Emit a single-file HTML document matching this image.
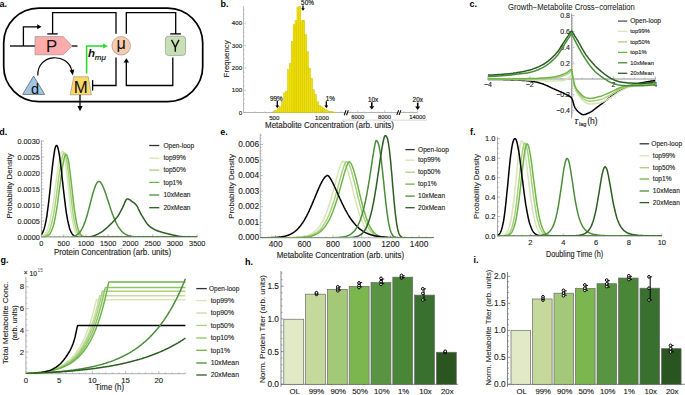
<!DOCTYPE html>
<html><head><meta charset="utf-8"><style>
html,body{margin:0;padding:0;background:#fff;}
svg{display:block;}
text{font-family:"Liberation Sans",sans-serif;}
</style></head><body>
<svg width="685" height="395" viewBox="0 0 685 395">
<defs><clipPath id="cd"><rect x="41.4" y="120" width="160" height="116.6"/></clipPath><clipPath id="ce"><rect x="260" y="120" width="175" height="117.3"/></clipPath><clipPath id="cf"><rect x="497.5" y="120" width="166" height="115.6"/></clipPath><clipPath id="cg"><rect x="25.9" y="270" width="162" height="103.6"/></clipPath></defs>
<rect width="685" height="395" fill="#fff"/>
<text x="-0.50" y="7.00" font-size="9" text-anchor="start" fill="#000" font-weight="bold" font-style="normal" font-family="Liberation Sans" >a.</text>
<rect x="3.7" y="8.1" width="199.0" height="93.5" rx="35" ry="35" fill="none" stroke="#000" stroke-width="1.7"/>
<line x1="10.00" y1="46.00" x2="35.00" y2="46.00" stroke="#000" stroke-width="1.3" />
<line x1="72.00" y1="46.00" x2="77.50" y2="46.00" stroke="#000" stroke-width="1.3" />
<path d="M23.4,46 L23.4,26.8 L38,26.8" stroke="#000" stroke-width="1.3" fill="none" />
<path d="M37.2,24.3 L41.4,26.8 L37.2,29.3 Z" stroke="#000" stroke-width="0" fill="#000" />
<path d="M35,36.6 L63.2,36.6 L72.2,46 L63.2,54.8 L35,54.8 Z" stroke="#8a8a8a" stroke-width="0.6" fill="#ffabab" />
<text x="51.50" y="51.70" font-size="16.8" text-anchor="middle" fill="#111" font-weight="normal" font-style="normal" font-family="Liberation Sans" >P</text>
<path d="M116,33.8 L116,12.6 L52.6,12.6 L52.6,33.9" stroke="#000" stroke-width="1.3" fill="none" />
<line x1="47.30" y1="33.90" x2="57.70" y2="33.90" stroke="#000" stroke-width="1.3" />
<circle cx="121.2" cy="45.8" r="9.3" fill="#f8cbad" stroke="#8a8a8a" stroke-width="0.6"/>
<text x="121.10" y="48.50" font-size="16.2" text-anchor="middle" fill="#111" font-weight="normal" font-style="normal" font-family="Liberation Sans" >μ</text>
<path d="M126.3,33.8 L126.3,12.6 L175.7,12.6 L175.7,33.9" stroke="#000" stroke-width="1.3" fill="none" />
<line x1="170.20" y1="33.90" x2="180.90" y2="33.90" stroke="#000" stroke-width="1.3" />
<rect x="165.4" y="36.2" width="20.1" height="19.2" rx="3" ry="3" fill="#c6e0b4" stroke="#8a8a8a" stroke-width="0.6"/>
<path d="M171.5,39.8 Q173.8,43.5 175.3,47.6 Q176.8,43.5 179.0,39.8 M175.3,47.4 L175.3,51.8" stroke="#111" stroke-width="1.45" fill="none" stroke-linejoin="round"/>
<path d="M172.8,57.4 L172.8,85.5 L126.3,85.5 L126.3,62" stroke="#000" stroke-width="1.3" fill="none" />
<path d="M123.6,62.6 L126.3,58.2 L129,62.6 Z" stroke="#000" stroke-width="0" fill="#000" />
<path d="M116,57.6 L116,85.5 L92.6,85.5" stroke="#000" stroke-width="1.3" fill="none" />
<line x1="92.60" y1="80.10" x2="92.60" y2="90.60" stroke="#000" stroke-width="1.3" />
<path d="M86.6,73.4 L86.6,45.9 L104,45.9" stroke="#22dd22" stroke-width="1.5" fill="none" />
<path d="M103.2,43.4 L107.8,45.9 L103.2,48.4 Z" stroke="#000" stroke-width="0" fill="#22dd22" />
<text x="88.00" y="56.80" font-size="11.5" text-anchor="start" fill="#111" font-weight="bold" font-style="italic" font-family="Liberation Serif" >h</text>
<text x="94.80" y="59.90" font-size="8.0" text-anchor="start" fill="#111" font-weight="normal" font-style="italic" font-family="Liberation Serif" stroke="#111" stroke-width="0.2" >mμ</text>
<path d="M33.6,76 L44.7,94.4 L22.6,94.4 Z" stroke="#555" stroke-width="0.7" fill="#9fc5e8" />
<text x="35.00" y="94.20" font-size="14.5" text-anchor="middle" fill="#111" font-weight="normal" font-style="normal" font-family="Liberation Sans" >d</text>
<path d="M37.8,75.5 C37.0,53.5 68,52 71.8,70.8" stroke="#000" stroke-width="1.2" fill="none" />
<path d="M69.6,70.6 L72.9,75.2 L74.2,69.6 Z" stroke="#000" stroke-width="0" fill="#000" />
<path d="M73.8,76.8 L88.2,76.8 L91.4,94.8 L70.2,94.8 Z" stroke="#8a8a8a" stroke-width="0.6" fill="#ffd966" />
<text x="80.70" y="92.70" font-size="16.8" text-anchor="middle" fill="#111" font-weight="normal" font-style="normal" font-family="Liberation Sans" >M</text>
<line x1="80.00" y1="94.80" x2="80.00" y2="106.50" stroke="#000" stroke-width="1.3" />
<path d="M77.4,106 L80,111.2 L82.6,106 Z" stroke="#000" stroke-width="0" fill="#000" />
<text x="220.40" y="7.00" font-size="9" text-anchor="start" fill="#000" font-weight="bold" font-style="normal" font-family="Liberation Sans" >b.</text>
<line x1="243.50" y1="6.00" x2="243.50" y2="112.50" stroke="#aaa" stroke-width="0.8" />
<line x1="243.50" y1="112.50" x2="246.30" y2="112.50" stroke="#aaa" stroke-width="0.6" />
<text x="242.20" y="114.70" font-size="6.2" text-anchor="end" fill="#222" font-weight="normal" font-style="normal" font-family="Liberation Sans" stroke="#222" stroke-width="0.15" >0</text>
<line x1="243.50" y1="90.17" x2="246.30" y2="90.17" stroke="#aaa" stroke-width="0.6" />
<text x="242.20" y="92.38" font-size="6.2" text-anchor="end" fill="#222" font-weight="normal" font-style="normal" font-family="Liberation Sans" stroke="#222" stroke-width="0.15" >100</text>
<line x1="243.50" y1="67.85" x2="246.30" y2="67.85" stroke="#aaa" stroke-width="0.6" />
<text x="242.20" y="70.05" font-size="6.2" text-anchor="end" fill="#222" font-weight="normal" font-style="normal" font-family="Liberation Sans" stroke="#222" stroke-width="0.15" >200</text>
<line x1="243.50" y1="45.53" x2="246.30" y2="45.53" stroke="#aaa" stroke-width="0.6" />
<text x="242.20" y="47.73" font-size="6.2" text-anchor="end" fill="#222" font-weight="normal" font-style="normal" font-family="Liberation Sans" stroke="#222" stroke-width="0.15" >300</text>
<line x1="243.50" y1="23.20" x2="246.30" y2="23.20" stroke="#aaa" stroke-width="0.6" />
<text x="242.20" y="25.40" font-size="6.2" text-anchor="end" fill="#222" font-weight="normal" font-style="normal" font-family="Liberation Sans" stroke="#222" stroke-width="0.15" >400</text>
<line x1="243.50" y1="108.03" x2="245.00" y2="108.03" stroke="#aaa" stroke-width="0.5" />
<line x1="243.50" y1="103.57" x2="245.00" y2="103.57" stroke="#aaa" stroke-width="0.5" />
<line x1="243.50" y1="99.11" x2="245.00" y2="99.11" stroke="#aaa" stroke-width="0.5" />
<line x1="243.50" y1="94.64" x2="245.00" y2="94.64" stroke="#aaa" stroke-width="0.5" />
<line x1="243.50" y1="85.71" x2="245.00" y2="85.71" stroke="#aaa" stroke-width="0.5" />
<line x1="243.50" y1="81.25" x2="245.00" y2="81.25" stroke="#aaa" stroke-width="0.5" />
<line x1="243.50" y1="76.78" x2="245.00" y2="76.78" stroke="#aaa" stroke-width="0.5" />
<line x1="243.50" y1="72.31" x2="245.00" y2="72.31" stroke="#aaa" stroke-width="0.5" />
<line x1="243.50" y1="63.38" x2="245.00" y2="63.38" stroke="#aaa" stroke-width="0.5" />
<line x1="243.50" y1="58.92" x2="245.00" y2="58.92" stroke="#aaa" stroke-width="0.5" />
<line x1="243.50" y1="54.45" x2="245.00" y2="54.45" stroke="#aaa" stroke-width="0.5" />
<line x1="243.50" y1="49.99" x2="245.00" y2="49.99" stroke="#aaa" stroke-width="0.5" />
<line x1="243.50" y1="41.06" x2="245.00" y2="41.06" stroke="#aaa" stroke-width="0.5" />
<line x1="243.50" y1="36.59" x2="245.00" y2="36.59" stroke="#aaa" stroke-width="0.5" />
<line x1="243.50" y1="32.13" x2="245.00" y2="32.13" stroke="#aaa" stroke-width="0.5" />
<line x1="243.50" y1="27.66" x2="245.00" y2="27.66" stroke="#aaa" stroke-width="0.5" />
<line x1="243.50" y1="18.73" x2="245.00" y2="18.73" stroke="#aaa" stroke-width="0.5" />
<line x1="243.50" y1="14.27" x2="245.00" y2="14.27" stroke="#aaa" stroke-width="0.5" />
<line x1="243.50" y1="9.80" x2="245.00" y2="9.80" stroke="#aaa" stroke-width="0.5" />
<text x="0.00" y="0.00" font-size="8.0" text-anchor="middle" fill="#222" font-weight="normal" font-style="normal" font-family="Liberation Sans" stroke="#222" stroke-width="0.1" textLength="37.0" lengthAdjust="spacingAndGlyphs" transform="translate(228.6,58.9) rotate(-90)">Frequency</text>
<line x1="243.50" y1="112.50" x2="345.00" y2="112.50" stroke="#aaa" stroke-width="0.9" />
<line x1="347.50" y1="112.50" x2="398.00" y2="112.50" stroke="#aaa" stroke-width="0.9" />
<line x1="400.50" y1="112.50" x2="417.70" y2="112.50" stroke="#aaa" stroke-width="0.9" />
<rect x="272.90" y="111.50" width="2.10" height="1.00" fill="#f0e000" stroke="#c9ba00" stroke-width="0.35"/>
<rect x="275.00" y="110.60" width="2.10" height="1.90" fill="#f0e000" stroke="#c9ba00" stroke-width="0.35"/>
<rect x="277.10" y="108.80" width="2.10" height="3.70" fill="#f0e000" stroke="#c9ba00" stroke-width="0.35"/>
<rect x="279.20" y="106.60" width="2.10" height="5.90" fill="#f0e000" stroke="#c9ba00" stroke-width="0.35"/>
<rect x="281.30" y="101.30" width="2.10" height="11.20" fill="#f0e000" stroke="#c9ba00" stroke-width="0.35"/>
<rect x="283.40" y="92.90" width="2.00" height="19.60" fill="#f0e000" stroke="#c9ba00" stroke-width="0.35"/>
<rect x="285.40" y="91.10" width="2.00" height="21.40" fill="#f0e000" stroke="#c9ba00" stroke-width="0.35"/>
<rect x="287.40" y="69.70" width="1.90" height="42.80" fill="#f0e000" stroke="#c9ba00" stroke-width="0.35"/>
<rect x="289.30" y="63.60" width="1.90" height="48.90" fill="#f0e000" stroke="#c9ba00" stroke-width="0.35"/>
<rect x="291.20" y="41.30" width="1.90" height="71.20" fill="#f0e000" stroke="#c9ba00" stroke-width="0.35"/>
<rect x="293.10" y="24.80" width="1.90" height="87.70" fill="#f0e000" stroke="#c9ba00" stroke-width="0.35"/>
<rect x="295.00" y="20.80" width="1.90" height="91.70" fill="#f0e000" stroke="#c9ba00" stroke-width="0.35"/>
<rect x="296.90" y="7.40" width="2.00" height="105.10" fill="#f0e000" stroke="#c9ba00" stroke-width="0.35"/>
<rect x="298.90" y="6.20" width="2.00" height="106.30" fill="#f0e000" stroke="#c9ba00" stroke-width="0.35"/>
<rect x="300.90" y="20.80" width="2.00" height="91.70" fill="#f0e000" stroke="#c9ba00" stroke-width="0.35"/>
<rect x="302.90" y="20.30" width="1.90" height="92.20" fill="#f0e000" stroke="#c9ba00" stroke-width="0.35"/>
<rect x="304.80" y="34.50" width="2.00" height="78.00" fill="#f0e000" stroke="#c9ba00" stroke-width="0.35"/>
<rect x="306.80" y="51.80" width="1.90" height="60.70" fill="#f0e000" stroke="#c9ba00" stroke-width="0.35"/>
<rect x="308.70" y="68.10" width="1.90" height="44.40" fill="#f0e000" stroke="#c9ba00" stroke-width="0.35"/>
<rect x="310.60" y="78.30" width="2.10" height="34.20" fill="#f0e000" stroke="#c9ba00" stroke-width="0.35"/>
<rect x="312.70" y="89.70" width="1.90" height="22.80" fill="#f0e000" stroke="#c9ba00" stroke-width="0.35"/>
<rect x="314.60" y="94.10" width="2.00" height="18.40" fill="#f0e000" stroke="#c9ba00" stroke-width="0.35"/>
<rect x="316.60" y="101.70" width="2.10" height="10.80" fill="#f0e000" stroke="#c9ba00" stroke-width="0.35"/>
<rect x="318.70" y="105.50" width="1.90" height="7.00" fill="#f0e000" stroke="#c9ba00" stroke-width="0.35"/>
<rect x="320.60" y="106.80" width="1.90" height="5.70" fill="#f0e000" stroke="#c9ba00" stroke-width="0.35"/>
<rect x="322.50" y="108.00" width="1.90" height="4.50" fill="#f0e000" stroke="#c9ba00" stroke-width="0.35"/>
<rect x="324.40" y="109.30" width="2.00" height="3.20" fill="#f0e000" stroke="#c9ba00" stroke-width="0.35"/>
<rect x="326.40" y="110.30" width="2.00" height="2.20" fill="#f0e000" stroke="#c9ba00" stroke-width="0.35"/>
<rect x="328.40" y="111.20" width="2.00" height="1.30" fill="#f0e000" stroke="#c9ba00" stroke-width="0.35"/>
<rect x="330.40" y="111.60" width="2.00" height="0.90" fill="#f0e000" stroke="#c9ba00" stroke-width="0.35"/>
<rect x="332.40" y="111.90" width="2.00" height="0.60" fill="#f0e000" stroke="#c9ba00" stroke-width="0.35"/>
<rect x="334.40" y="112.10" width="2.20" height="0.40" fill="#f0e000" stroke="#c9ba00" stroke-width="0.35"/>
<line x1="344.20" y1="115.30" x2="346.00" y2="110.30" stroke="#111" stroke-width="1.1" />
<line x1="346.50" y1="115.30" x2="348.30" y2="110.30" stroke="#111" stroke-width="1.1" />
<line x1="396.80" y1="115.00" x2="398.60" y2="110.20" stroke="#111" stroke-width="1.1" />
<line x1="399.10" y1="115.00" x2="400.90" y2="110.20" stroke="#111" stroke-width="1.1" />
<line x1="274.30" y1="112.50" x2="274.30" y2="110.30" stroke="#aaa" stroke-width="0.6" />
<text x="274.30" y="119.80" font-size="6.2" text-anchor="middle" fill="#222" font-weight="normal" font-style="normal" font-family="Liberation Sans" stroke="#222" stroke-width="0.15" >500</text>
<line x1="322.00" y1="112.50" x2="322.00" y2="110.30" stroke="#aaa" stroke-width="0.6" />
<text x="322.00" y="119.80" font-size="6.2" text-anchor="middle" fill="#222" font-weight="normal" font-style="normal" font-family="Liberation Sans" stroke="#222" stroke-width="0.15" >1000</text>
<line x1="255.22" y1="112.50" x2="255.22" y2="111.30" stroke="#aaa" stroke-width="0.5" />
<line x1="264.76" y1="112.50" x2="264.76" y2="111.30" stroke="#aaa" stroke-width="0.5" />
<line x1="283.84" y1="112.50" x2="283.84" y2="111.30" stroke="#aaa" stroke-width="0.5" />
<line x1="293.38" y1="112.50" x2="293.38" y2="111.30" stroke="#aaa" stroke-width="0.5" />
<line x1="302.92" y1="112.50" x2="302.92" y2="111.30" stroke="#aaa" stroke-width="0.5" />
<line x1="312.46" y1="112.50" x2="312.46" y2="111.30" stroke="#aaa" stroke-width="0.5" />
<line x1="331.54" y1="112.50" x2="331.54" y2="111.30" stroke="#aaa" stroke-width="0.5" />
<line x1="341.08" y1="112.50" x2="341.08" y2="111.30" stroke="#aaa" stroke-width="0.5" />
<line x1="357.70" y1="112.50" x2="357.70" y2="110.30" stroke="#aaa" stroke-width="0.6" />
<text x="357.70" y="119.40" font-size="5.9" text-anchor="middle" fill="#222" font-weight="normal" font-style="normal" font-family="Liberation Sans" stroke="#222" stroke-width="0.15" >6000</text>
<line x1="384.60" y1="112.50" x2="384.60" y2="110.30" stroke="#aaa" stroke-width="0.6" />
<text x="384.60" y="119.40" font-size="5.9" text-anchor="middle" fill="#222" font-weight="normal" font-style="normal" font-family="Liberation Sans" stroke="#222" stroke-width="0.15" >8000</text>
<line x1="417.40" y1="112.50" x2="417.40" y2="110.30" stroke="#aaa" stroke-width="0.6" />
<text x="417.40" y="119.40" font-size="5.9" text-anchor="middle" fill="#222" font-weight="normal" font-style="normal" font-family="Liberation Sans" stroke="#222" stroke-width="0.15" >14000</text>
<line x1="350.93" y1="112.50" x2="350.93" y2="111.30" stroke="#aaa" stroke-width="0.5" />
<line x1="364.47" y1="112.50" x2="364.47" y2="111.30" stroke="#aaa" stroke-width="0.5" />
<line x1="371.25" y1="112.50" x2="371.25" y2="111.30" stroke="#aaa" stroke-width="0.5" />
<line x1="378.02" y1="112.50" x2="378.02" y2="111.30" stroke="#aaa" stroke-width="0.5" />
<line x1="391.57" y1="112.50" x2="391.57" y2="111.30" stroke="#aaa" stroke-width="0.5" />
<line x1="404.20" y1="112.50" x2="404.20" y2="111.30" stroke="#aaa" stroke-width="0.5" />
<line x1="410.80" y1="112.50" x2="410.80" y2="111.30" stroke="#aaa" stroke-width="0.5" />
<line x1="342.00" y1="120.10" x2="427.00" y2="120.10" stroke="#bbb" stroke-width="0.6" />
<text x="329.50" y="127.60" font-size="8.6" text-anchor="middle" fill="#222" font-weight="normal" font-style="normal" font-family="Liberation Sans" stroke="#222" stroke-width="0.12" textLength="129.0" lengthAdjust="spacingAndGlyphs" >Metabolite Concentration (arb. units)</text>
<line x1="303.00" y1="5.40" x2="303.00" y2="8.70" stroke="#000" stroke-width="1.3" />
<path d="M301.20,8.20 L303.00,10.80 L304.80,8.20 Z" stroke="#000" stroke-width="0" fill="#000" />
<text x="301.10" y="5.00" font-size="6.4" text-anchor="start" fill="#111" font-weight="normal" font-style="normal" font-family="Liberation Sans" stroke="#111" stroke-width="0.15" >50%</text>
<line x1="277.30" y1="100.60" x2="277.30" y2="105.90" stroke="#000" stroke-width="1.3" />
<path d="M275.40,105.40 L277.30,108.20 L279.20,105.40 Z" stroke="#000" stroke-width="0" fill="#000" />
<text x="270.00" y="100.70" font-size="6.4" text-anchor="start" fill="#111" font-weight="normal" font-style="normal" font-family="Liberation Sans" stroke="#111" stroke-width="0.15" >99%</text>
<line x1="326.30" y1="101.20" x2="326.30" y2="105.90" stroke="#000" stroke-width="1.3" />
<path d="M324.40,105.40 L326.30,108.20 L328.20,105.40 Z" stroke="#000" stroke-width="0" fill="#000" />
<text x="325.70" y="101.00" font-size="6.4" text-anchor="start" fill="#111" font-weight="normal" font-style="normal" font-family="Liberation Sans" stroke="#111" stroke-width="0.15" >1%</text>
<line x1="371.80" y1="102.20" x2="371.80" y2="106.70" stroke="#000" stroke-width="1.6" />
<path d="M369.30,106.20 L371.80,109.60 L374.30,106.20 Z" stroke="#000" stroke-width="0" fill="#000" />
<text x="368.00" y="101.70" font-size="6.4" text-anchor="start" fill="#111" font-weight="normal" font-style="normal" font-family="Liberation Sans" stroke="#111" stroke-width="0.15" >10x</text>
<line x1="417.70" y1="102.60" x2="417.70" y2="107.10" stroke="#000" stroke-width="1.6" />
<path d="M415.20,106.60 L417.70,110.00 L420.20,106.60 Z" stroke="#000" stroke-width="0" fill="#000" />
<text x="412.60" y="102.20" font-size="6.4" text-anchor="start" fill="#111" font-weight="normal" font-style="normal" font-family="Liberation Sans" stroke="#111" stroke-width="0.15" >20x</text>
<text x="469.60" y="7.10" font-size="9" text-anchor="start" fill="#000" font-weight="bold" font-style="normal" font-family="Liberation Sans" >c.</text>
<text x="571.50" y="10.00" font-size="8.2" text-anchor="middle" fill="#222" font-weight="normal" font-style="normal" font-family="Liberation Sans" stroke="#222" stroke-width="0.05" textLength="126.8" lengthAdjust="spacingAndGlyphs" >Growth−Metabolite Cross−correlation</text>
<line x1="487.50" y1="79.00" x2="656.00" y2="79.00" stroke="#777" stroke-width="0.8" />
<line x1="571.70" y1="13.50" x2="571.70" y2="118.50" stroke="#777" stroke-width="0.8" />
<line x1="571.70" y1="110.75" x2="574.50" y2="110.75" stroke="#888" stroke-width="0.6" />
<text x="570.00" y="113.15" font-size="7.0" text-anchor="end" fill="#222" font-weight="normal" font-style="normal" font-family="Liberation Sans" stroke="#222" stroke-width="0.12" >−0.4</text>
<line x1="571.70" y1="94.88" x2="574.50" y2="94.88" stroke="#888" stroke-width="0.6" />
<text x="570.00" y="97.28" font-size="7.0" text-anchor="end" fill="#222" font-weight="normal" font-style="normal" font-family="Liberation Sans" stroke="#222" stroke-width="0.12" >−0.2</text>
<line x1="571.70" y1="63.12" x2="574.50" y2="63.12" stroke="#888" stroke-width="0.6" />
<text x="570.00" y="65.53" font-size="7.0" text-anchor="end" fill="#222" font-weight="normal" font-style="normal" font-family="Liberation Sans" stroke="#222" stroke-width="0.12" >0.2</text>
<line x1="571.70" y1="47.25" x2="574.50" y2="47.25" stroke="#888" stroke-width="0.6" />
<text x="570.00" y="49.65" font-size="7.0" text-anchor="end" fill="#222" font-weight="normal" font-style="normal" font-family="Liberation Sans" stroke="#222" stroke-width="0.12" >0.4</text>
<line x1="571.70" y1="31.38" x2="574.50" y2="31.38" stroke="#888" stroke-width="0.6" />
<text x="570.00" y="33.77" font-size="7.0" text-anchor="end" fill="#222" font-weight="normal" font-style="normal" font-family="Liberation Sans" stroke="#222" stroke-width="0.12" >0.6</text>
<line x1="571.70" y1="15.50" x2="574.50" y2="15.50" stroke="#888" stroke-width="0.6" />
<text x="570.00" y="17.90" font-size="7.0" text-anchor="end" fill="#222" font-weight="normal" font-style="normal" font-family="Liberation Sans" stroke="#222" stroke-width="0.12" >0.8</text>
<line x1="571.70" y1="113.92" x2="573.20" y2="113.92" stroke="#888" stroke-width="0.5" />
<line x1="571.70" y1="112.34" x2="573.20" y2="112.34" stroke="#888" stroke-width="0.5" />
<line x1="571.70" y1="109.16" x2="573.20" y2="109.16" stroke="#888" stroke-width="0.5" />
<line x1="571.70" y1="107.58" x2="573.20" y2="107.58" stroke="#888" stroke-width="0.5" />
<line x1="571.70" y1="105.99" x2="573.20" y2="105.99" stroke="#888" stroke-width="0.5" />
<line x1="571.70" y1="104.40" x2="573.20" y2="104.40" stroke="#888" stroke-width="0.5" />
<line x1="571.70" y1="102.81" x2="573.20" y2="102.81" stroke="#888" stroke-width="0.5" />
<line x1="571.70" y1="101.22" x2="573.20" y2="101.22" stroke="#888" stroke-width="0.5" />
<line x1="571.70" y1="99.64" x2="573.20" y2="99.64" stroke="#888" stroke-width="0.5" />
<line x1="571.70" y1="98.05" x2="573.20" y2="98.05" stroke="#888" stroke-width="0.5" />
<line x1="571.70" y1="96.46" x2="573.20" y2="96.46" stroke="#888" stroke-width="0.5" />
<line x1="571.70" y1="93.29" x2="573.20" y2="93.29" stroke="#888" stroke-width="0.5" />
<line x1="571.70" y1="91.70" x2="573.20" y2="91.70" stroke="#888" stroke-width="0.5" />
<line x1="571.70" y1="90.11" x2="573.20" y2="90.11" stroke="#888" stroke-width="0.5" />
<line x1="571.70" y1="88.53" x2="573.20" y2="88.53" stroke="#888" stroke-width="0.5" />
<line x1="571.70" y1="86.94" x2="573.20" y2="86.94" stroke="#888" stroke-width="0.5" />
<line x1="571.70" y1="85.35" x2="573.20" y2="85.35" stroke="#888" stroke-width="0.5" />
<line x1="571.70" y1="83.76" x2="573.20" y2="83.76" stroke="#888" stroke-width="0.5" />
<line x1="571.70" y1="82.17" x2="573.20" y2="82.17" stroke="#888" stroke-width="0.5" />
<line x1="571.70" y1="80.59" x2="573.20" y2="80.59" stroke="#888" stroke-width="0.5" />
<line x1="571.70" y1="77.41" x2="573.20" y2="77.41" stroke="#888" stroke-width="0.5" />
<line x1="571.70" y1="75.83" x2="573.20" y2="75.83" stroke="#888" stroke-width="0.5" />
<line x1="571.70" y1="74.24" x2="573.20" y2="74.24" stroke="#888" stroke-width="0.5" />
<line x1="571.70" y1="72.65" x2="573.20" y2="72.65" stroke="#888" stroke-width="0.5" />
<line x1="571.70" y1="71.06" x2="573.20" y2="71.06" stroke="#888" stroke-width="0.5" />
<line x1="571.70" y1="69.47" x2="573.20" y2="69.47" stroke="#888" stroke-width="0.5" />
<line x1="571.70" y1="67.89" x2="573.20" y2="67.89" stroke="#888" stroke-width="0.5" />
<line x1="571.70" y1="66.30" x2="573.20" y2="66.30" stroke="#888" stroke-width="0.5" />
<line x1="571.70" y1="64.71" x2="573.20" y2="64.71" stroke="#888" stroke-width="0.5" />
<line x1="571.70" y1="61.54" x2="573.20" y2="61.54" stroke="#888" stroke-width="0.5" />
<line x1="571.70" y1="59.95" x2="573.20" y2="59.95" stroke="#888" stroke-width="0.5" />
<line x1="571.70" y1="58.36" x2="573.20" y2="58.36" stroke="#888" stroke-width="0.5" />
<line x1="571.70" y1="56.77" x2="573.20" y2="56.77" stroke="#888" stroke-width="0.5" />
<line x1="571.70" y1="55.19" x2="573.20" y2="55.19" stroke="#888" stroke-width="0.5" />
<line x1="571.70" y1="53.60" x2="573.20" y2="53.60" stroke="#888" stroke-width="0.5" />
<line x1="571.70" y1="52.01" x2="573.20" y2="52.01" stroke="#888" stroke-width="0.5" />
<line x1="571.70" y1="50.42" x2="573.20" y2="50.42" stroke="#888" stroke-width="0.5" />
<line x1="571.70" y1="48.84" x2="573.20" y2="48.84" stroke="#888" stroke-width="0.5" />
<line x1="571.70" y1="45.66" x2="573.20" y2="45.66" stroke="#888" stroke-width="0.5" />
<line x1="571.70" y1="44.08" x2="573.20" y2="44.08" stroke="#888" stroke-width="0.5" />
<line x1="571.70" y1="42.49" x2="573.20" y2="42.49" stroke="#888" stroke-width="0.5" />
<line x1="571.70" y1="40.90" x2="573.20" y2="40.90" stroke="#888" stroke-width="0.5" />
<line x1="571.70" y1="39.31" x2="573.20" y2="39.31" stroke="#888" stroke-width="0.5" />
<line x1="571.70" y1="37.73" x2="573.20" y2="37.73" stroke="#888" stroke-width="0.5" />
<line x1="571.70" y1="36.14" x2="573.20" y2="36.14" stroke="#888" stroke-width="0.5" />
<line x1="571.70" y1="34.55" x2="573.20" y2="34.55" stroke="#888" stroke-width="0.5" />
<line x1="571.70" y1="32.96" x2="573.20" y2="32.96" stroke="#888" stroke-width="0.5" />
<line x1="571.70" y1="29.79" x2="573.20" y2="29.79" stroke="#888" stroke-width="0.5" />
<line x1="571.70" y1="28.20" x2="573.20" y2="28.20" stroke="#888" stroke-width="0.5" />
<line x1="571.70" y1="26.61" x2="573.20" y2="26.61" stroke="#888" stroke-width="0.5" />
<line x1="571.70" y1="25.03" x2="573.20" y2="25.03" stroke="#888" stroke-width="0.5" />
<line x1="571.70" y1="23.44" x2="573.20" y2="23.44" stroke="#888" stroke-width="0.5" />
<line x1="571.70" y1="21.85" x2="573.20" y2="21.85" stroke="#888" stroke-width="0.5" />
<line x1="571.70" y1="20.26" x2="573.20" y2="20.26" stroke="#888" stroke-width="0.5" />
<line x1="571.70" y1="18.68" x2="573.20" y2="18.68" stroke="#888" stroke-width="0.5" />
<line x1="571.70" y1="17.09" x2="573.20" y2="17.09" stroke="#888" stroke-width="0.5" />
<line x1="487.90" y1="79.00" x2="487.90" y2="76.50" stroke="#888" stroke-width="0.6" />
<text x="487.90" y="87.30" font-size="7.0" text-anchor="middle" fill="#222" font-weight="normal" font-style="normal" font-family="Liberation Sans" stroke="#222" stroke-width="0.12" >−4</text>
<line x1="529.75" y1="79.00" x2="529.75" y2="76.50" stroke="#888" stroke-width="0.6" />
<text x="529.75" y="87.30" font-size="7.0" text-anchor="middle" fill="#222" font-weight="normal" font-style="normal" font-family="Liberation Sans" stroke="#222" stroke-width="0.12" >−2</text>
<line x1="613.45" y1="79.00" x2="613.45" y2="76.50" stroke="#888" stroke-width="0.6" />
<text x="613.45" y="87.30" font-size="7.0" text-anchor="middle" fill="#222" font-weight="normal" font-style="normal" font-family="Liberation Sans" stroke="#222" stroke-width="0.12" >2</text>
<line x1="655.30" y1="79.00" x2="655.30" y2="76.50" stroke="#888" stroke-width="0.6" />
<text x="655.30" y="87.30" font-size="7.0" text-anchor="middle" fill="#222" font-weight="normal" font-style="normal" font-family="Liberation Sans" stroke="#222" stroke-width="0.12" >4</text>
<line x1="498.36" y1="79.00" x2="498.36" y2="77.60" stroke="#888" stroke-width="0.5" />
<line x1="508.82" y1="79.00" x2="508.82" y2="77.60" stroke="#888" stroke-width="0.5" />
<line x1="519.29" y1="79.00" x2="519.29" y2="77.60" stroke="#888" stroke-width="0.5" />
<line x1="540.21" y1="79.00" x2="540.21" y2="77.60" stroke="#888" stroke-width="0.5" />
<line x1="550.67" y1="79.00" x2="550.67" y2="77.60" stroke="#888" stroke-width="0.5" />
<line x1="561.14" y1="79.00" x2="561.14" y2="77.60" stroke="#888" stroke-width="0.5" />
<line x1="582.06" y1="79.00" x2="582.06" y2="77.60" stroke="#888" stroke-width="0.5" />
<line x1="592.52" y1="79.00" x2="592.52" y2="77.60" stroke="#888" stroke-width="0.5" />
<line x1="602.99" y1="79.00" x2="602.99" y2="77.60" stroke="#888" stroke-width="0.5" />
<line x1="623.91" y1="79.00" x2="623.91" y2="77.60" stroke="#888" stroke-width="0.5" />
<line x1="634.38" y1="79.00" x2="634.38" y2="77.60" stroke="#888" stroke-width="0.5" />
<line x1="644.84" y1="79.00" x2="644.84" y2="77.60" stroke="#888" stroke-width="0.5" />
<text x="574.60" y="123.60" font-size="9.5" text-anchor="start" fill="#222" font-weight="normal" font-style="italic" font-family="Liberation Serif" stroke="#222" stroke-width="0.12" >τ</text>
<text x="578.90" y="125.70" font-size="5.6" text-anchor="start" fill="#222" font-weight="normal" font-style="normal" font-family="Liberation Sans" stroke="#222" stroke-width="0.12" >lag</text>
<text x="587.20" y="123.50" font-size="8.6" text-anchor="start" fill="#222" font-weight="normal" font-style="normal" font-family="Liberation Sans" stroke="#222" stroke-width="0.12" >(h)</text>
<path d="M487.9,79.4 L488.7,79.4 L489.6,79.4 L490.4,79.4 L491.2,79.4 L492.1,79.4 L492.9,79.4 L493.8,79.4 L494.6,79.5 L495.4,79.5 L496.3,79.5 L497.1,79.5 L497.9,79.5 L498.8,79.5 L499.6,79.5 L500.5,79.6 L501.3,79.6 L502.1,79.6 L503.0,79.6 L503.8,79.7 L504.6,79.7 L505.5,79.7 L506.3,79.7 L507.2,79.7 L508.0,79.8 L508.8,79.8 L509.7,79.8 L510.5,79.8 L511.3,79.9 L512.2,79.9 L513.0,79.9 L513.8,80.0 L514.7,80.0 L515.5,80.0 L516.4,80.1 L517.2,80.1 L518.0,80.2 L518.9,80.2 L519.7,80.2 L520.5,80.3 L521.4,80.3 L522.2,80.4 L523.1,80.4 L523.9,80.5 L524.7,80.6 L525.6,80.6 L526.4,80.7 L527.2,80.8 L528.1,80.8 L528.9,80.9 L529.8,81.0 L530.6,81.1 L531.4,81.2 L532.3,81.3 L533.1,81.4 L533.9,81.6 L534.8,81.8 L535.6,81.9 L536.4,82.1 L537.3,82.3 L538.1,82.5 L539.0,82.8 L539.8,83.0 L540.6,83.2 L541.5,83.5 L542.3,83.7 L543.1,84.0 L544.0,84.4 L544.8,84.7 L545.7,85.1 L546.5,85.4 L547.3,85.8 L548.2,86.2 L549.0,86.6 L549.8,87.0 L550.7,87.4 L551.5,87.8 L552.3,88.2 L553.2,88.6 L554.0,88.9 L554.9,89.3 L555.7,89.7 L556.5,90.0 L557.4,90.4 L558.2,90.7 L559.0,91.1 L559.9,91.5 L560.7,91.8 L561.6,92.2 L562.4,92.6 L563.2,92.9 L564.1,93.3 L564.9,93.8 L565.7,94.2 L566.6,94.6 L567.4,95.1 L568.3,95.5 L569.1,96.0 L569.9,96.5 L570.8,97.2 L571.6,98.0 L572.4,99.8 L573.3,102.6 L574.1,105.5 L574.9,107.6 L575.8,108.9 L576.6,110.0 L577.5,111.0 L578.3,111.8 L579.1,112.5 L580.0,113.1 L580.8,113.7 L581.6,114.3 L582.5,114.6 L583.3,114.7 L584.2,114.6 L585.0,114.4 L585.8,114.2 L586.7,113.8 L587.5,113.5 L588.3,113.1 L589.2,112.8 L590.0,112.3 L590.9,111.9 L591.7,111.3 L592.5,110.8 L593.4,110.2 L594.2,109.5 L595.0,108.9 L595.9,108.2 L596.7,107.6 L597.5,106.9 L598.4,106.3 L599.2,105.7 L600.1,105.0 L600.9,104.4 L601.7,103.8 L602.6,103.2 L603.4,102.5 L604.2,101.9 L605.1,101.2 L605.9,100.5 L606.8,99.9 L607.6,99.2 L608.4,98.6 L609.3,97.9 L610.1,97.3 L610.9,96.6 L611.8,96.0 L612.6,95.4 L613.4,94.9 L614.3,94.3 L615.1,93.8 L616.0,93.2 L616.8,92.6 L617.6,92.1 L618.5,91.6 L619.3,91.0 L620.1,90.5 L621.0,90.1 L621.8,89.6 L622.7,89.1 L623.5,88.7 L624.3,88.3 L625.2,88.0 L626.0,87.6 L626.8,87.2 L627.7,86.9 L628.5,86.5 L629.4,86.2 L630.2,85.9 L631.0,85.6 L631.9,85.3 L632.7,85.1 L633.5,84.8 L634.4,84.6 L635.2,84.3 L636.0,84.1 L636.9,83.9 L637.7,83.7 L638.6,83.5 L639.4,83.3 L640.2,83.1 L641.1,82.9 L641.9,82.7 L642.7,82.6 L643.6,82.4 L644.4,82.3 L645.3,82.1 L646.1,81.9 L646.9,81.8 L647.8,81.7 L648.6,81.5 L649.4,81.4 L650.3,81.3 L651.1,81.1 L652.0,81.0 L652.8,80.9 L653.6,80.8 L654.5,80.7 L655.3,80.6" stroke="#000000" stroke-width="1.5" fill="none" stroke-linejoin="round"/>
<path d="M487.9,79.4 L488.7,79.4 L489.6,79.4 L490.4,79.4 L491.2,79.4 L492.1,79.4 L492.9,79.4 L493.8,79.4 L494.6,79.4 L495.4,79.4 L496.3,79.4 L497.1,79.4 L497.9,79.4 L498.8,79.4 L499.6,79.5 L500.5,79.5 L501.3,79.5 L502.1,79.5 L503.0,79.5 L503.8,79.5 L504.6,79.5 L505.5,79.5 L506.3,79.5 L507.2,79.5 L508.0,79.5 L508.8,79.6 L509.7,79.6 L510.5,79.6 L511.3,79.6 L512.2,79.6 L513.0,79.6 L513.8,79.6 L514.7,79.7 L515.5,79.7 L516.4,79.7 L517.2,79.7 L518.0,79.7 L518.9,79.7 L519.7,79.7 L520.5,79.8 L521.4,79.8 L522.2,79.8 L523.1,79.8 L523.9,79.8 L524.7,79.8 L525.6,79.9 L526.4,79.9 L527.2,79.9 L528.1,79.9 L528.9,79.9 L529.8,80.0 L530.6,80.0 L531.4,80.0 L532.3,80.0 L533.1,80.1 L533.9,80.1 L534.8,80.2 L535.6,80.2 L536.4,80.3 L537.3,80.3 L538.1,80.4 L539.0,80.4 L539.8,80.5 L540.6,80.6 L541.5,80.6 L542.3,80.7 L543.1,80.7 L544.0,80.8 L544.8,80.8 L545.7,80.9 L546.5,80.9 L547.3,80.9 L548.2,80.9 L549.0,81.0 L549.8,81.0 L550.7,81.0 L551.5,81.0 L552.3,81.0 L553.2,81.0 L554.0,81.0 L554.9,80.9 L555.7,80.9 L556.5,80.9 L557.4,80.9 L558.2,80.8 L559.0,80.8 L559.9,80.8 L560.7,80.7 L561.6,80.7 L562.4,80.6 L563.2,80.6 L564.1,80.5 L564.9,80.2 L565.7,79.8 L566.6,79.3 L567.4,78.7 L568.3,78.0 L569.1,77.3 L569.9,76.6 L570.8,75.8 L571.6,75.0" stroke="#d6e6b6" stroke-width="1.5" fill="none" stroke-linejoin="round"/>
<path d="M571.6,75.0 L572.4,79.1 L573.3,82.8 L574.1,86.0 L574.9,88.5 L575.8,90.5 L576.6,92.2 L577.5,93.7 L578.3,95.0 L579.1,96.2 L580.0,97.3 L580.8,98.3 L581.6,99.2 L582.5,100.0 L583.3,100.8 L584.2,101.5 L585.0,102.0 L585.8,102.5 L586.7,103.0 L587.5,103.4 L588.3,103.7 L589.2,104.0 L590.0,104.0 L590.9,104.0 L591.7,103.9 L592.5,103.9 L593.4,103.8 L594.2,103.7 L595.0,103.6 L595.9,103.5 L596.7,103.4 L597.5,103.2 L598.4,103.1 L599.2,102.9 L600.1,102.8 L600.9,102.6 L601.7,102.3 L602.6,102.0 L603.4,101.6 L604.2,101.2 L605.1,100.8 L605.9,100.3 L606.8,99.9 L607.6,99.4 L608.4,98.9 L609.3,98.4 L610.1,97.9 L610.9,97.4 L611.8,96.9 L612.6,96.3 L613.4,95.7 L614.3,95.1 L615.1,94.5 L616.0,93.9 L616.8,93.3 L617.6,92.7 L618.5,92.2 L619.3,91.6 L620.1,91.2 L621.0,90.8 L621.8,90.3 L622.7,89.9 L623.5,89.5 L624.3,89.0 L625.2,88.7 L626.0,88.3 L626.8,87.9 L627.7,87.6 L628.5,87.3 L629.4,87.1 L630.2,86.9 L631.0,86.7 L631.9,86.5 L632.7,86.4 L633.5,86.2 L634.4,86.0 L635.2,85.9 L636.0,85.8 L636.9,85.6 L637.7,85.5 L638.6,85.4 L639.4,85.3 L640.2,85.2 L641.1,85.1 L641.9,85.0 L642.7,85.0 L643.6,84.9 L644.4,84.8 L645.3,84.7 L646.1,84.7 L646.9,84.6 L647.8,84.5 L648.6,84.5 L649.4,84.4 L650.3,84.4 L651.1,84.3 L652.0,84.3 L652.8,84.2 L653.6,84.2 L654.5,84.2 L655.3,84.2" stroke="#d6e6b6" stroke-width="1.5" fill="none" stroke-linejoin="round"/>
<path d="M487.9,79.0 L488.7,79.0 L489.6,79.0 L490.4,79.0 L491.2,79.0 L492.1,79.0 L492.9,79.0 L493.8,79.0 L494.6,79.0 L495.4,79.0 L496.3,79.0 L497.1,79.0 L497.9,79.0 L498.8,79.0 L499.6,79.0 L500.5,79.0 L501.3,79.0 L502.1,79.0 L503.0,79.0 L503.8,79.0 L504.6,79.0 L505.5,79.0 L506.3,79.0 L507.2,79.0 L508.0,79.0 L508.8,79.0 L509.7,79.0 L510.5,79.0 L511.3,79.0 L512.2,79.0 L513.0,79.0 L513.8,79.0 L514.7,79.0 L515.5,79.0 L516.4,79.0 L517.2,79.0 L518.0,79.0 L518.9,79.0 L519.7,79.0 L520.5,79.0 L521.4,79.0 L522.2,79.0 L523.1,79.0 L523.9,79.0 L524.7,79.0 L525.6,79.0 L526.4,79.0 L527.2,79.0 L528.1,79.0 L528.9,79.0 L529.8,79.0 L530.6,79.0 L531.4,79.0 L532.3,79.0 L533.1,79.0 L533.9,79.0 L534.8,79.0 L535.6,78.9 L536.4,78.9 L537.3,78.9 L538.1,78.9 L539.0,78.9 L539.8,78.8 L540.6,78.8 L541.5,78.8 L542.3,78.8 L543.1,78.7 L544.0,78.7 L544.8,78.7 L545.7,78.6 L546.5,78.6 L547.3,78.5 L548.2,78.5 L549.0,78.5 L549.8,78.4 L550.7,78.4 L551.5,78.3 L552.3,78.2 L553.2,78.1 L554.0,78.0 L554.9,77.9 L555.7,77.7 L556.5,77.6 L557.4,77.4 L558.2,77.2 L559.0,77.0 L559.9,76.8 L560.7,76.6 L561.6,76.3 L562.4,76.1 L563.2,75.8 L564.1,75.5 L564.9,75.2 L565.7,74.8 L566.6,74.4 L567.4,73.9 L568.3,73.4 L569.1,72.8 L569.9,72.2 L570.8,71.7 L571.6,71.1" stroke="#a9d07f" stroke-width="1.5" fill="none" stroke-linejoin="round"/>
<path d="M571.6,71.1 L572.4,76.0 L573.3,80.4 L574.1,84.2 L574.9,86.9 L575.8,88.9 L576.6,90.6 L577.5,92.0 L578.3,93.2 L579.1,94.3 L580.0,95.3 L580.8,96.2 L581.6,97.1 L582.5,97.9 L583.3,98.6 L584.2,99.2 L585.0,99.6 L585.8,100.0 L586.7,100.4 L587.5,100.8 L588.3,101.0 L589.2,101.2 L590.0,101.2 L590.9,101.2 L591.7,101.1 L592.5,101.1 L593.4,101.0 L594.2,100.8 L595.0,100.7 L595.9,100.5 L596.7,100.3 L597.5,100.2 L598.4,100.0 L599.2,99.8 L600.1,99.6 L600.9,99.4 L601.7,99.1 L602.6,98.8 L603.4,98.4 L604.2,98.1 L605.1,97.7 L605.9,97.3 L606.8,96.9 L607.6,96.4 L608.4,96.0 L609.3,95.6 L610.1,95.2 L610.9,94.7 L611.8,94.2 L612.6,93.7 L613.4,93.2 L614.3,92.6 L615.1,92.1 L616.0,91.5 L616.8,91.0 L617.6,90.5 L618.5,90.0 L619.3,89.6 L620.1,89.2 L621.0,88.9 L621.8,88.5 L622.7,88.2 L623.5,87.9 L624.3,87.6 L625.2,87.3 L626.0,87.0 L626.8,86.7 L627.7,86.5 L628.5,86.3 L629.4,86.1 L630.2,85.9 L631.0,85.8 L631.9,85.7 L632.7,85.5 L633.5,85.4 L634.4,85.3 L635.2,85.2 L636.0,85.1 L636.9,84.9 L637.7,84.9 L638.6,84.8 L639.4,84.7 L640.2,84.6 L641.1,84.5 L641.9,84.5 L642.7,84.4 L643.6,84.3 L644.4,84.3 L645.3,84.2 L646.1,84.2 L646.9,84.1 L647.8,84.1 L648.6,84.0 L649.4,84.0 L650.3,83.9 L651.1,83.9 L652.0,83.9 L652.8,83.8 L653.6,83.8 L654.5,83.8 L655.3,83.8" stroke="#a9d07f" stroke-width="1.5" fill="none" stroke-linejoin="round"/>
<path d="M487.9,79.0 L488.7,79.0 L489.6,79.0 L490.4,79.0 L491.2,79.0 L492.1,79.0 L492.9,79.0 L493.8,79.0 L494.6,79.0 L495.4,79.0 L496.3,79.0 L497.1,79.0 L497.9,79.0 L498.8,79.0 L499.6,79.0 L500.5,79.0 L501.3,79.0 L502.1,78.9 L503.0,78.9 L503.8,78.9 L504.6,78.9 L505.5,78.9 L506.3,78.9 L507.2,78.9 L508.0,78.9 L508.8,78.9 L509.7,78.9 L510.5,78.9 L511.3,78.9 L512.2,78.9 L513.0,78.8 L513.8,78.8 L514.7,78.8 L515.5,78.8 L516.4,78.8 L517.2,78.8 L518.0,78.8 L518.9,78.8 L519.7,78.8 L520.5,78.8 L521.4,78.7 L522.2,78.7 L523.1,78.7 L523.9,78.7 L524.7,78.7 L525.6,78.7 L526.4,78.7 L527.2,78.6 L528.1,78.6 L528.9,78.6 L529.8,78.6 L530.6,78.6 L531.4,78.6 L532.3,78.5 L533.1,78.5 L533.9,78.5 L534.8,78.5 L535.6,78.4 L536.4,78.4 L537.3,78.4 L538.1,78.3 L539.0,78.3 L539.8,78.2 L540.6,78.2 L541.5,78.1 L542.3,78.1 L543.1,78.0 L544.0,78.0 L544.8,77.9 L545.7,77.9 L546.5,77.8 L547.3,77.7 L548.2,77.6 L549.0,77.6 L549.8,77.5 L550.7,77.4 L551.5,77.3 L552.3,77.2 L553.2,77.1 L554.0,76.9 L554.9,76.8 L555.7,76.6 L556.5,76.4 L557.4,76.1 L558.2,75.9 L559.0,75.7 L559.9,75.4 L560.7,75.1 L561.6,74.8 L562.4,74.5 L563.2,74.2 L564.1,73.9 L564.9,73.5 L565.7,73.1 L566.6,72.6 L567.4,72.1 L568.3,71.5 L569.1,70.9 L569.9,70.3 L570.8,69.7 L571.6,69.1" stroke="#6db544" stroke-width="1.5" fill="none" stroke-linejoin="round"/>
<path d="M571.6,69.1 L572.4,74.3 L573.3,79.1 L574.1,83.0 L574.9,85.7 L575.8,87.6 L576.6,89.1 L577.5,90.4 L578.3,91.5 L579.1,92.4 L580.0,93.3 L580.8,94.1 L581.6,94.9 L582.5,95.7 L583.3,96.3 L584.2,96.9 L585.0,97.3 L585.8,97.6 L586.7,97.9 L587.5,98.1 L588.3,98.3 L589.2,98.4 L590.0,98.4 L590.9,98.4 L591.7,98.3 L592.5,98.2 L593.4,98.1 L594.2,97.9 L595.0,97.7 L595.9,97.5 L596.7,97.3 L597.5,97.1 L598.4,96.9 L599.2,96.6 L600.1,96.4 L600.9,96.2 L601.7,95.9 L602.6,95.6 L603.4,95.3 L604.2,94.9 L605.1,94.6 L605.9,94.2 L606.8,93.9 L607.6,93.5 L608.4,93.1 L609.3,92.8 L610.1,92.4 L610.9,92.0 L611.8,91.6 L612.6,91.2 L613.4,90.8 L614.3,90.3 L615.1,89.9 L616.0,89.5 L616.8,89.0 L617.6,88.7 L618.5,88.3 L619.3,88.0 L620.1,87.7 L621.0,87.4 L621.8,87.1 L622.7,86.8 L623.5,86.6 L624.3,86.3 L625.2,86.1 L626.0,85.9 L626.8,85.7 L627.7,85.5 L628.5,85.4 L629.4,85.2 L630.2,85.1 L631.0,85.0 L631.9,84.9 L632.7,84.8 L633.5,84.7 L634.4,84.6 L635.2,84.5 L636.0,84.4 L636.9,84.3 L637.7,84.3 L638.6,84.2 L639.4,84.1 L640.2,84.1 L641.1,84.0 L641.9,84.0 L642.7,83.9 L643.6,83.9 L644.4,83.8 L645.3,83.8 L646.1,83.7 L646.9,83.7 L647.8,83.7 L648.6,83.6 L649.4,83.6 L650.3,83.6 L651.1,83.5 L652.0,83.5 L652.8,83.5 L653.6,83.5 L654.5,83.5 L655.3,83.4" stroke="#6db544" stroke-width="1.5" fill="none" stroke-linejoin="round"/>
<path d="M487.9,76.5 L488.7,76.5 L489.6,76.4 L490.4,76.4 L491.2,76.4 L492.1,76.4 L492.9,76.3 L493.8,76.3 L494.6,76.3 L495.4,76.2 L496.3,76.2 L497.1,76.1 L497.9,76.1 L498.8,76.0 L499.6,76.0 L500.5,75.9 L501.3,75.8 L502.1,75.8 L503.0,75.7 L503.8,75.6 L504.6,75.6 L505.5,75.5 L506.3,75.4 L507.2,75.3 L508.0,75.3 L508.8,75.2 L509.7,75.1 L510.5,75.0 L511.3,74.9 L512.2,74.8 L513.0,74.7 L513.8,74.5 L514.7,74.4 L515.5,74.3 L516.4,74.2 L517.2,74.1 L518.0,74.0 L518.9,73.9 L519.7,73.8 L520.5,73.8 L521.4,73.7 L522.2,73.6 L523.1,73.5 L523.9,73.4 L524.7,73.3 L525.6,73.2 L526.4,73.0 L527.2,72.9 L528.1,72.8 L528.9,72.6 L529.8,72.4 L530.6,72.2 L531.4,72.0 L532.3,71.8 L533.1,71.5 L533.9,71.3 L534.8,71.0 L535.6,70.7 L536.4,70.3 L537.3,70.0 L538.1,69.7 L539.0,69.3 L539.8,68.9 L540.6,68.5 L541.5,68.1 L542.3,67.7 L543.1,67.3 L544.0,66.8 L544.8,66.3 L545.7,65.8 L546.5,65.3 L547.3,64.7 L548.2,64.1 L549.0,63.5 L549.8,62.8 L550.7,62.1 L551.5,61.4 L552.3,60.6 L553.2,59.9 L554.0,59.0 L554.9,58.2 L555.7,57.3 L556.5,56.4 L557.4,55.5 L558.2,54.4 L559.0,53.1 L559.9,51.8 L560.7,50.5 L561.6,49.1 L562.4,47.7 L563.2,46.3 L564.1,45.0 L564.9,43.7 L565.7,42.5 L566.6,41.2 L567.4,39.9 L568.3,38.6 L569.1,37.4 L569.9,36.1 L570.8,34.8 L571.6,33.5" stroke="#4a8c3a" stroke-width="1.5" fill="none" stroke-linejoin="round"/>
<path d="M571.6,33.5 L572.4,35.3 L573.3,37.0 L574.1,38.7 L574.9,40.4 L575.8,42.1 L576.6,43.7 L577.5,45.3 L578.3,46.8 L579.1,48.4 L580.0,49.9 L580.8,51.4 L581.6,52.8 L582.5,54.3 L583.3,55.7 L584.2,57.0 L585.0,58.4 L585.8,59.6 L586.7,60.9 L587.5,62.1 L588.3,63.3 L589.2,64.5 L590.0,65.6 L590.9,66.7 L591.7,67.8 L592.5,68.8 L593.4,69.7 L594.2,70.6 L595.0,71.5 L595.9,72.3 L596.7,73.0 L597.5,73.7 L598.4,74.4 L599.2,75.0 L600.1,75.6 L600.9,76.3 L601.7,76.8 L602.6,77.4 L603.4,78.0 L604.2,78.6 L605.1,79.1 L605.9,79.7 L606.8,80.2 L607.6,80.8 L608.4,81.3 L609.3,81.7 L610.1,82.1 L610.9,82.5 L611.8,82.8 L612.6,83.2 L613.4,83.5 L614.3,83.8 L615.1,84.1 L616.0,84.3 L616.8,84.6 L617.6,84.8 L618.5,84.9 L619.3,85.1 L620.1,85.2 L621.0,85.3 L621.8,85.4 L622.7,85.5 L623.5,85.5 L624.3,85.6 L625.2,85.7 L626.0,85.7 L626.8,85.8 L627.7,85.8 L628.5,85.8 L629.4,85.8 L630.2,85.8 L631.0,85.8 L631.9,85.8 L632.7,85.8 L633.5,85.8 L634.4,85.8 L635.2,85.8 L636.0,85.8 L636.9,85.8 L637.7,85.8 L638.6,85.8 L639.4,85.8 L640.2,85.8 L641.1,85.7 L641.9,85.7 L642.7,85.7 L643.6,85.7 L644.4,85.6 L645.3,85.6 L646.1,85.5 L646.9,85.4 L647.8,85.4 L648.6,85.3 L649.4,85.2 L650.3,85.1 L651.1,85.0 L652.0,85.0 L652.8,84.9 L653.6,84.8 L654.5,84.7 L655.3,84.6" stroke="#4a8c3a" stroke-width="1.5" fill="none" stroke-linejoin="round"/>
<path d="M487.9,75.0 L488.7,75.0 L489.6,75.0 L490.4,75.0 L491.2,75.0 L492.1,74.9 L492.9,74.9 L493.8,74.9 L494.6,74.8 L495.4,74.8 L496.3,74.7 L497.1,74.7 L497.9,74.6 L498.8,74.6 L499.6,74.5 L500.5,74.5 L501.3,74.4 L502.1,74.3 L503.0,74.3 L503.8,74.2 L504.6,74.1 L505.5,74.1 L506.3,74.0 L507.2,73.9 L508.0,73.8 L508.8,73.8 L509.7,73.7 L510.5,73.6 L511.3,73.5 L512.2,73.4 L513.0,73.3 L513.8,73.1 L514.7,73.0 L515.5,72.9 L516.4,72.7 L517.2,72.6 L518.0,72.5 L518.9,72.3 L519.7,72.2 L520.5,72.0 L521.4,71.9 L522.2,71.7 L523.1,71.6 L523.9,71.4 L524.7,71.2 L525.6,71.0 L526.4,70.8 L527.2,70.6 L528.1,70.4 L528.9,70.2 L529.8,70.0 L530.6,69.7 L531.4,69.5 L532.3,69.2 L533.1,68.9 L533.9,68.6 L534.8,68.3 L535.6,68.0 L536.4,67.7 L537.3,67.3 L538.1,67.0 L539.0,66.6 L539.8,66.2 L540.6,65.8 L541.5,65.4 L542.3,64.9 L543.1,64.5 L544.0,64.0 L544.8,63.5 L545.7,62.9 L546.5,62.3 L547.3,61.7 L548.2,61.1 L549.0,60.4 L549.8,59.7 L550.7,58.9 L551.5,58.2 L552.3,57.4 L553.2,56.6 L554.0,55.7 L554.9,54.9 L555.7,54.0 L556.5,53.0 L557.4,52.1 L558.2,51.0 L559.0,49.8 L559.9,48.5 L560.7,47.1 L561.6,45.8 L562.4,44.4 L563.2,43.1 L564.1,41.9 L564.9,40.6 L565.7,39.4 L566.6,38.1 L567.4,36.9 L568.3,35.6 L569.1,34.3 L569.9,33.1 L570.8,31.8 L571.6,30.6" stroke="#2b5e22" stroke-width="1.5" fill="none" stroke-linejoin="round"/>
<path d="M571.6,30.6 L572.4,31.9 L573.3,33.3 L574.1,34.7 L574.9,36.1 L575.8,37.5 L576.6,38.9 L577.5,40.2 L578.3,41.6 L579.1,43.1 L580.0,44.6 L580.8,46.1 L581.6,47.6 L582.5,49.1 L583.3,50.5 L584.2,52.0 L585.0,53.3 L585.8,54.6 L586.7,55.8 L587.5,56.9 L588.3,58.0 L589.2,59.1 L590.0,60.1 L590.9,61.1 L591.7,62.1 L592.5,63.0 L593.4,63.9 L594.2,64.8 L595.0,65.7 L595.9,66.5 L596.7,67.4 L597.5,68.1 L598.4,68.9 L599.2,69.7 L600.1,70.4 L600.9,71.1 L601.7,71.8 L602.6,72.5 L603.4,73.1 L604.2,73.8 L605.1,74.5 L605.9,75.1 L606.8,75.7 L607.6,76.3 L608.4,76.9 L609.3,77.4 L610.1,77.9 L610.9,78.4 L611.8,78.8 L612.6,79.2 L613.4,79.6 L614.3,80.0 L615.1,80.4 L616.0,80.7 L616.8,81.1 L617.6,81.3 L618.5,81.6 L619.3,81.7 L620.1,81.9 L621.0,82.0 L621.8,82.2 L622.7,82.3 L623.5,82.4 L624.3,82.5 L625.2,82.6 L626.0,82.7 L626.8,82.8 L627.7,82.9 L628.5,82.9 L629.4,83.0 L630.2,83.0 L631.0,83.1 L631.9,83.1 L632.7,83.2 L633.5,83.2 L634.4,83.2 L635.2,83.3 L636.0,83.3 L636.9,83.3 L637.7,83.3 L638.6,83.3 L639.4,83.4 L640.2,83.4 L641.1,83.4 L641.9,83.4 L642.7,83.3 L643.6,83.3 L644.4,83.2 L645.3,83.2 L646.1,83.1 L646.9,83.0 L647.8,82.9 L648.6,82.8 L649.4,82.7 L650.3,82.6 L651.1,82.5 L652.0,82.4 L652.8,82.2 L653.6,82.1 L654.5,81.9 L655.3,81.8" stroke="#2b5e22" stroke-width="1.5" fill="none" stroke-linejoin="round"/>
<line x1="618.00" y1="21.10" x2="627.30" y2="21.10" stroke="#555" stroke-width="1.3" />
<text x="630.20" y="23.34" font-size="6.6" text-anchor="start" fill="#222" font-weight="normal" font-style="normal" font-family="Liberation Sans" stroke="#222" stroke-width="0.12" >Open-loop</text>
<line x1="618.00" y1="31.30" x2="627.30" y2="31.30" stroke="#d6e6b6" stroke-width="1.3" />
<text x="630.20" y="33.26" font-size="5.8" text-anchor="start" fill="#222" font-weight="normal" font-style="normal" font-family="Liberation Sans" stroke="#222" stroke-width="0.12" >top99%</text>
<line x1="618.00" y1="41.90" x2="627.30" y2="41.90" stroke="#a9d07f" stroke-width="1.3" />
<text x="630.20" y="43.86" font-size="5.8" text-anchor="start" fill="#222" font-weight="normal" font-style="normal" font-family="Liberation Sans" stroke="#222" stroke-width="0.12" >top50%</text>
<line x1="618.00" y1="52.40" x2="627.30" y2="52.40" stroke="#6db544" stroke-width="1.3" />
<text x="630.20" y="54.36" font-size="5.8" text-anchor="start" fill="#222" font-weight="normal" font-style="normal" font-family="Liberation Sans" stroke="#222" stroke-width="0.12" >top1%</text>
<line x1="618.00" y1="62.80" x2="627.30" y2="62.80" stroke="#4a8c3a" stroke-width="1.3" />
<text x="630.20" y="64.76" font-size="5.8" text-anchor="start" fill="#222" font-weight="normal" font-style="normal" font-family="Liberation Sans" stroke="#222" stroke-width="0.12" >10xMean</text>
<line x1="618.00" y1="73.30" x2="627.30" y2="73.30" stroke="#2b5e22" stroke-width="1.3" />
<text x="630.20" y="75.26" font-size="5.8" text-anchor="start" fill="#222" font-weight="normal" font-style="normal" font-family="Liberation Sans" stroke="#222" stroke-width="0.12" >20xMean</text>
<text x="-0.80" y="134.90" font-size="9" text-anchor="start" fill="#000" font-weight="bold" font-style="normal" font-family="Liberation Sans" >d.</text>
<line x1="41.40" y1="237.10" x2="197.20" y2="237.10" stroke="#888" stroke-width="0.7" />
<line x1="41.40" y1="237.10" x2="41.40" y2="140.36" stroke="#888" stroke-width="0.7" />
<line x1="41.40" y1="237.10" x2="41.40" y2="234.50" stroke="#888" stroke-width="0.6" />
<text x="41.40" y="245.60" font-size="7.3" text-anchor="middle" fill="#222" font-weight="normal" font-style="normal" font-family="Liberation Sans" stroke="#222" stroke-width="0.12" >0</text>
<line x1="63.66" y1="237.10" x2="63.66" y2="234.50" stroke="#888" stroke-width="0.6" />
<text x="63.66" y="245.60" font-size="7.3" text-anchor="middle" fill="#222" font-weight="normal" font-style="normal" font-family="Liberation Sans" stroke="#222" stroke-width="0.12" >500</text>
<line x1="85.91" y1="237.10" x2="85.91" y2="234.50" stroke="#888" stroke-width="0.6" />
<text x="85.91" y="245.60" font-size="7.3" text-anchor="middle" fill="#222" font-weight="normal" font-style="normal" font-family="Liberation Sans" stroke="#222" stroke-width="0.12" >1000</text>
<line x1="108.17" y1="237.10" x2="108.17" y2="234.50" stroke="#888" stroke-width="0.6" />
<text x="108.17" y="245.60" font-size="7.3" text-anchor="middle" fill="#222" font-weight="normal" font-style="normal" font-family="Liberation Sans" stroke="#222" stroke-width="0.12" >1500</text>
<line x1="130.43" y1="237.10" x2="130.43" y2="234.50" stroke="#888" stroke-width="0.6" />
<text x="130.43" y="245.60" font-size="7.3" text-anchor="middle" fill="#222" font-weight="normal" font-style="normal" font-family="Liberation Sans" stroke="#222" stroke-width="0.12" >2000</text>
<line x1="152.69" y1="237.10" x2="152.69" y2="234.50" stroke="#888" stroke-width="0.6" />
<text x="152.69" y="245.60" font-size="7.3" text-anchor="middle" fill="#222" font-weight="normal" font-style="normal" font-family="Liberation Sans" stroke="#222" stroke-width="0.12" >2500</text>
<line x1="174.94" y1="237.10" x2="174.94" y2="234.50" stroke="#888" stroke-width="0.6" />
<text x="174.94" y="245.60" font-size="7.3" text-anchor="middle" fill="#222" font-weight="normal" font-style="normal" font-family="Liberation Sans" stroke="#222" stroke-width="0.12" >3000</text>
<line x1="197.20" y1="237.10" x2="197.20" y2="234.50" stroke="#888" stroke-width="0.6" />
<text x="197.20" y="245.60" font-size="7.3" text-anchor="middle" fill="#222" font-weight="normal" font-style="normal" font-family="Liberation Sans" stroke="#222" stroke-width="0.12" >3500</text>
<line x1="45.85" y1="237.10" x2="45.85" y2="235.70" stroke="#888" stroke-width="0.5" />
<line x1="50.30" y1="237.10" x2="50.30" y2="235.70" stroke="#888" stroke-width="0.5" />
<line x1="54.75" y1="237.10" x2="54.75" y2="235.70" stroke="#888" stroke-width="0.5" />
<line x1="59.21" y1="237.10" x2="59.21" y2="235.70" stroke="#888" stroke-width="0.5" />
<line x1="68.11" y1="237.10" x2="68.11" y2="235.70" stroke="#888" stroke-width="0.5" />
<line x1="72.56" y1="237.10" x2="72.56" y2="235.70" stroke="#888" stroke-width="0.5" />
<line x1="77.01" y1="237.10" x2="77.01" y2="235.70" stroke="#888" stroke-width="0.5" />
<line x1="81.46" y1="237.10" x2="81.46" y2="235.70" stroke="#888" stroke-width="0.5" />
<line x1="90.37" y1="237.10" x2="90.37" y2="235.70" stroke="#888" stroke-width="0.5" />
<line x1="94.82" y1="237.10" x2="94.82" y2="235.70" stroke="#888" stroke-width="0.5" />
<line x1="99.27" y1="237.10" x2="99.27" y2="235.70" stroke="#888" stroke-width="0.5" />
<line x1="103.72" y1="237.10" x2="103.72" y2="235.70" stroke="#888" stroke-width="0.5" />
<line x1="112.62" y1="237.10" x2="112.62" y2="235.70" stroke="#888" stroke-width="0.5" />
<line x1="117.07" y1="237.10" x2="117.07" y2="235.70" stroke="#888" stroke-width="0.5" />
<line x1="121.53" y1="237.10" x2="121.53" y2="235.70" stroke="#888" stroke-width="0.5" />
<line x1="125.98" y1="237.10" x2="125.98" y2="235.70" stroke="#888" stroke-width="0.5" />
<line x1="134.88" y1="237.10" x2="134.88" y2="235.70" stroke="#888" stroke-width="0.5" />
<line x1="139.33" y1="237.10" x2="139.33" y2="235.70" stroke="#888" stroke-width="0.5" />
<line x1="143.78" y1="237.10" x2="143.78" y2="235.70" stroke="#888" stroke-width="0.5" />
<line x1="148.23" y1="237.10" x2="148.23" y2="235.70" stroke="#888" stroke-width="0.5" />
<line x1="157.14" y1="237.10" x2="157.14" y2="235.70" stroke="#888" stroke-width="0.5" />
<line x1="161.59" y1="237.10" x2="161.59" y2="235.70" stroke="#888" stroke-width="0.5" />
<line x1="166.04" y1="237.10" x2="166.04" y2="235.70" stroke="#888" stroke-width="0.5" />
<line x1="170.49" y1="237.10" x2="170.49" y2="235.70" stroke="#888" stroke-width="0.5" />
<line x1="179.39" y1="237.10" x2="179.39" y2="235.70" stroke="#888" stroke-width="0.5" />
<line x1="183.85" y1="237.10" x2="183.85" y2="235.70" stroke="#888" stroke-width="0.5" />
<line x1="188.30" y1="237.10" x2="188.30" y2="235.70" stroke="#888" stroke-width="0.5" />
<line x1="192.75" y1="237.10" x2="192.75" y2="235.70" stroke="#888" stroke-width="0.5" />
<line x1="41.40" y1="237.10" x2="44.00" y2="237.10" stroke="#888" stroke-width="0.6" />
<text x="39.80" y="239.60" font-size="7.3" text-anchor="end" fill="#222" font-weight="normal" font-style="normal" font-family="Liberation Sans" stroke="#222" stroke-width="0.12" >0.0000</text>
<line x1="41.40" y1="221.08" x2="44.00" y2="221.08" stroke="#888" stroke-width="0.6" />
<text x="39.80" y="223.58" font-size="7.3" text-anchor="end" fill="#222" font-weight="normal" font-style="normal" font-family="Liberation Sans" stroke="#222" stroke-width="0.12" >0.0005</text>
<line x1="41.40" y1="205.07" x2="44.00" y2="205.07" stroke="#888" stroke-width="0.6" />
<text x="39.80" y="207.57" font-size="7.3" text-anchor="end" fill="#222" font-weight="normal" font-style="normal" font-family="Liberation Sans" stroke="#222" stroke-width="0.12" >0.0010</text>
<line x1="41.40" y1="189.05" x2="44.00" y2="189.05" stroke="#888" stroke-width="0.6" />
<text x="39.80" y="191.55" font-size="7.3" text-anchor="end" fill="#222" font-weight="normal" font-style="normal" font-family="Liberation Sans" stroke="#222" stroke-width="0.12" >0.0015</text>
<line x1="41.40" y1="173.03" x2="44.00" y2="173.03" stroke="#888" stroke-width="0.6" />
<text x="39.80" y="175.53" font-size="7.3" text-anchor="end" fill="#222" font-weight="normal" font-style="normal" font-family="Liberation Sans" stroke="#222" stroke-width="0.12" >0.0020</text>
<line x1="41.40" y1="157.02" x2="44.00" y2="157.02" stroke="#888" stroke-width="0.6" />
<text x="39.80" y="159.52" font-size="7.3" text-anchor="end" fill="#222" font-weight="normal" font-style="normal" font-family="Liberation Sans" stroke="#222" stroke-width="0.12" >0.0025</text>
<line x1="41.40" y1="141.00" x2="44.00" y2="141.00" stroke="#888" stroke-width="0.6" />
<text x="39.80" y="143.50" font-size="7.3" text-anchor="end" fill="#222" font-weight="normal" font-style="normal" font-family="Liberation Sans" stroke="#222" stroke-width="0.12" >0.0030</text>
<line x1="41.40" y1="233.90" x2="42.80" y2="233.90" stroke="#888" stroke-width="0.5" />
<line x1="41.40" y1="230.69" x2="42.80" y2="230.69" stroke="#888" stroke-width="0.5" />
<line x1="41.40" y1="227.49" x2="42.80" y2="227.49" stroke="#888" stroke-width="0.5" />
<line x1="41.40" y1="224.29" x2="42.80" y2="224.29" stroke="#888" stroke-width="0.5" />
<line x1="41.40" y1="217.88" x2="42.80" y2="217.88" stroke="#888" stroke-width="0.5" />
<line x1="41.40" y1="214.68" x2="42.80" y2="214.68" stroke="#888" stroke-width="0.5" />
<line x1="41.40" y1="211.47" x2="42.80" y2="211.47" stroke="#888" stroke-width="0.5" />
<line x1="41.40" y1="208.27" x2="42.80" y2="208.27" stroke="#888" stroke-width="0.5" />
<line x1="41.40" y1="201.86" x2="42.80" y2="201.86" stroke="#888" stroke-width="0.5" />
<line x1="41.40" y1="198.66" x2="42.80" y2="198.66" stroke="#888" stroke-width="0.5" />
<line x1="41.40" y1="195.46" x2="42.80" y2="195.46" stroke="#888" stroke-width="0.5" />
<line x1="41.40" y1="192.25" x2="42.80" y2="192.25" stroke="#888" stroke-width="0.5" />
<line x1="41.40" y1="185.85" x2="42.80" y2="185.85" stroke="#888" stroke-width="0.5" />
<line x1="41.40" y1="182.64" x2="42.80" y2="182.64" stroke="#888" stroke-width="0.5" />
<line x1="41.40" y1="179.44" x2="42.80" y2="179.44" stroke="#888" stroke-width="0.5" />
<line x1="41.40" y1="176.24" x2="42.80" y2="176.24" stroke="#888" stroke-width="0.5" />
<line x1="41.40" y1="169.83" x2="42.80" y2="169.83" stroke="#888" stroke-width="0.5" />
<line x1="41.40" y1="166.63" x2="42.80" y2="166.63" stroke="#888" stroke-width="0.5" />
<line x1="41.40" y1="163.42" x2="42.80" y2="163.42" stroke="#888" stroke-width="0.5" />
<line x1="41.40" y1="160.22" x2="42.80" y2="160.22" stroke="#888" stroke-width="0.5" />
<line x1="41.40" y1="153.81" x2="42.80" y2="153.81" stroke="#888" stroke-width="0.5" />
<line x1="41.40" y1="150.61" x2="42.80" y2="150.61" stroke="#888" stroke-width="0.5" />
<line x1="41.40" y1="147.41" x2="42.80" y2="147.41" stroke="#888" stroke-width="0.5" />
<line x1="41.40" y1="144.20" x2="42.80" y2="144.20" stroke="#888" stroke-width="0.5" />
<text x="112.50" y="255.40" font-size="8.6" text-anchor="middle" fill="#222" font-weight="normal" font-style="normal" font-family="Liberation Sans" stroke="#222" stroke-width="0.12" textLength="117.2" lengthAdjust="spacingAndGlyphs" >Protein Concentration (arb. units)</text>
<text x="0.00" y="0.00" font-size="7.4" text-anchor="middle" fill="#222" font-weight="normal" font-style="normal" font-family="Liberation Sans" stroke="#222" stroke-width="0.1" textLength="65.3" lengthAdjust="spacingAndGlyphs" transform="translate(12.0,185.9) rotate(-90)">Probability Density</text>
<path d="M41.4,236.4 L41.8,236.3 L42.2,236.1 L42.6,235.9 L43.0,235.7 L43.3,235.5 L43.7,235.2 L44.1,234.9 L44.5,234.5 L44.9,234.1 L45.3,233.6 L45.7,233.0 L46.1,232.4 L46.5,231.8 L46.9,231.0 L47.2,230.1 L47.6,229.2 L48.0,228.2 L48.4,227.0 L48.8,225.8 L49.2,224.4 L49.6,222.9 L50.0,221.3 L50.4,219.6 L50.7,217.8 L51.1,215.8 L51.5,213.7 L51.9,211.5 L52.3,209.1 L52.7,206.7 L53.1,204.1 L53.5,201.5 L53.9,198.7 L54.3,195.9 L54.6,193.0 L55.0,190.1 L55.4,187.1 L55.8,184.1 L56.2,181.2 L56.6,178.2 L57.0,175.3 L57.4,172.5 L57.8,169.7 L58.1,167.1 L58.5,164.6 L58.9,162.3 L59.3,160.1 L59.7,158.2 L60.1,156.4 L60.5,154.9 L60.9,153.7 L61.3,152.7 L61.7,151.9 L62.0,151.4 L62.4,151.3 L62.8,151.4 L63.2,152.0 L63.6,152.9 L64.0,154.3 L64.4,156.1 L64.8,158.2 L65.2,160.7 L65.5,163.4 L65.9,166.4 L66.3,169.6 L66.7,173.0 L67.1,176.5 L67.5,180.1 L67.9,183.8 L68.3,187.4 L68.7,191.1 L69.1,194.7 L69.4,198.2 L69.8,201.6 L70.2,204.8 L70.6,207.9 L71.0,210.9 L71.4,213.6 L71.8,216.2 L72.2,218.6 L72.6,220.8 L72.9,222.8 L73.3,224.6 L73.7,226.3 L74.1,227.7 L74.5,229.0 L74.9,230.2 L75.3,231.2 L75.7,232.1 L76.1,232.9 L76.5,233.6 L76.8,234.2 L77.2,234.7 L77.6,235.1 L78.0,235.4 L78.4,235.7 L78.8,236.0 L79.2,236.2 L79.6,236.4 L80.0,236.5 L80.3,236.6 L80.7,236.7 L81.1,236.8 L81.5,236.9 L81.9,236.9 L82.3,237.0 L82.7,237.0 L83.1,237.0 L83.5,237.0 L83.9,237.1 L84.2,237.1 L84.6,237.1 L85.0,237.1 L85.4,237.1 L85.8,237.1 L86.2,237.1 L86.6,237.1 L87.0,237.1 L87.4,237.1 L87.8,237.1 L88.1,237.1 L88.5,237.1 L88.9,237.1 L89.3,237.1 L89.7,237.1 L90.1,237.1 L90.5,237.1 L90.9,237.1 L91.3,237.1 L91.6,237.1 L92.0,237.1 L92.4,237.1 L92.8,237.1 L93.2,237.1 L93.6,237.1 L94.0,237.1 L94.4,237.1 L94.8,237.1 L95.2,237.1 L95.5,237.1 L95.9,237.1 L96.3,237.1 L96.7,237.1 L97.1,237.1 L97.5,237.1 L97.9,237.1 L98.3,237.1 L98.7,237.1 L99.0,237.1 L99.4,237.1 L99.8,237.1 L100.2,237.1 L100.6,237.1 L101.0,237.1 L101.4,237.1 L101.8,237.1 L102.2,237.1 L102.6,237.1 L102.9,237.1 L103.3,237.1 L103.7,237.1 L104.1,237.1 L104.5,237.1 L104.9,237.1 L105.3,237.1 L105.7,237.1 L106.1,237.1 L106.4,237.1 L106.8,237.1 L107.2,237.1 L107.6,237.1 L108.0,237.1 L108.4,237.1 L108.8,237.1 L109.2,237.1 L109.6,237.1 L110.0,237.1 L110.3,237.1 L110.7,237.1 L111.1,237.1 L111.5,237.1 L111.9,237.1 L112.3,237.1 L112.7,237.1 L113.1,237.1 L113.5,237.1 L113.8,237.1 L114.2,237.1 L114.6,237.1 L115.0,237.1 L115.4,237.1 L115.8,237.1 L116.2,237.1 L116.6,237.1 L117.0,237.1 L117.4,237.1 L117.7,237.1 L118.1,237.1 L118.5,237.1 L118.9,237.1 L119.3,237.1 L119.7,237.1 L120.1,237.1 L120.5,237.1 L120.9,237.1 L121.2,237.1 L121.6,237.1 L122.0,237.1 L122.4,237.1 L122.8,237.1 L123.2,237.1 L123.6,237.1 L124.0,237.1 L124.4,237.1 L124.8,237.1 L125.1,237.1 L125.5,237.1 L125.9,237.1 L126.3,237.1 L126.7,237.1 L127.1,237.1 L127.5,237.1 L127.9,237.1 L128.3,237.1 L128.6,237.1 L129.0,237.1 L129.4,237.1 L129.8,237.1 L130.2,237.1 L130.6,237.1 L131.0,237.1 L131.4,237.1 L131.8,237.1 L132.2,237.1 L132.5,237.1 L132.9,237.1 L133.3,237.1 L133.7,237.1 L134.1,237.1 L134.5,237.1 L134.9,237.1 L135.3,237.1 L135.7,237.1 L136.0,237.1 L136.4,237.1 L136.8,237.1 L137.2,237.1 L137.6,237.1 L138.0,237.1 L138.4,237.1 L138.8,237.1 L139.2,237.1 L139.6,237.1 L139.9,237.1 L140.3,237.1 L140.7,237.1 L141.1,237.1 L141.5,237.1 L141.9,237.1 L142.3,237.1 L142.7,237.1 L143.1,237.1 L143.4,237.1 L143.8,237.1 L144.2,237.1 L144.6,237.1 L145.0,237.1 L145.4,237.1 L145.8,237.1 L146.2,237.1 L146.6,237.1 L147.0,237.1 L147.3,237.1 L147.7,237.1 L148.1,237.1 L148.5,237.1 L148.9,237.1 L149.3,237.1 L149.7,237.1 L150.1,237.1 L150.5,237.1 L150.8,237.1 L151.2,237.1 L151.6,237.1 L152.0,237.1 L152.4,237.1 L152.8,237.1 L153.2,237.1 L153.6,237.1 L154.0,237.1 L154.4,237.1 L154.7,237.1 L155.1,237.1 L155.5,237.1 L155.9,237.1 L156.3,237.1 L156.7,237.1 L157.1,237.1 L157.5,237.1 L157.9,237.1 L158.2,237.1 L158.6,237.1 L159.0,237.1 L159.4,237.1 L159.8,237.1 L160.2,237.1 L160.6,237.1 L161.0,237.1 L161.4,237.1 L161.8,237.1 L162.1,237.1 L162.5,237.1 L162.9,237.1 L163.3,237.1 L163.7,237.1 L164.1,237.1 L164.5,237.1 L164.9,237.1 L165.3,237.1 L165.7,237.1 L166.0,237.1 L166.4,237.1 L166.8,237.1 L167.2,237.1 L167.6,237.1 L168.0,237.1 L168.4,237.1 L168.8,237.1 L169.2,237.1 L169.5,237.1 L169.9,237.1 L170.3,237.1 L170.7,237.1 L171.1,237.1 L171.5,237.1 L171.9,237.1 L172.3,237.1 L172.7,237.1 L173.1,237.1 L173.4,237.1 L173.8,237.1 L174.2,237.1 L174.6,237.1 L175.0,237.1 L175.4,237.1 L175.8,237.1 L176.2,237.1 L176.6,237.1 L176.9,237.1 L177.3,237.1 L177.7,237.1 L178.1,237.1 L178.5,237.1 L178.9,237.1 L179.3,237.1 L179.7,237.1 L180.1,237.1 L180.5,237.1 L180.8,237.1 L181.2,237.1 L181.6,237.1 L182.0,237.1 L182.4,237.1 L182.8,237.1 L183.2,237.1 L183.6,237.1 L184.0,237.1 L184.3,237.1 L184.7,237.1 L185.1,237.1 L185.5,237.1 L185.9,237.1 L186.3,237.1 L186.7,237.1 L187.1,237.1 L187.5,237.1 L187.9,237.1 L188.2,237.1 L188.6,237.1 L189.0,237.1 L189.4,237.1 L189.8,237.1 L190.2,237.1 L190.6,237.1 L191.0,237.1 L191.4,237.1 L191.7,237.1 L192.1,237.1 L192.5,237.1 L192.9,237.1 L193.3,237.1 L193.7,237.1 L194.1,237.1 L194.5,237.1 L194.9,237.1 L195.3,237.1 L195.6,237.1 L196.0,237.1 L196.4,237.1 L196.8,237.1 L197.2,237.1" stroke="#d6e6b6" stroke-width="1.5" fill="none" stroke-linejoin="round" clip-path="url(#cd)"/>
<path d="M41.4,236.9 L41.8,236.8 L42.2,236.8 L42.6,236.7 L43.0,236.6 L43.3,236.5 L43.7,236.4 L44.1,236.3 L44.5,236.1 L44.9,235.9 L45.3,235.7 L45.7,235.4 L46.1,235.1 L46.5,234.8 L46.9,234.4 L47.2,234.0 L47.6,233.5 L48.0,232.9 L48.4,232.3 L48.8,231.6 L49.2,230.8 L49.6,229.9 L50.0,228.9 L50.4,227.8 L50.7,226.6 L51.1,225.3 L51.5,223.8 L51.9,222.3 L52.3,220.6 L52.7,218.8 L53.1,216.9 L53.5,214.8 L53.9,212.6 L54.3,210.3 L54.6,207.9 L55.0,205.3 L55.4,202.7 L55.8,199.9 L56.2,197.1 L56.6,194.2 L57.0,191.3 L57.4,188.3 L57.8,185.3 L58.1,182.3 L58.5,179.4 L58.9,176.5 L59.3,173.6 L59.7,170.9 L60.1,168.3 L60.5,165.8 L60.9,163.4 L61.3,161.3 L61.7,159.4 L62.0,157.7 L62.4,156.2 L62.8,155.0 L63.2,154.0 L63.6,153.3 L64.0,153.0 L64.4,152.9 L64.8,153.1 L65.2,153.8 L65.5,154.9 L65.9,156.4 L66.3,158.2 L66.7,160.4 L67.1,162.9 L67.5,165.7 L67.9,168.7 L68.3,171.9 L68.7,175.3 L69.1,178.7 L69.4,182.3 L69.8,185.9 L70.2,189.5 L70.6,193.1 L71.0,196.6 L71.4,200.0 L71.8,203.3 L72.2,206.4 L72.6,209.4 L72.9,212.2 L73.3,214.9 L73.7,217.4 L74.1,219.6 L74.5,221.7 L74.9,223.6 L75.3,225.4 L75.7,226.9 L76.1,228.3 L76.5,229.6 L76.8,230.7 L77.2,231.6 L77.6,232.5 L78.0,233.2 L78.4,233.8 L78.8,234.4 L79.2,234.8 L79.6,235.2 L80.0,235.6 L80.3,235.9 L80.7,236.1 L81.1,236.3 L81.5,236.4 L81.9,236.6 L82.3,236.7 L82.7,236.8 L83.1,236.8 L83.5,236.9 L83.9,236.9 L84.2,237.0 L84.6,237.0 L85.0,237.0 L85.4,237.0 L85.8,237.1 L86.2,237.1 L86.6,237.1 L87.0,237.1 L87.4,237.1 L87.8,237.1 L88.1,237.1 L88.5,237.1 L88.9,237.1 L89.3,237.1 L89.7,237.1 L90.1,237.1 L90.5,237.1 L90.9,237.1 L91.3,237.1 L91.6,237.1 L92.0,237.1 L92.4,237.1 L92.8,237.1 L93.2,237.1 L93.6,237.1 L94.0,237.1 L94.4,237.1 L94.8,237.1 L95.2,237.1 L95.5,237.1 L95.9,237.1 L96.3,237.1 L96.7,237.1 L97.1,237.1 L97.5,237.1 L97.9,237.1 L98.3,237.1 L98.7,237.1 L99.0,237.1 L99.4,237.1 L99.8,237.1 L100.2,237.1 L100.6,237.1 L101.0,237.1 L101.4,237.1 L101.8,237.1 L102.2,237.1 L102.6,237.1 L102.9,237.1 L103.3,237.1 L103.7,237.1 L104.1,237.1 L104.5,237.1 L104.9,237.1 L105.3,237.1 L105.7,237.1 L106.1,237.1 L106.4,237.1 L106.8,237.1 L107.2,237.1 L107.6,237.1 L108.0,237.1 L108.4,237.1 L108.8,237.1 L109.2,237.1 L109.6,237.1 L110.0,237.1 L110.3,237.1 L110.7,237.1 L111.1,237.1 L111.5,237.1 L111.9,237.1 L112.3,237.1 L112.7,237.1 L113.1,237.1 L113.5,237.1 L113.8,237.1 L114.2,237.1 L114.6,237.1 L115.0,237.1 L115.4,237.1 L115.8,237.1 L116.2,237.1 L116.6,237.1 L117.0,237.1 L117.4,237.1 L117.7,237.1 L118.1,237.1 L118.5,237.1 L118.9,237.1 L119.3,237.1 L119.7,237.1 L120.1,237.1 L120.5,237.1 L120.9,237.1 L121.2,237.1 L121.6,237.1 L122.0,237.1 L122.4,237.1 L122.8,237.1 L123.2,237.1 L123.6,237.1 L124.0,237.1 L124.4,237.1 L124.8,237.1 L125.1,237.1 L125.5,237.1 L125.9,237.1 L126.3,237.1 L126.7,237.1 L127.1,237.1 L127.5,237.1 L127.9,237.1 L128.3,237.1 L128.6,237.1 L129.0,237.1 L129.4,237.1 L129.8,237.1 L130.2,237.1 L130.6,237.1 L131.0,237.1 L131.4,237.1 L131.8,237.1 L132.2,237.1 L132.5,237.1 L132.9,237.1 L133.3,237.1 L133.7,237.1 L134.1,237.1 L134.5,237.1 L134.9,237.1 L135.3,237.1 L135.7,237.1 L136.0,237.1 L136.4,237.1 L136.8,237.1 L137.2,237.1 L137.6,237.1 L138.0,237.1 L138.4,237.1 L138.8,237.1 L139.2,237.1 L139.6,237.1 L139.9,237.1 L140.3,237.1 L140.7,237.1 L141.1,237.1 L141.5,237.1 L141.9,237.1 L142.3,237.1 L142.7,237.1 L143.1,237.1 L143.4,237.1 L143.8,237.1 L144.2,237.1 L144.6,237.1 L145.0,237.1 L145.4,237.1 L145.8,237.1 L146.2,237.1 L146.6,237.1 L147.0,237.1 L147.3,237.1 L147.7,237.1 L148.1,237.1 L148.5,237.1 L148.9,237.1 L149.3,237.1 L149.7,237.1 L150.1,237.1 L150.5,237.1 L150.8,237.1 L151.2,237.1 L151.6,237.1 L152.0,237.1 L152.4,237.1 L152.8,237.1 L153.2,237.1 L153.6,237.1 L154.0,237.1 L154.4,237.1 L154.7,237.1 L155.1,237.1 L155.5,237.1 L155.9,237.1 L156.3,237.1 L156.7,237.1 L157.1,237.1 L157.5,237.1 L157.9,237.1 L158.2,237.1 L158.6,237.1 L159.0,237.1 L159.4,237.1 L159.8,237.1 L160.2,237.1 L160.6,237.1 L161.0,237.1 L161.4,237.1 L161.8,237.1 L162.1,237.1 L162.5,237.1 L162.9,237.1 L163.3,237.1 L163.7,237.1 L164.1,237.1 L164.5,237.1 L164.9,237.1 L165.3,237.1 L165.7,237.1 L166.0,237.1 L166.4,237.1 L166.8,237.1 L167.2,237.1 L167.6,237.1 L168.0,237.1 L168.4,237.1 L168.8,237.1 L169.2,237.1 L169.5,237.1 L169.9,237.1 L170.3,237.1 L170.7,237.1 L171.1,237.1 L171.5,237.1 L171.9,237.1 L172.3,237.1 L172.7,237.1 L173.1,237.1 L173.4,237.1 L173.8,237.1 L174.2,237.1 L174.6,237.1 L175.0,237.1 L175.4,237.1 L175.8,237.1 L176.2,237.1 L176.6,237.1 L176.9,237.1 L177.3,237.1 L177.7,237.1 L178.1,237.1 L178.5,237.1 L178.9,237.1 L179.3,237.1 L179.7,237.1 L180.1,237.1 L180.5,237.1 L180.8,237.1 L181.2,237.1 L181.6,237.1 L182.0,237.1 L182.4,237.1 L182.8,237.1 L183.2,237.1 L183.6,237.1 L184.0,237.1 L184.3,237.1 L184.7,237.1 L185.1,237.1 L185.5,237.1 L185.9,237.1 L186.3,237.1 L186.7,237.1 L187.1,237.1 L187.5,237.1 L187.9,237.1 L188.2,237.1 L188.6,237.1 L189.0,237.1 L189.4,237.1 L189.8,237.1 L190.2,237.1 L190.6,237.1 L191.0,237.1 L191.4,237.1 L191.7,237.1 L192.1,237.1 L192.5,237.1 L192.9,237.1 L193.3,237.1 L193.7,237.1 L194.1,237.1 L194.5,237.1 L194.9,237.1 L195.3,237.1 L195.6,237.1 L196.0,237.1 L196.4,237.1 L196.8,237.1 L197.2,237.1" stroke="#a9d07f" stroke-width="1.5" fill="none" stroke-linejoin="round" clip-path="url(#cd)"/>
<path d="M41.4,237.0 L41.8,237.0 L42.2,237.0 L42.6,237.0 L43.0,237.0 L43.3,236.9 L43.7,236.9 L44.1,236.9 L44.5,236.8 L44.9,236.7 L45.3,236.7 L45.7,236.6 L46.1,236.4 L46.5,236.3 L46.9,236.2 L47.2,236.0 L47.6,235.8 L48.0,235.5 L48.4,235.2 L48.8,234.9 L49.2,234.5 L49.6,234.1 L50.0,233.6 L50.4,233.0 L50.7,232.3 L51.1,231.6 L51.5,230.8 L51.9,229.9 L52.3,228.9 L52.7,227.8 L53.1,226.5 L53.5,225.2 L53.9,223.7 L54.3,222.1 L54.6,220.3 L55.0,218.5 L55.4,216.5 L55.8,214.3 L56.2,212.1 L56.6,209.7 L57.0,207.2 L57.4,204.5 L57.8,201.8 L58.1,199.0 L58.5,196.1 L58.9,193.2 L59.3,190.2 L59.7,187.1 L60.1,184.1 L60.5,181.1 L60.9,178.2 L61.3,175.3 L61.7,172.5 L62.0,169.8 L62.4,167.3 L62.8,165.0 L63.2,162.8 L63.6,160.8 L64.0,159.1 L64.4,157.6 L64.8,156.4 L65.2,155.5 L65.5,154.9 L65.9,154.5 L66.3,154.5 L66.7,154.8 L67.1,155.6 L67.5,156.7 L67.9,158.2 L68.3,160.0 L68.7,162.2 L69.1,164.7 L69.4,167.4 L69.8,170.4 L70.2,173.5 L70.6,176.8 L71.0,180.2 L71.4,183.7 L71.8,187.2 L72.2,190.7 L72.6,194.2 L72.9,197.6 L73.3,200.9 L73.7,204.1 L74.1,207.2 L74.5,210.1 L74.9,212.8 L75.3,215.4 L75.7,217.8 L76.1,220.0 L76.5,222.1 L76.8,223.9 L77.2,225.6 L77.6,227.1 L78.0,228.5 L78.4,229.7 L78.8,230.8 L79.2,231.7 L79.6,232.5 L80.0,233.3 L80.3,233.9 L80.7,234.4 L81.1,234.9 L81.5,235.3 L81.9,235.6 L82.3,235.9 L82.7,236.1 L83.1,236.3 L83.5,236.4 L83.9,236.6 L84.2,236.7 L84.6,236.8 L85.0,236.8 L85.4,236.9 L85.8,236.9 L86.2,237.0 L86.6,237.0 L87.0,237.0 L87.4,237.0 L87.8,237.1 L88.1,237.1 L88.5,237.1 L88.9,237.1 L89.3,237.1 L89.7,237.1 L90.1,237.1 L90.5,237.1 L90.9,237.1 L91.3,237.1 L91.6,237.1 L92.0,237.1 L92.4,237.1 L92.8,237.1 L93.2,237.1 L93.6,237.1 L94.0,237.1 L94.4,237.1 L94.8,237.1 L95.2,237.1 L95.5,237.1 L95.9,237.1 L96.3,237.1 L96.7,237.1 L97.1,237.1 L97.5,237.1 L97.9,237.1 L98.3,237.1 L98.7,237.1 L99.0,237.1 L99.4,237.1 L99.8,237.1 L100.2,237.1 L100.6,237.1 L101.0,237.1 L101.4,237.1 L101.8,237.1 L102.2,237.1 L102.6,237.1 L102.9,237.1 L103.3,237.1 L103.7,237.1 L104.1,237.1 L104.5,237.1 L104.9,237.1 L105.3,237.1 L105.7,237.1 L106.1,237.1 L106.4,237.1 L106.8,237.1 L107.2,237.1 L107.6,237.1 L108.0,237.1 L108.4,237.1 L108.8,237.1 L109.2,237.1 L109.6,237.1 L110.0,237.1 L110.3,237.1 L110.7,237.1 L111.1,237.1 L111.5,237.1 L111.9,237.1 L112.3,237.1 L112.7,237.1 L113.1,237.1 L113.5,237.1 L113.8,237.1 L114.2,237.1 L114.6,237.1 L115.0,237.1 L115.4,237.1 L115.8,237.1 L116.2,237.1 L116.6,237.1 L117.0,237.1 L117.4,237.1 L117.7,237.1 L118.1,237.1 L118.5,237.1 L118.9,237.1 L119.3,237.1 L119.7,237.1 L120.1,237.1 L120.5,237.1 L120.9,237.1 L121.2,237.1 L121.6,237.1 L122.0,237.1 L122.4,237.1 L122.8,237.1 L123.2,237.1 L123.6,237.1 L124.0,237.1 L124.4,237.1 L124.8,237.1 L125.1,237.1 L125.5,237.1 L125.9,237.1 L126.3,237.1 L126.7,237.1 L127.1,237.1 L127.5,237.1 L127.9,237.1 L128.3,237.1 L128.6,237.1 L129.0,237.1 L129.4,237.1 L129.8,237.1 L130.2,237.1 L130.6,237.1 L131.0,237.1 L131.4,237.1 L131.8,237.1 L132.2,237.1 L132.5,237.1 L132.9,237.1 L133.3,237.1 L133.7,237.1 L134.1,237.1 L134.5,237.1 L134.9,237.1 L135.3,237.1 L135.7,237.1 L136.0,237.1 L136.4,237.1 L136.8,237.1 L137.2,237.1 L137.6,237.1 L138.0,237.1 L138.4,237.1 L138.8,237.1 L139.2,237.1 L139.6,237.1 L139.9,237.1 L140.3,237.1 L140.7,237.1 L141.1,237.1 L141.5,237.1 L141.9,237.1 L142.3,237.1 L142.7,237.1 L143.1,237.1 L143.4,237.1 L143.8,237.1 L144.2,237.1 L144.6,237.1 L145.0,237.1 L145.4,237.1 L145.8,237.1 L146.2,237.1 L146.6,237.1 L147.0,237.1 L147.3,237.1 L147.7,237.1 L148.1,237.1 L148.5,237.1 L148.9,237.1 L149.3,237.1 L149.7,237.1 L150.1,237.1 L150.5,237.1 L150.8,237.1 L151.2,237.1 L151.6,237.1 L152.0,237.1 L152.4,237.1 L152.8,237.1 L153.2,237.1 L153.6,237.1 L154.0,237.1 L154.4,237.1 L154.7,237.1 L155.1,237.1 L155.5,237.1 L155.9,237.1 L156.3,237.1 L156.7,237.1 L157.1,237.1 L157.5,237.1 L157.9,237.1 L158.2,237.1 L158.6,237.1 L159.0,237.1 L159.4,237.1 L159.8,237.1 L160.2,237.1 L160.6,237.1 L161.0,237.1 L161.4,237.1 L161.8,237.1 L162.1,237.1 L162.5,237.1 L162.9,237.1 L163.3,237.1 L163.7,237.1 L164.1,237.1 L164.5,237.1 L164.9,237.1 L165.3,237.1 L165.7,237.1 L166.0,237.1 L166.4,237.1 L166.8,237.1 L167.2,237.1 L167.6,237.1 L168.0,237.1 L168.4,237.1 L168.8,237.1 L169.2,237.1 L169.5,237.1 L169.9,237.1 L170.3,237.1 L170.7,237.1 L171.1,237.1 L171.5,237.1 L171.9,237.1 L172.3,237.1 L172.7,237.1 L173.1,237.1 L173.4,237.1 L173.8,237.1 L174.2,237.1 L174.6,237.1 L175.0,237.1 L175.4,237.1 L175.8,237.1 L176.2,237.1 L176.6,237.1 L176.9,237.1 L177.3,237.1 L177.7,237.1 L178.1,237.1 L178.5,237.1 L178.9,237.1 L179.3,237.1 L179.7,237.1 L180.1,237.1 L180.5,237.1 L180.8,237.1 L181.2,237.1 L181.6,237.1 L182.0,237.1 L182.4,237.1 L182.8,237.1 L183.2,237.1 L183.6,237.1 L184.0,237.1 L184.3,237.1 L184.7,237.1 L185.1,237.1 L185.5,237.1 L185.9,237.1 L186.3,237.1 L186.7,237.1 L187.1,237.1 L187.5,237.1 L187.9,237.1 L188.2,237.1 L188.6,237.1 L189.0,237.1 L189.4,237.1 L189.8,237.1 L190.2,237.1 L190.6,237.1 L191.0,237.1 L191.4,237.1 L191.7,237.1 L192.1,237.1 L192.5,237.1 L192.9,237.1 L193.3,237.1 L193.7,237.1 L194.1,237.1 L194.5,237.1 L194.9,237.1 L195.3,237.1 L195.6,237.1 L196.0,237.1 L196.4,237.1 L196.8,237.1 L197.2,237.1" stroke="#6db544" stroke-width="1.5" fill="none" stroke-linejoin="round" clip-path="url(#cd)"/>
<path d="M41.4,234.5 L41.8,234.0 L42.2,233.4 L42.6,232.7 L43.0,231.9 L43.3,231.0 L43.7,229.9 L44.1,228.7 L44.5,227.4 L44.9,225.9 L45.3,224.2 L45.7,222.4 L46.1,220.4 L46.5,218.2 L46.9,215.8 L47.2,213.2 L47.6,210.4 L48.0,207.4 L48.4,204.3 L48.8,201.0 L49.2,197.5 L49.6,193.9 L50.0,190.2 L50.4,186.5 L50.7,182.7 L51.1,178.9 L51.5,175.1 L51.9,171.3 L52.3,167.7 L52.7,164.2 L53.1,161.0 L53.5,157.9 L53.9,155.1 L54.3,152.6 L54.6,150.4 L55.0,148.6 L55.4,147.2 L55.8,146.2 L56.2,145.6 L56.6,145.5 L57.0,145.7 L57.4,146.4 L57.8,147.3 L58.1,148.7 L58.5,150.4 L58.9,152.4 L59.3,154.7 L59.7,157.2 L60.1,160.1 L60.5,163.1 L60.9,166.3 L61.3,169.6 L61.7,173.1 L62.0,176.6 L62.4,180.1 L62.8,183.7 L63.2,187.3 L63.6,190.8 L64.0,194.2 L64.4,197.6 L64.8,200.8 L65.2,203.9 L65.5,206.9 L65.9,209.7 L66.3,212.4 L66.7,214.9 L67.1,217.2 L67.5,219.4 L67.9,221.3 L68.3,223.2 L68.7,224.8 L69.1,226.3 L69.4,227.7 L69.8,228.9 L70.2,230.0 L70.6,231.0 L71.0,231.9 L71.4,232.6 L71.8,233.3 L72.2,233.9 L72.6,234.4 L72.9,234.8 L73.3,235.2 L73.7,235.5 L74.1,235.8 L74.5,236.0 L74.9,236.2 L75.3,236.3 L75.7,236.5 L76.1,236.6 L76.5,236.7 L76.8,236.8 L77.2,236.8 L77.6,236.9 L78.0,236.9 L78.4,237.0 L78.8,237.0 L79.2,237.0 L79.6,237.0 L80.0,237.0 L80.3,237.1 L80.7,237.1 L81.1,237.1 L81.5,237.1 L81.9,237.1 L82.3,237.1 L82.7,237.1 L83.1,237.1 L83.5,237.1 L83.9,237.1 L84.2,237.1 L84.6,237.1 L85.0,237.1 L85.4,237.1 L85.8,237.1 L86.2,237.1 L86.6,237.1 L87.0,237.1 L87.4,237.1 L87.8,237.1 L88.1,237.1 L88.5,237.1 L88.9,237.1 L89.3,237.1 L89.7,237.1 L90.1,237.1 L90.5,237.1 L90.9,237.1 L91.3,237.1 L91.6,237.1 L92.0,237.1 L92.4,237.1 L92.8,237.1 L93.2,237.1 L93.6,237.1 L94.0,237.1 L94.4,237.1 L94.8,237.1 L95.2,237.1 L95.5,237.1 L95.9,237.1 L96.3,237.1 L96.7,237.1 L97.1,237.1 L97.5,237.1 L97.9,237.1 L98.3,237.1 L98.7,237.1 L99.0,237.1 L99.4,237.1 L99.8,237.1 L100.2,237.1 L100.6,237.1 L101.0,237.1 L101.4,237.1 L101.8,237.1 L102.2,237.1 L102.6,237.1 L102.9,237.1 L103.3,237.1 L103.7,237.1 L104.1,237.1 L104.5,237.1 L104.9,237.1 L105.3,237.1 L105.7,237.1 L106.1,237.1 L106.4,237.1 L106.8,237.1 L107.2,237.1 L107.6,237.1 L108.0,237.1 L108.4,237.1 L108.8,237.1 L109.2,237.1 L109.6,237.1 L110.0,237.1 L110.3,237.1 L110.7,237.1 L111.1,237.1 L111.5,237.1 L111.9,237.1 L112.3,237.1 L112.7,237.1 L113.1,237.1 L113.5,237.1 L113.8,237.1 L114.2,237.1 L114.6,237.1 L115.0,237.1 L115.4,237.1 L115.8,237.1 L116.2,237.1 L116.6,237.1 L117.0,237.1 L117.4,237.1 L117.7,237.1 L118.1,237.1 L118.5,237.1 L118.9,237.1 L119.3,237.1 L119.7,237.1 L120.1,237.1 L120.5,237.1 L120.9,237.1 L121.2,237.1 L121.6,237.1 L122.0,237.1 L122.4,237.1 L122.8,237.1 L123.2,237.1 L123.6,237.1 L124.0,237.1 L124.4,237.1 L124.8,237.1 L125.1,237.1 L125.5,237.1 L125.9,237.1 L126.3,237.1 L126.7,237.1 L127.1,237.1 L127.5,237.1 L127.9,237.1 L128.3,237.1 L128.6,237.1 L129.0,237.1 L129.4,237.1 L129.8,237.1 L130.2,237.1 L130.6,237.1 L131.0,237.1 L131.4,237.1 L131.8,237.1 L132.2,237.1 L132.5,237.1 L132.9,237.1 L133.3,237.1 L133.7,237.1 L134.1,237.1 L134.5,237.1 L134.9,237.1 L135.3,237.1 L135.7,237.1 L136.0,237.1 L136.4,237.1 L136.8,237.1 L137.2,237.1 L137.6,237.1 L138.0,237.1 L138.4,237.1 L138.8,237.1 L139.2,237.1 L139.6,237.1 L139.9,237.1 L140.3,237.1 L140.7,237.1 L141.1,237.1 L141.5,237.1 L141.9,237.1 L142.3,237.1 L142.7,237.1 L143.1,237.1 L143.4,237.1 L143.8,237.1 L144.2,237.1 L144.6,237.1 L145.0,237.1 L145.4,237.1 L145.8,237.1 L146.2,237.1 L146.6,237.1 L147.0,237.1 L147.3,237.1 L147.7,237.1 L148.1,237.1 L148.5,237.1 L148.9,237.1 L149.3,237.1 L149.7,237.1 L150.1,237.1 L150.5,237.1 L150.8,237.1 L151.2,237.1 L151.6,237.1 L152.0,237.1 L152.4,237.1 L152.8,237.1 L153.2,237.1 L153.6,237.1 L154.0,237.1 L154.4,237.1 L154.7,237.1 L155.1,237.1 L155.5,237.1 L155.9,237.1 L156.3,237.1 L156.7,237.1 L157.1,237.1 L157.5,237.1 L157.9,237.1 L158.2,237.1 L158.6,237.1 L159.0,237.1 L159.4,237.1 L159.8,237.1 L160.2,237.1 L160.6,237.1 L161.0,237.1 L161.4,237.1 L161.8,237.1 L162.1,237.1 L162.5,237.1 L162.9,237.1 L163.3,237.1 L163.7,237.1 L164.1,237.1 L164.5,237.1 L164.9,237.1 L165.3,237.1 L165.7,237.1 L166.0,237.1 L166.4,237.1 L166.8,237.1 L167.2,237.1 L167.6,237.1 L168.0,237.1 L168.4,237.1 L168.8,237.1 L169.2,237.1 L169.5,237.1 L169.9,237.1 L170.3,237.1 L170.7,237.1 L171.1,237.1 L171.5,237.1 L171.9,237.1 L172.3,237.1 L172.7,237.1 L173.1,237.1 L173.4,237.1 L173.8,237.1 L174.2,237.1 L174.6,237.1 L175.0,237.1 L175.4,237.1 L175.8,237.1 L176.2,237.1 L176.6,237.1 L176.9,237.1 L177.3,237.1 L177.7,237.1 L178.1,237.1 L178.5,237.1 L178.9,237.1 L179.3,237.1 L179.7,237.1 L180.1,237.1 L180.5,237.1 L180.8,237.1 L181.2,237.1 L181.6,237.1 L182.0,237.1 L182.4,237.1 L182.8,237.1 L183.2,237.1 L183.6,237.1 L184.0,237.1 L184.3,237.1 L184.7,237.1 L185.1,237.1 L185.5,237.1 L185.9,237.1 L186.3,237.1 L186.7,237.1 L187.1,237.1 L187.5,237.1 L187.9,237.1 L188.2,237.1 L188.6,237.1 L189.0,237.1 L189.4,237.1 L189.8,237.1 L190.2,237.1 L190.6,237.1 L191.0,237.1 L191.4,237.1 L191.7,237.1 L192.1,237.1 L192.5,237.1 L192.9,237.1 L193.3,237.1 L193.7,237.1 L194.1,237.1 L194.5,237.1 L194.9,237.1 L195.3,237.1 L195.6,237.1 L196.0,237.1 L196.4,237.1 L196.8,237.1 L197.2,237.1" stroke="#000000" stroke-width="1.5" fill="none" stroke-linejoin="round" clip-path="url(#cd)"/>
<path d="M41.4,237.1 L41.8,237.1 L42.2,237.1 L42.6,237.1 L43.0,237.1 L43.3,237.1 L43.7,237.1 L44.1,237.1 L44.5,237.1 L44.9,237.1 L45.3,237.1 L45.7,237.1 L46.1,237.1 L46.5,237.1 L46.9,237.1 L47.2,237.1 L47.6,237.1 L48.0,237.1 L48.4,237.1 L48.8,237.1 L49.2,237.1 L49.6,237.1 L50.0,237.1 L50.4,237.1 L50.7,237.1 L51.1,237.1 L51.5,237.1 L51.9,237.1 L52.3,237.1 L52.7,237.1 L53.1,237.1 L53.5,237.1 L53.9,237.1 L54.3,237.1 L54.6,237.1 L55.0,237.1 L55.4,237.1 L55.8,237.1 L56.2,237.1 L56.6,237.1 L57.0,237.1 L57.4,237.1 L57.8,237.1 L58.1,237.1 L58.5,237.1 L58.9,237.1 L59.3,237.1 L59.7,237.1 L60.1,237.1 L60.5,237.1 L60.9,237.1 L61.3,237.1 L61.7,237.1 L62.0,237.1 L62.4,237.1 L62.8,237.1 L63.2,237.1 L63.6,237.1 L64.0,237.1 L64.4,237.1 L64.8,237.1 L65.2,237.1 L65.5,237.1 L65.9,237.1 L66.3,237.1 L66.7,237.0 L67.1,237.0 L67.5,237.0 L67.9,237.0 L68.3,237.0 L68.7,237.0 L69.1,237.0 L69.4,236.9 L69.8,236.9 L70.2,236.9 L70.6,236.8 L71.0,236.8 L71.4,236.7 L71.8,236.7 L72.2,236.6 L72.6,236.6 L72.9,236.5 L73.3,236.4 L73.7,236.3 L74.1,236.2 L74.5,236.0 L74.9,235.9 L75.3,235.7 L75.7,235.6 L76.1,235.4 L76.5,235.2 L76.8,234.9 L77.2,234.7 L77.6,234.4 L78.0,234.1 L78.4,233.7 L78.8,233.4 L79.2,232.9 L79.6,232.5 L80.0,232.0 L80.3,231.5 L80.7,231.0 L81.1,230.4 L81.5,229.7 L81.9,229.0 L82.3,228.3 L82.7,227.5 L83.1,226.7 L83.5,225.8 L83.9,224.9 L84.2,223.9 L84.6,222.9 L85.0,221.8 L85.4,220.7 L85.8,219.5 L86.2,218.3 L86.6,217.0 L87.0,215.7 L87.4,214.3 L87.8,213.0 L88.1,211.6 L88.5,210.1 L88.9,208.6 L89.3,207.2 L89.7,205.7 L90.1,204.1 L90.5,202.6 L90.9,201.1 L91.3,199.6 L91.6,198.1 L92.0,196.7 L92.4,195.2 L92.8,193.8 L93.2,192.5 L93.6,191.2 L94.0,189.9 L94.4,188.7 L94.8,187.6 L95.2,186.6 L95.5,185.6 L95.9,184.7 L96.3,184.0 L96.7,183.3 L97.1,182.7 L97.5,182.2 L97.9,181.8 L98.3,181.6 L98.7,181.4 L99.0,181.4 L99.4,181.5 L99.8,181.7 L100.2,182.0 L100.6,182.4 L101.0,182.9 L101.4,183.5 L101.8,184.1 L102.2,184.9 L102.6,185.6 L102.9,186.5 L103.3,187.4 L103.7,188.3 L104.1,189.3 L104.5,190.3 L104.9,191.4 L105.3,192.5 L105.7,193.6 L106.1,194.8 L106.4,195.9 L106.8,197.1 L107.2,198.3 L107.6,199.5 L108.0,200.7 L108.4,201.9 L108.8,203.1 L109.2,204.3 L109.6,205.5 L110.0,206.7 L110.3,207.9 L110.7,209.0 L111.1,210.2 L111.5,211.3 L111.9,212.4 L112.3,213.5 L112.7,214.5 L113.1,215.6 L113.5,216.6 L113.8,217.6 L114.2,218.5 L114.6,219.4 L115.0,220.3 L115.4,221.2 L115.8,222.0 L116.2,222.9 L116.6,223.6 L117.0,224.4 L117.4,225.1 L117.7,225.8 L118.1,226.4 L118.5,227.1 L118.9,227.7 L119.3,228.3 L119.7,228.8 L120.1,229.3 L120.5,229.8 L120.9,230.3 L121.2,230.7 L121.6,231.2 L122.0,231.6 L122.4,231.9 L122.8,232.3 L123.2,232.6 L123.6,233.0 L124.0,233.3 L124.4,233.5 L124.8,233.8 L125.1,234.0 L125.5,234.3 L125.9,234.5 L126.3,234.7 L126.7,234.9 L127.1,235.1 L127.5,235.2 L127.9,235.4 L128.3,235.5 L128.6,235.6 L129.0,235.8 L129.4,235.9 L129.8,236.0 L130.2,236.1 L130.6,236.2 L131.0,236.2 L131.4,236.3 L131.8,236.4 L132.2,236.5 L132.5,236.5 L132.9,236.6 L133.3,236.6 L133.7,236.7 L134.1,236.7 L134.5,236.7 L134.9,236.8 L135.3,236.8 L135.7,236.8 L136.0,236.9 L136.4,236.9 L136.8,236.9 L137.2,236.9 L137.6,236.9 L138.0,237.0 L138.4,237.0 L138.8,237.0 L139.2,237.0 L139.6,237.0 L139.9,237.0 L140.3,237.0 L140.7,237.0 L141.1,237.0 L141.5,237.0 L141.9,237.1 L142.3,237.1 L142.7,237.1 L143.1,237.1 L143.4,237.1 L143.8,237.1 L144.2,237.1 L144.6,237.1 L145.0,237.1 L145.4,237.1 L145.8,237.1 L146.2,237.1 L146.6,237.1 L147.0,237.1 L147.3,237.1 L147.7,237.1 L148.1,237.1 L148.5,237.1 L148.9,237.1 L149.3,237.1 L149.7,237.1 L150.1,237.1 L150.5,237.1 L150.8,237.1 L151.2,237.1 L151.6,237.1 L152.0,237.1 L152.4,237.1 L152.8,237.1 L153.2,237.1 L153.6,237.1 L154.0,237.1 L154.4,237.1 L154.7,237.1 L155.1,237.1 L155.5,237.1 L155.9,237.1 L156.3,237.1 L156.7,237.1 L157.1,237.1 L157.5,237.1 L157.9,237.1 L158.2,237.1 L158.6,237.1 L159.0,237.1 L159.4,237.1 L159.8,237.1 L160.2,237.1 L160.6,237.1 L161.0,237.1 L161.4,237.1 L161.8,237.1 L162.1,237.1 L162.5,237.1 L162.9,237.1 L163.3,237.1 L163.7,237.1 L164.1,237.1 L164.5,237.1 L164.9,237.1 L165.3,237.1 L165.7,237.1 L166.0,237.1 L166.4,237.1 L166.8,237.1 L167.2,237.1 L167.6,237.1 L168.0,237.1 L168.4,237.1 L168.8,237.1 L169.2,237.1 L169.5,237.1 L169.9,237.1 L170.3,237.1 L170.7,237.1 L171.1,237.1 L171.5,237.1 L171.9,237.1 L172.3,237.1 L172.7,237.1 L173.1,237.1 L173.4,237.1 L173.8,237.1 L174.2,237.1 L174.6,237.1 L175.0,237.1 L175.4,237.1 L175.8,237.1 L176.2,237.1 L176.6,237.1 L176.9,237.1 L177.3,237.1 L177.7,237.1 L178.1,237.1 L178.5,237.1 L178.9,237.1 L179.3,237.1 L179.7,237.1 L180.1,237.1 L180.5,237.1 L180.8,237.1 L181.2,237.1 L181.6,237.1 L182.0,237.1 L182.4,237.1 L182.8,237.1 L183.2,237.1 L183.6,237.1 L184.0,237.1 L184.3,237.1 L184.7,237.1 L185.1,237.1 L185.5,237.1 L185.9,237.1 L186.3,237.1 L186.7,237.1 L187.1,237.1 L187.5,237.1 L187.9,237.1 L188.2,237.1 L188.6,237.1 L189.0,237.1 L189.4,237.1 L189.8,237.1 L190.2,237.1 L190.6,237.1 L191.0,237.1 L191.4,237.1 L191.7,237.1 L192.1,237.1 L192.5,237.1 L192.9,237.1 L193.3,237.1 L193.7,237.1 L194.1,237.1 L194.5,237.1 L194.9,237.1 L195.3,237.1 L195.6,237.1 L196.0,237.1 L196.4,237.1 L196.8,237.1 L197.2,237.1" stroke="#4a8c3a" stroke-width="1.5" fill="none" stroke-linejoin="round" clip-path="url(#cd)"/>
<path d="M84.0,237.3 L84.4,237.3 L84.8,237.3 L85.1,237.3 L85.5,237.3 L85.9,237.3 L86.3,237.3 L86.6,237.3 L87.0,237.2 L87.4,237.2 L87.8,237.2 L88.1,237.2 L88.5,237.2 L88.9,237.1 L89.3,237.1 L89.7,237.0 L90.0,236.9 L90.4,236.8 L90.8,236.7 L91.2,236.6 L91.5,236.5 L91.9,236.4 L92.3,236.3 L92.7,236.1 L93.0,236.0 L93.4,235.9 L93.8,235.8 L94.2,235.6 L94.5,235.5 L94.9,235.4 L95.3,235.2 L95.7,235.1 L96.1,234.9 L96.4,234.7 L96.8,234.6 L97.2,234.4 L97.6,234.2 L97.9,234.0 L98.3,233.8 L98.7,233.6 L99.1,233.4 L99.4,233.2 L99.8,233.0 L100.2,232.8 L100.6,232.6 L101.0,232.3 L101.3,232.1 L101.7,231.8 L102.1,231.6 L102.5,231.3 L102.8,231.1 L103.2,230.8 L103.6,230.5 L104.0,230.2 L104.3,229.9 L104.7,229.6 L105.1,229.3 L105.5,228.9 L105.8,228.6 L106.2,228.3 L106.6,228.0 L107.0,227.6 L107.4,227.3 L107.7,226.9 L108.1,226.6 L108.5,226.2 L108.9,225.9 L109.2,225.5 L109.6,225.1 L110.0,224.8 L110.4,224.4 L110.7,224.1 L111.1,223.7 L111.5,223.3 L111.9,223.0 L112.2,222.6 L112.6,222.2 L113.0,221.9 L113.4,221.5 L113.8,221.1 L114.1,220.7 L114.5,220.3 L114.9,219.8 L115.3,219.4 L115.6,219.0 L116.0,218.5 L116.4,218.1 L116.8,217.6 L117.1,217.1 L117.5,216.6 L117.9,216.1 L118.3,215.5 L118.7,214.9 L119.0,214.3 L119.4,213.6 L119.8,212.9 L120.2,212.2 L120.5,211.5 L120.9,210.8 L121.3,210.1 L121.7,209.4 L122.0,208.7 L122.4,208.0 L122.8,207.2 L123.2,206.4 L123.5,205.5 L123.9,204.6 L124.3,203.7 L124.7,202.7 L125.1,201.9 L125.4,201.1 L125.8,200.3 L126.2,199.7 L126.6,199.3 L126.9,199.0 L127.3,198.9 L127.7,198.9 L128.1,199.0 L128.4,199.1 L128.8,199.3 L129.2,199.5 L129.6,199.7 L130.0,199.9 L130.3,200.2 L130.7,200.5 L131.1,200.8 L131.5,201.0 L131.8,201.3 L132.2,201.6 L132.6,201.9 L133.0,202.1 L133.3,202.4 L133.7,202.7 L134.1,202.9 L134.5,203.2 L134.8,203.6 L135.2,203.9 L135.6,204.3 L136.0,204.7 L136.4,205.2 L136.7,205.7 L137.1,206.3 L137.5,207.0 L137.9,207.7 L138.2,208.5 L138.6,209.3 L139.0,210.1 L139.4,210.9 L139.7,211.7 L140.1,212.4 L140.5,213.2 L140.9,213.9 L141.3,214.6 L141.6,215.2 L142.0,215.8 L142.4,216.4 L142.8,217.0 L143.1,217.7 L143.5,218.3 L143.9,218.9 L144.3,219.5 L144.6,220.1 L145.0,220.7 L145.4,221.3 L145.8,221.9 L146.2,222.4 L146.5,222.9 L146.9,223.5 L147.3,224.0 L147.7,224.4 L148.0,224.9 L148.4,225.3 L148.8,225.7 L149.2,226.0 L149.5,226.4 L149.9,226.7 L150.3,227.0 L150.7,227.2 L151.0,227.5 L151.4,227.7 L151.8,228.0 L152.2,228.2 L152.6,228.4 L152.9,228.7 L153.3,228.9 L153.7,229.1 L154.1,229.3 L154.4,229.5 L154.8,229.6 L155.2,229.8 L155.6,230.0 L155.9,230.2 L156.3,230.3 L156.7,230.5 L157.1,230.6 L157.4,230.8 L157.8,230.9 L158.2,231.1 L158.6,231.2 L159.0,231.3 L159.3,231.4 L159.7,231.6 L160.1,231.7 L160.5,231.8 L160.8,231.9 L161.2,232.0 L161.6,232.2 L162.0,232.3 L162.3,232.4 L162.7,232.5 L163.1,232.6 L163.5,232.7 L163.9,232.8 L164.2,232.9 L164.6,233.0 L165.0,233.1 L165.4,233.2 L165.7,233.3 L166.1,233.4 L166.5,233.4 L166.9,233.5 L167.2,233.6 L167.6,233.7 L168.0,233.8 L168.4,233.9 L168.8,234.0 L169.1,234.1 L169.5,234.2 L169.9,234.3 L170.3,234.3 L170.6,234.4 L171.0,234.5 L171.4,234.6 L171.8,234.7 L172.1,234.8 L172.5,234.9 L172.9,235.0 L173.3,235.1 L173.6,235.2 L174.0,235.3 L174.4,235.4 L174.8,235.4 L175.2,235.5 L175.5,235.6 L175.9,235.7 L176.3,235.8 L176.7,235.8 L177.0,235.9 L177.4,236.0 L177.8,236.1 L178.2,236.1 L178.5,236.2 L178.9,236.3 L179.3,236.3 L179.7,236.4 L180.1,236.4 L180.4,236.5 L180.8,236.5 L181.2,236.6 L181.6,236.6 L181.9,236.6 L182.3,236.7 L182.7,236.7 L183.1,236.7 L183.4,236.8 L183.8,236.8 L184.2,236.8 L184.6,236.8 L184.9,236.9 L185.3,236.9 L185.7,236.9 L186.1,236.9 L186.5,236.9 L186.8,237.0 L187.2,237.0 L187.6,237.0 L188.0,237.0 L188.3,237.1 L188.7,237.1 L189.1,237.1 L189.5,237.1 L189.8,237.1 L190.2,237.1 L190.6,237.2 L191.0,237.2 L191.3,237.2 L191.7,237.2 L192.1,237.2 L192.5,237.2 L192.9,237.2 L193.2,237.2 L193.6,237.3 L194.0,237.3 L194.4,237.3 L194.7,237.3 L195.1,237.3 L195.5,237.3 L195.9,237.3 L196.2,237.3 L196.6,237.3 L197.0,237.3" stroke="#2b5e22" stroke-width="1.5" fill="none" stroke-linejoin="round" clip-path="url(#cd)"/>
<line x1="149.20" y1="145.50" x2="159.30" y2="145.50" stroke="#333" stroke-width="1.3" />
<text x="163.40" y="147.74" font-size="6.6" text-anchor="start" fill="#222" font-weight="normal" font-style="normal" font-family="Liberation Sans" stroke="#222" stroke-width="0.12" >Open-loop</text>
<line x1="149.20" y1="158.20" x2="159.30" y2="158.20" stroke="#d6e6b6" stroke-width="1.3" />
<text x="163.40" y="160.44" font-size="6.6" text-anchor="start" fill="#222" font-weight="normal" font-style="normal" font-family="Liberation Sans" stroke="#222" stroke-width="0.12" >top99%</text>
<line x1="149.20" y1="170.10" x2="159.30" y2="170.10" stroke="#a9d07f" stroke-width="1.3" />
<text x="163.40" y="172.34" font-size="6.6" text-anchor="start" fill="#222" font-weight="normal" font-style="normal" font-family="Liberation Sans" stroke="#222" stroke-width="0.12" >top50%</text>
<line x1="149.20" y1="182.40" x2="159.30" y2="182.40" stroke="#6db544" stroke-width="1.3" />
<text x="163.40" y="184.64" font-size="6.6" text-anchor="start" fill="#222" font-weight="normal" font-style="normal" font-family="Liberation Sans" stroke="#222" stroke-width="0.12" >top1%</text>
<line x1="149.20" y1="195.00" x2="159.30" y2="195.00" stroke="#4a8c3a" stroke-width="1.3" />
<text x="163.40" y="197.24" font-size="6.6" text-anchor="start" fill="#222" font-weight="normal" font-style="normal" font-family="Liberation Sans" stroke="#222" stroke-width="0.12" >10xMean</text>
<line x1="149.20" y1="207.70" x2="159.30" y2="207.70" stroke="#2b5e22" stroke-width="1.3" />
<text x="163.40" y="209.94" font-size="6.6" text-anchor="start" fill="#222" font-weight="normal" font-style="normal" font-family="Liberation Sans" stroke="#222" stroke-width="0.12" >20xMean</text>
<text x="220.20" y="135.00" font-size="9" text-anchor="start" fill="#000" font-weight="bold" font-style="normal" font-family="Liberation Sans" >e.</text>
<line x1="260.25" y1="237.80" x2="433.45" y2="237.80" stroke="#888" stroke-width="0.7" />
<line x1="260.25" y1="237.80" x2="260.25" y2="133.62" stroke="#888" stroke-width="0.7" />
<line x1="275.60" y1="237.80" x2="275.60" y2="235.20" stroke="#888" stroke-width="0.6" />
<text x="275.60" y="246.80" font-size="8.3" text-anchor="middle" fill="#222" font-weight="normal" font-style="normal" font-family="Liberation Sans" stroke="#222" stroke-width="0.12" >400</text>
<line x1="304.30" y1="237.80" x2="304.30" y2="235.20" stroke="#888" stroke-width="0.6" />
<text x="304.30" y="246.80" font-size="8.3" text-anchor="middle" fill="#222" font-weight="normal" font-style="normal" font-family="Liberation Sans" stroke="#222" stroke-width="0.12" >600</text>
<line x1="333.00" y1="237.80" x2="333.00" y2="235.20" stroke="#888" stroke-width="0.6" />
<text x="333.00" y="246.80" font-size="8.3" text-anchor="middle" fill="#222" font-weight="normal" font-style="normal" font-family="Liberation Sans" stroke="#222" stroke-width="0.12" >800</text>
<line x1="361.70" y1="237.80" x2="361.70" y2="235.20" stroke="#888" stroke-width="0.6" />
<text x="361.70" y="246.80" font-size="8.3" text-anchor="middle" fill="#222" font-weight="normal" font-style="normal" font-family="Liberation Sans" stroke="#222" stroke-width="0.12" >1000</text>
<line x1="390.40" y1="237.80" x2="390.40" y2="235.20" stroke="#888" stroke-width="0.6" />
<text x="390.40" y="246.80" font-size="8.3" text-anchor="middle" fill="#222" font-weight="normal" font-style="normal" font-family="Liberation Sans" stroke="#222" stroke-width="0.12" >1200</text>
<line x1="419.10" y1="237.80" x2="419.10" y2="235.20" stroke="#888" stroke-width="0.6" />
<text x="419.10" y="246.80" font-size="8.3" text-anchor="middle" fill="#222" font-weight="normal" font-style="normal" font-family="Liberation Sans" stroke="#222" stroke-width="0.12" >1400</text>
<line x1="261.25" y1="237.80" x2="261.25" y2="236.40" stroke="#888" stroke-width="0.5" />
<line x1="268.43" y1="237.80" x2="268.43" y2="236.40" stroke="#888" stroke-width="0.5" />
<line x1="282.78" y1="237.80" x2="282.78" y2="236.40" stroke="#888" stroke-width="0.5" />
<line x1="289.95" y1="237.80" x2="289.95" y2="236.40" stroke="#888" stroke-width="0.5" />
<line x1="297.12" y1="237.80" x2="297.12" y2="236.40" stroke="#888" stroke-width="0.5" />
<line x1="311.48" y1="237.80" x2="311.48" y2="236.40" stroke="#888" stroke-width="0.5" />
<line x1="318.65" y1="237.80" x2="318.65" y2="236.40" stroke="#888" stroke-width="0.5" />
<line x1="325.83" y1="237.80" x2="325.83" y2="236.40" stroke="#888" stroke-width="0.5" />
<line x1="340.18" y1="237.80" x2="340.18" y2="236.40" stroke="#888" stroke-width="0.5" />
<line x1="347.35" y1="237.80" x2="347.35" y2="236.40" stroke="#888" stroke-width="0.5" />
<line x1="354.53" y1="237.80" x2="354.53" y2="236.40" stroke="#888" stroke-width="0.5" />
<line x1="368.88" y1="237.80" x2="368.88" y2="236.40" stroke="#888" stroke-width="0.5" />
<line x1="376.05" y1="237.80" x2="376.05" y2="236.40" stroke="#888" stroke-width="0.5" />
<line x1="383.23" y1="237.80" x2="383.23" y2="236.40" stroke="#888" stroke-width="0.5" />
<line x1="397.58" y1="237.80" x2="397.58" y2="236.40" stroke="#888" stroke-width="0.5" />
<line x1="404.75" y1="237.80" x2="404.75" y2="236.40" stroke="#888" stroke-width="0.5" />
<line x1="411.93" y1="237.80" x2="411.93" y2="236.40" stroke="#888" stroke-width="0.5" />
<line x1="426.28" y1="237.80" x2="426.28" y2="236.40" stroke="#888" stroke-width="0.5" />
<line x1="433.45" y1="237.80" x2="433.45" y2="236.40" stroke="#888" stroke-width="0.5" />
<line x1="260.25" y1="237.80" x2="262.85" y2="237.80" stroke="#888" stroke-width="0.6" />
<text x="259.00" y="240.30" font-size="8.3" text-anchor="end" fill="#222" font-weight="normal" font-style="normal" font-family="Liberation Sans" stroke="#222" stroke-width="0.12" >0.000</text>
<line x1="260.25" y1="222.25" x2="262.85" y2="222.25" stroke="#888" stroke-width="0.6" />
<text x="259.00" y="224.75" font-size="8.3" text-anchor="end" fill="#222" font-weight="normal" font-style="normal" font-family="Liberation Sans" stroke="#222" stroke-width="0.12" >0.001</text>
<line x1="260.25" y1="206.70" x2="262.85" y2="206.70" stroke="#888" stroke-width="0.6" />
<text x="259.00" y="209.20" font-size="8.3" text-anchor="end" fill="#222" font-weight="normal" font-style="normal" font-family="Liberation Sans" stroke="#222" stroke-width="0.12" >0.002</text>
<line x1="260.25" y1="191.15" x2="262.85" y2="191.15" stroke="#888" stroke-width="0.6" />
<text x="259.00" y="193.65" font-size="8.3" text-anchor="end" fill="#222" font-weight="normal" font-style="normal" font-family="Liberation Sans" stroke="#222" stroke-width="0.12" >0.003</text>
<line x1="260.25" y1="175.60" x2="262.85" y2="175.60" stroke="#888" stroke-width="0.6" />
<text x="259.00" y="178.10" font-size="8.3" text-anchor="end" fill="#222" font-weight="normal" font-style="normal" font-family="Liberation Sans" stroke="#222" stroke-width="0.12" >0.004</text>
<line x1="260.25" y1="160.05" x2="262.85" y2="160.05" stroke="#888" stroke-width="0.6" />
<text x="259.00" y="162.55" font-size="8.3" text-anchor="end" fill="#222" font-weight="normal" font-style="normal" font-family="Liberation Sans" stroke="#222" stroke-width="0.12" >0.005</text>
<line x1="260.25" y1="144.50" x2="262.85" y2="144.50" stroke="#888" stroke-width="0.6" />
<text x="259.00" y="147.00" font-size="8.3" text-anchor="end" fill="#222" font-weight="normal" font-style="normal" font-family="Liberation Sans" stroke="#222" stroke-width="0.12" >0.006</text>
<line x1="260.25" y1="234.69" x2="261.65" y2="234.69" stroke="#888" stroke-width="0.5" />
<line x1="260.25" y1="231.58" x2="261.65" y2="231.58" stroke="#888" stroke-width="0.5" />
<line x1="260.25" y1="228.47" x2="261.65" y2="228.47" stroke="#888" stroke-width="0.5" />
<line x1="260.25" y1="225.36" x2="261.65" y2="225.36" stroke="#888" stroke-width="0.5" />
<line x1="260.25" y1="219.14" x2="261.65" y2="219.14" stroke="#888" stroke-width="0.5" />
<line x1="260.25" y1="216.03" x2="261.65" y2="216.03" stroke="#888" stroke-width="0.5" />
<line x1="260.25" y1="212.92" x2="261.65" y2="212.92" stroke="#888" stroke-width="0.5" />
<line x1="260.25" y1="209.81" x2="261.65" y2="209.81" stroke="#888" stroke-width="0.5" />
<line x1="260.25" y1="203.59" x2="261.65" y2="203.59" stroke="#888" stroke-width="0.5" />
<line x1="260.25" y1="200.48" x2="261.65" y2="200.48" stroke="#888" stroke-width="0.5" />
<line x1="260.25" y1="197.37" x2="261.65" y2="197.37" stroke="#888" stroke-width="0.5" />
<line x1="260.25" y1="194.26" x2="261.65" y2="194.26" stroke="#888" stroke-width="0.5" />
<line x1="260.25" y1="188.04" x2="261.65" y2="188.04" stroke="#888" stroke-width="0.5" />
<line x1="260.25" y1="184.93" x2="261.65" y2="184.93" stroke="#888" stroke-width="0.5" />
<line x1="260.25" y1="181.82" x2="261.65" y2="181.82" stroke="#888" stroke-width="0.5" />
<line x1="260.25" y1="178.71" x2="261.65" y2="178.71" stroke="#888" stroke-width="0.5" />
<line x1="260.25" y1="172.49" x2="261.65" y2="172.49" stroke="#888" stroke-width="0.5" />
<line x1="260.25" y1="169.38" x2="261.65" y2="169.38" stroke="#888" stroke-width="0.5" />
<line x1="260.25" y1="166.27" x2="261.65" y2="166.27" stroke="#888" stroke-width="0.5" />
<line x1="260.25" y1="163.16" x2="261.65" y2="163.16" stroke="#888" stroke-width="0.5" />
<line x1="260.25" y1="156.94" x2="261.65" y2="156.94" stroke="#888" stroke-width="0.5" />
<line x1="260.25" y1="153.83" x2="261.65" y2="153.83" stroke="#888" stroke-width="0.5" />
<line x1="260.25" y1="150.72" x2="261.65" y2="150.72" stroke="#888" stroke-width="0.5" />
<line x1="260.25" y1="147.61" x2="261.65" y2="147.61" stroke="#888" stroke-width="0.5" />
<line x1="260.25" y1="141.39" x2="261.65" y2="141.39" stroke="#888" stroke-width="0.5" />
<line x1="260.25" y1="138.28" x2="261.65" y2="138.28" stroke="#888" stroke-width="0.5" />
<line x1="260.25" y1="135.17" x2="261.65" y2="135.17" stroke="#888" stroke-width="0.5" />
<text x="340.40" y="257.70" font-size="8.6" text-anchor="middle" fill="#222" font-weight="normal" font-style="normal" font-family="Liberation Sans" stroke="#222" stroke-width="0.12" textLength="127.3" lengthAdjust="spacingAndGlyphs" >Metabolite Concentration (arb. units)</text>
<text x="0.00" y="0.00" font-size="7.5" text-anchor="middle" fill="#222" font-weight="normal" font-style="normal" font-family="Liberation Sans" stroke="#222" stroke-width="0.1" textLength="64.6" lengthAdjust="spacingAndGlyphs" transform="translate(234.3,186.4) rotate(-90)">Probability Density</text>
<path d="M260.2,237.8 L260.7,237.8 L261.1,237.8 L261.5,237.8 L262.0,237.8 L262.4,237.8 L262.8,237.8 L263.3,237.8 L263.7,237.8 L264.1,237.8 L264.6,237.8 L265.0,237.8 L265.4,237.8 L265.9,237.8 L266.3,237.8 L266.7,237.8 L267.2,237.8 L267.6,237.8 L268.0,237.8 L268.5,237.8 L268.9,237.8 L269.3,237.8 L269.8,237.8 L270.2,237.8 L270.6,237.8 L271.1,237.8 L271.5,237.8 L271.9,237.8 L272.4,237.8 L272.8,237.8 L273.2,237.8 L273.7,237.8 L274.1,237.8 L274.5,237.8 L275.0,237.8 L275.4,237.8 L275.8,237.8 L276.3,237.8 L276.7,237.8 L277.1,237.8 L277.6,237.8 L278.0,237.8 L278.4,237.8 L278.9,237.8 L279.3,237.8 L279.7,237.8 L280.2,237.8 L280.6,237.8 L281.0,237.8 L281.5,237.8 L281.9,237.8 L282.3,237.8 L282.8,237.8 L283.2,237.8 L283.6,237.8 L284.1,237.8 L284.5,237.8 L284.9,237.8 L285.4,237.8 L285.8,237.8 L286.2,237.7 L286.7,237.7 L287.1,237.7 L287.5,237.7 L288.0,237.7 L288.4,237.7 L288.8,237.7 L289.3,237.7 L289.7,237.7 L290.1,237.7 L290.6,237.7 L291.0,237.7 L291.4,237.7 L291.9,237.6 L292.3,237.6 L292.7,237.6 L293.2,237.6 L293.6,237.6 L294.0,237.6 L294.5,237.6 L294.9,237.5 L295.3,237.5 L295.8,237.5 L296.2,237.5 L296.6,237.4 L297.1,237.4 L297.5,237.4 L297.9,237.3 L298.4,237.3 L298.8,237.3 L299.2,237.2 L299.6,237.2 L300.1,237.1 L300.5,237.1 L300.9,237.0 L301.4,237.0 L301.8,236.9 L302.2,236.9 L302.7,236.8 L303.1,236.7 L303.5,236.6 L304.0,236.6 L304.4,236.5 L304.8,236.4 L305.3,236.3 L305.7,236.2 L306.1,236.1 L306.6,235.9 L307.0,235.8 L307.4,235.7 L307.9,235.5 L308.3,235.4 L308.7,235.2 L309.2,235.0 L309.6,234.8 L310.0,234.7 L310.5,234.4 L310.9,234.2 L311.3,234.0 L311.8,233.8 L312.2,233.5 L312.6,233.2 L313.1,232.9 L313.5,232.6 L313.9,232.3 L314.4,232.0 L314.8,231.6 L315.2,231.2 L315.7,230.9 L316.1,230.4 L316.5,230.0 L317.0,229.6 L317.4,229.1 L317.8,228.6 L318.3,228.1 L318.7,227.5 L319.1,226.9 L319.6,226.3 L320.0,225.7 L320.4,225.0 L320.9,224.4 L321.3,223.7 L321.7,222.9 L322.2,222.1 L322.6,221.3 L323.0,220.5 L323.5,219.6 L323.9,218.7 L324.3,217.8 L324.8,216.8 L325.2,215.8 L325.6,214.8 L326.1,213.7 L326.5,212.6 L326.9,211.4 L327.4,210.2 L327.8,209.0 L328.2,207.8 L328.7,206.5 L329.1,205.2 L329.5,203.8 L330.0,202.4 L330.4,201.0 L330.8,199.5 L331.3,198.1 L331.7,196.6 L332.1,195.0 L332.6,193.5 L333.0,191.9 L333.4,190.3 L333.9,188.7 L334.3,187.0 L334.7,185.4 L335.2,183.8 L335.6,182.1 L336.0,180.5 L336.5,178.8 L336.9,177.2 L337.3,175.6 L337.8,174.0 L338.2,172.5 L338.6,171.0 L339.1,169.5 L339.5,168.1 L339.9,166.7 L340.4,165.5 L340.8,164.3 L341.2,163.3 L341.7,162.4 L342.1,161.6 L342.5,161.2 L343.0,161.2 L343.4,161.4 L343.8,161.8 L344.2,162.3 L344.7,163.0 L345.1,163.8 L345.5,164.6 L346.0,165.6 L346.4,166.7 L346.8,167.9 L347.3,169.1 L347.7,170.4 L348.1,171.9 L348.6,173.3 L349.0,174.8 L349.4,176.4 L349.9,178.0 L350.3,179.7 L350.7,181.4 L351.2,183.1 L351.6,184.9 L352.0,186.6 L352.5,188.4 L352.9,190.1 L353.3,191.9 L353.8,193.6 L354.2,195.4 L354.6,197.1 L355.1,198.8 L355.5,200.5 L355.9,202.2 L356.4,203.8 L356.8,205.4 L357.2,206.9 L357.7,208.4 L358.1,209.9 L358.5,211.4 L359.0,212.8 L359.4,214.1 L359.8,215.4 L360.3,216.7 L360.7,217.9 L361.1,219.0 L361.6,220.2 L362.0,221.2 L362.4,222.3 L362.9,223.2 L363.3,224.2 L363.7,225.1 L364.2,225.9 L364.6,226.7 L365.0,227.5 L365.5,228.2 L365.9,228.9 L366.3,229.5 L366.8,230.1 L367.2,230.7 L367.6,231.2 L368.1,231.7 L368.5,232.2 L368.9,232.6 L369.4,233.0 L369.8,233.4 L370.2,233.8 L370.7,234.1 L371.1,234.4 L371.5,234.7 L372.0,235.0 L372.4,235.2 L372.8,235.4 L373.3,235.6 L373.7,235.8 L374.1,236.0 L374.6,236.2 L375.0,236.3 L375.4,236.5 L375.9,236.6 L376.3,236.7 L376.7,236.8 L377.2,236.9 L377.6,237.0 L378.0,237.1 L378.5,237.2 L378.9,237.2 L379.3,237.3 L379.8,237.3 L380.2,237.4 L380.6,237.4 L381.1,237.5 L381.5,237.5 L381.9,237.5 L382.4,237.6 L382.8,237.6 L383.2,237.6 L383.7,237.6 L384.1,237.7 L384.5,237.7 L385.0,237.7 L385.4,237.7 L385.8,237.7 L386.3,237.7 L386.7,237.7 L387.1,237.7 L387.6,237.7 L388.0,237.8 L388.4,237.8 L388.8,237.8 L389.3,237.8 L389.7,237.8 L390.1,237.8 L390.6,237.8 L391.0,237.8 L391.4,237.8 L391.9,237.8 L392.3,237.8 L392.7,237.8 L393.2,237.8 L393.6,237.8 L394.0,237.8 L394.5,237.8 L394.9,237.8 L395.3,237.8 L395.8,237.8 L396.2,237.8 L396.6,237.8 L397.1,237.8 L397.5,237.8 L397.9,237.8 L398.4,237.8 L398.8,237.8 L399.2,237.8 L399.7,237.8 L400.1,237.8 L400.5,237.8 L401.0,237.8 L401.4,237.8 L401.8,237.8 L402.3,237.8 L402.7,237.8 L403.1,237.8 L403.6,237.8 L404.0,237.8 L404.4,237.8 L404.9,237.8 L405.3,237.8 L405.7,237.8 L406.2,237.8 L406.6,237.8 L407.0,237.8 L407.5,237.8 L407.9,237.8 L408.3,237.8 L408.8,237.8 L409.2,237.8 L409.6,237.8 L410.1,237.8 L410.5,237.8 L410.9,237.8 L411.4,237.8 L411.8,237.8 L412.2,237.8 L412.7,237.8 L413.1,237.8 L413.5,237.8 L414.0,237.8 L414.4,237.8 L414.8,237.8 L415.3,237.8 L415.7,237.8 L416.1,237.8 L416.6,237.8 L417.0,237.8 L417.4,237.8 L417.9,237.8 L418.3,237.8 L418.7,237.8 L419.2,237.8 L419.6,237.8 L420.0,237.8 L420.5,237.8 L420.9,237.8 L421.3,237.8 L421.8,237.8 L422.2,237.8 L422.6,237.8 L423.1,237.8 L423.5,237.8 L423.9,237.8 L424.4,237.8 L424.8,237.8 L425.2,237.8 L425.7,237.8 L426.1,237.8 L426.5,237.8 L427.0,237.8 L427.4,237.8 L427.8,237.8 L428.3,237.8 L428.7,237.8 L429.1,237.8 L429.6,237.8 L430.0,237.8 L430.4,237.8 L430.9,237.8 L431.3,237.8 L431.7,237.8 L432.2,237.8 L432.6,237.8 L433.0,237.8 L433.5,237.8" stroke="#d6e6b6" stroke-width="1.5" fill="none" stroke-linejoin="round" clip-path="url(#ce)"/>
<path d="M260.2,237.8 L260.7,237.8 L261.1,237.8 L261.5,237.8 L262.0,237.8 L262.4,237.8 L262.8,237.8 L263.3,237.8 L263.7,237.8 L264.1,237.8 L264.6,237.8 L265.0,237.8 L265.4,237.8 L265.9,237.8 L266.3,237.8 L266.7,237.8 L267.2,237.8 L267.6,237.8 L268.0,237.8 L268.5,237.8 L268.9,237.8 L269.3,237.8 L269.8,237.8 L270.2,237.8 L270.6,237.8 L271.1,237.8 L271.5,237.8 L271.9,237.8 L272.4,237.8 L272.8,237.8 L273.2,237.8 L273.7,237.8 L274.1,237.8 L274.5,237.8 L275.0,237.8 L275.4,237.8 L275.8,237.8 L276.3,237.8 L276.7,237.8 L277.1,237.8 L277.6,237.8 L278.0,237.8 L278.4,237.8 L278.9,237.8 L279.3,237.8 L279.7,237.8 L280.2,237.8 L280.6,237.8 L281.0,237.8 L281.5,237.8 L281.9,237.8 L282.3,237.8 L282.8,237.8 L283.2,237.8 L283.6,237.8 L284.1,237.8 L284.5,237.8 L284.9,237.8 L285.4,237.8 L285.8,237.8 L286.2,237.8 L286.7,237.8 L287.1,237.8 L287.5,237.8 L288.0,237.8 L288.4,237.7 L288.8,237.7 L289.3,237.7 L289.7,237.7 L290.1,237.7 L290.6,237.7 L291.0,237.7 L291.4,237.7 L291.9,237.7 L292.3,237.7 L292.7,237.7 L293.2,237.7 L293.6,237.7 L294.0,237.7 L294.5,237.6 L294.9,237.6 L295.3,237.6 L295.8,237.6 L296.2,237.6 L296.6,237.6 L297.1,237.6 L297.5,237.5 L297.9,237.5 L298.4,237.5 L298.8,237.5 L299.2,237.4 L299.6,237.4 L300.1,237.4 L300.5,237.4 L300.9,237.3 L301.4,237.3 L301.8,237.2 L302.2,237.2 L302.7,237.2 L303.1,237.1 L303.5,237.1 L304.0,237.0 L304.4,236.9 L304.8,236.9 L305.3,236.8 L305.7,236.8 L306.1,236.7 L306.6,236.6 L307.0,236.5 L307.4,236.4 L307.9,236.3 L308.3,236.2 L308.7,236.1 L309.2,236.0 L309.6,235.9 L310.0,235.8 L310.5,235.6 L310.9,235.5 L311.3,235.3 L311.8,235.2 L312.2,235.0 L312.6,234.8 L313.1,234.6 L313.5,234.4 L313.9,234.2 L314.4,234.0 L314.8,233.7 L315.2,233.5 L315.7,233.2 L316.1,232.9 L316.5,232.6 L317.0,232.3 L317.4,232.0 L317.8,231.7 L318.3,231.3 L318.7,230.9 L319.1,230.5 L319.6,230.1 L320.0,229.7 L320.4,229.2 L320.9,228.7 L321.3,228.2 L321.7,227.7 L322.2,227.1 L322.6,226.6 L323.0,226.0 L323.5,225.3 L323.9,224.7 L324.3,224.0 L324.8,223.3 L325.2,222.5 L325.6,221.8 L326.1,221.0 L326.5,220.1 L326.9,219.3 L327.4,218.4 L327.8,217.5 L328.2,216.5 L328.7,215.5 L329.1,214.5 L329.5,213.4 L330.0,212.3 L330.4,211.2 L330.8,210.1 L331.3,208.9 L331.7,207.6 L332.1,206.4 L332.6,205.1 L333.0,203.8 L333.4,202.4 L333.9,201.0 L334.3,199.6 L334.7,198.2 L335.2,196.7 L335.6,195.2 L336.0,193.7 L336.5,192.2 L336.9,190.6 L337.3,189.1 L337.8,187.5 L338.2,185.9 L338.6,184.3 L339.1,182.7 L339.5,181.1 L339.9,179.5 L340.4,177.9 L340.8,176.4 L341.2,174.8 L341.7,173.3 L342.1,171.8 L342.5,170.4 L343.0,169.0 L343.4,167.6 L343.8,166.4 L344.2,165.2 L344.7,164.1 L345.1,163.2 L345.5,162.3 L346.0,161.7 L346.4,161.5 L346.8,161.6 L347.3,161.9 L347.7,162.3 L348.1,162.9 L348.6,163.7 L349.0,164.5 L349.4,165.4 L349.9,166.5 L350.3,167.7 L350.7,168.9 L351.2,170.2 L351.6,171.6 L352.0,173.1 L352.5,174.7 L352.9,176.3 L353.3,177.9 L353.8,179.6 L354.2,181.3 L354.6,183.0 L355.1,184.8 L355.5,186.6 L355.9,188.4 L356.4,190.2 L356.8,192.0 L357.2,193.8 L357.7,195.5 L358.1,197.3 L358.5,199.0 L359.0,200.7 L359.4,202.4 L359.8,204.1 L360.3,205.7 L360.7,207.3 L361.1,208.8 L361.6,210.3 L362.0,211.8 L362.4,213.2 L362.9,214.6 L363.3,215.9 L363.7,217.1 L364.2,218.4 L364.6,219.5 L365.0,220.7 L365.5,221.7 L365.9,222.8 L366.3,223.7 L366.8,224.7 L367.2,225.5 L367.6,226.4 L368.1,227.2 L368.5,227.9 L368.9,228.6 L369.4,229.3 L369.8,229.9 L370.2,230.5 L370.7,231.1 L371.1,231.6 L371.5,232.1 L372.0,232.5 L372.4,233.0 L372.8,233.4 L373.3,233.7 L373.7,234.1 L374.1,234.4 L374.6,234.7 L375.0,235.0 L375.4,235.2 L375.9,235.4 L376.3,235.7 L376.7,235.9 L377.2,236.0 L377.6,236.2 L378.0,236.4 L378.5,236.5 L378.9,236.6 L379.3,236.7 L379.8,236.8 L380.2,236.9 L380.6,237.0 L381.1,237.1 L381.5,237.2 L381.9,237.2 L382.4,237.3 L382.8,237.4 L383.2,237.4 L383.7,237.4 L384.1,237.5 L384.5,237.5 L385.0,237.5 L385.4,237.6 L385.8,237.6 L386.3,237.6 L386.7,237.6 L387.1,237.7 L387.6,237.7 L388.0,237.7 L388.4,237.7 L388.8,237.7 L389.3,237.7 L389.7,237.7 L390.1,237.7 L390.6,237.8 L391.0,237.8 L391.4,237.8 L391.9,237.8 L392.3,237.8 L392.7,237.8 L393.2,237.8 L393.6,237.8 L394.0,237.8 L394.5,237.8 L394.9,237.8 L395.3,237.8 L395.8,237.8 L396.2,237.8 L396.6,237.8 L397.1,237.8 L397.5,237.8 L397.9,237.8 L398.4,237.8 L398.8,237.8 L399.2,237.8 L399.7,237.8 L400.1,237.8 L400.5,237.8 L401.0,237.8 L401.4,237.8 L401.8,237.8 L402.3,237.8 L402.7,237.8 L403.1,237.8 L403.6,237.8 L404.0,237.8 L404.4,237.8 L404.9,237.8 L405.3,237.8 L405.7,237.8 L406.2,237.8 L406.6,237.8 L407.0,237.8 L407.5,237.8 L407.9,237.8 L408.3,237.8 L408.8,237.8 L409.2,237.8 L409.6,237.8 L410.1,237.8 L410.5,237.8 L410.9,237.8 L411.4,237.8 L411.8,237.8 L412.2,237.8 L412.7,237.8 L413.1,237.8 L413.5,237.8 L414.0,237.8 L414.4,237.8 L414.8,237.8 L415.3,237.8 L415.7,237.8 L416.1,237.8 L416.6,237.8 L417.0,237.8 L417.4,237.8 L417.9,237.8 L418.3,237.8 L418.7,237.8 L419.2,237.8 L419.6,237.8 L420.0,237.8 L420.5,237.8 L420.9,237.8 L421.3,237.8 L421.8,237.8 L422.2,237.8 L422.6,237.8 L423.1,237.8 L423.5,237.8 L423.9,237.8 L424.4,237.8 L424.8,237.8 L425.2,237.8 L425.7,237.8 L426.1,237.8 L426.5,237.8 L427.0,237.8 L427.4,237.8 L427.8,237.8 L428.3,237.8 L428.7,237.8 L429.1,237.8 L429.6,237.8 L430.0,237.8 L430.4,237.8 L430.9,237.8 L431.3,237.8 L431.7,237.8 L432.2,237.8 L432.6,237.8 L433.0,237.8 L433.5,237.8" stroke="#a9d07f" stroke-width="1.5" fill="none" stroke-linejoin="round" clip-path="url(#ce)"/>
<path d="M260.2,237.8 L260.7,237.8 L261.1,237.8 L261.5,237.8 L262.0,237.8 L262.4,237.8 L262.8,237.8 L263.3,237.8 L263.7,237.8 L264.1,237.8 L264.6,237.8 L265.0,237.8 L265.4,237.8 L265.9,237.8 L266.3,237.8 L266.7,237.8 L267.2,237.8 L267.6,237.8 L268.0,237.8 L268.5,237.8 L268.9,237.8 L269.3,237.8 L269.8,237.8 L270.2,237.8 L270.6,237.8 L271.1,237.8 L271.5,237.8 L271.9,237.8 L272.4,237.8 L272.8,237.8 L273.2,237.8 L273.7,237.8 L274.1,237.8 L274.5,237.8 L275.0,237.8 L275.4,237.8 L275.8,237.8 L276.3,237.8 L276.7,237.8 L277.1,237.8 L277.6,237.8 L278.0,237.8 L278.4,237.8 L278.9,237.8 L279.3,237.8 L279.7,237.8 L280.2,237.8 L280.6,237.8 L281.0,237.8 L281.5,237.8 L281.9,237.8 L282.3,237.8 L282.8,237.8 L283.2,237.8 L283.6,237.8 L284.1,237.8 L284.5,237.8 L284.9,237.8 L285.4,237.8 L285.8,237.8 L286.2,237.8 L286.7,237.8 L287.1,237.8 L287.5,237.8 L288.0,237.8 L288.4,237.8 L288.8,237.8 L289.3,237.8 L289.7,237.8 L290.1,237.8 L290.6,237.7 L291.0,237.7 L291.4,237.7 L291.9,237.7 L292.3,237.7 L292.7,237.7 L293.2,237.7 L293.6,237.7 L294.0,237.7 L294.5,237.7 L294.9,237.7 L295.3,237.7 L295.8,237.7 L296.2,237.7 L296.6,237.6 L297.1,237.6 L297.5,237.6 L297.9,237.6 L298.4,237.6 L298.8,237.6 L299.2,237.6 L299.6,237.5 L300.1,237.5 L300.5,237.5 L300.9,237.5 L301.4,237.4 L301.8,237.4 L302.2,237.4 L302.7,237.4 L303.1,237.3 L303.5,237.3 L304.0,237.2 L304.4,237.2 L304.8,237.2 L305.3,237.1 L305.7,237.1 L306.1,237.0 L306.6,237.0 L307.0,236.9 L307.4,236.8 L307.9,236.8 L308.3,236.7 L308.7,236.6 L309.2,236.5 L309.6,236.5 L310.0,236.4 L310.5,236.3 L310.9,236.2 L311.3,236.0 L311.8,235.9 L312.2,235.8 L312.6,235.7 L313.1,235.5 L313.5,235.4 L313.9,235.2 L314.4,235.1 L314.8,234.9 L315.2,234.7 L315.7,234.5 L316.1,234.3 L316.5,234.1 L317.0,233.9 L317.4,233.6 L317.8,233.4 L318.3,233.1 L318.7,232.8 L319.1,232.5 L319.6,232.2 L320.0,231.9 L320.4,231.5 L320.9,231.2 L321.3,230.8 L321.7,230.4 L322.2,229.9 L322.6,229.5 L323.0,229.0 L323.5,228.6 L323.9,228.1 L324.3,227.5 L324.8,227.0 L325.2,226.4 L325.6,225.8 L326.1,225.2 L326.5,224.5 L326.9,223.8 L327.4,223.1 L327.8,222.4 L328.2,221.6 L328.7,220.8 L329.1,220.0 L329.5,219.2 L330.0,218.3 L330.4,217.4 L330.8,216.4 L331.3,215.4 L331.7,214.4 L332.1,213.4 L332.6,212.3 L333.0,211.2 L333.4,210.0 L333.9,208.8 L334.3,207.6 L334.7,206.4 L335.2,205.1 L335.6,203.8 L336.0,202.5 L336.5,201.1 L336.9,199.7 L337.3,198.3 L337.8,196.9 L338.2,195.4 L338.6,193.9 L339.1,192.4 L339.5,190.9 L339.9,189.3 L340.4,187.8 L340.8,186.2 L341.2,184.6 L341.7,183.1 L342.1,181.5 L342.5,179.9 L343.0,178.4 L343.4,176.8 L343.8,175.3 L344.2,173.8 L344.7,172.3 L345.1,170.9 L345.5,169.5 L346.0,168.2 L346.4,166.9 L346.8,165.8 L347.3,164.7 L347.7,163.7 L348.1,162.9 L348.6,162.2 L349.0,161.8 L349.4,161.8 L349.9,162.1 L350.3,162.5 L350.7,163.1 L351.2,163.8 L351.6,164.7 L352.0,165.6 L352.5,166.7 L352.9,167.8 L353.3,169.1 L353.8,170.5 L354.2,171.9 L354.6,173.4 L355.1,175.0 L355.5,176.6 L355.9,178.3 L356.4,180.0 L356.8,181.8 L357.2,183.5 L357.7,185.3 L358.1,187.2 L358.5,189.0 L359.0,190.8 L359.4,192.6 L359.8,194.5 L360.3,196.3 L360.7,198.1 L361.1,199.8 L361.6,201.6 L362.0,203.3 L362.4,204.9 L362.9,206.6 L363.3,208.2 L363.7,209.7 L364.2,211.2 L364.6,212.7 L365.0,214.1 L365.5,215.4 L365.9,216.8 L366.3,218.0 L366.8,219.2 L367.2,220.4 L367.6,221.5 L368.1,222.6 L368.5,223.6 L368.9,224.5 L369.4,225.4 L369.8,226.3 L370.2,227.1 L370.7,227.9 L371.1,228.6 L371.5,229.3 L372.0,229.9 L372.4,230.6 L372.8,231.1 L373.3,231.6 L373.7,232.1 L374.1,232.6 L374.6,233.0 L375.0,233.4 L375.4,233.8 L375.9,234.2 L376.3,234.5 L376.7,234.8 L377.2,235.0 L377.6,235.3 L378.0,235.5 L378.5,235.7 L378.9,235.9 L379.3,236.1 L379.8,236.3 L380.2,236.4 L380.6,236.6 L381.1,236.7 L381.5,236.8 L381.9,236.9 L382.4,237.0 L382.8,237.1 L383.2,237.1 L383.7,237.2 L384.1,237.3 L384.5,237.3 L385.0,237.4 L385.4,237.4 L385.8,237.5 L386.3,237.5 L386.7,237.5 L387.1,237.6 L387.6,237.6 L388.0,237.6 L388.4,237.6 L388.8,237.7 L389.3,237.7 L389.7,237.7 L390.1,237.7 L390.6,237.7 L391.0,237.7 L391.4,237.7 L391.9,237.7 L392.3,237.8 L392.7,237.8 L393.2,237.8 L393.6,237.8 L394.0,237.8 L394.5,237.8 L394.9,237.8 L395.3,237.8 L395.8,237.8 L396.2,237.8 L396.6,237.8 L397.1,237.8 L397.5,237.8 L397.9,237.8 L398.4,237.8 L398.8,237.8 L399.2,237.8 L399.7,237.8 L400.1,237.8 L400.5,237.8 L401.0,237.8 L401.4,237.8 L401.8,237.8 L402.3,237.8 L402.7,237.8 L403.1,237.8 L403.6,237.8 L404.0,237.8 L404.4,237.8 L404.9,237.8 L405.3,237.8 L405.7,237.8 L406.2,237.8 L406.6,237.8 L407.0,237.8 L407.5,237.8 L407.9,237.8 L408.3,237.8 L408.8,237.8 L409.2,237.8 L409.6,237.8 L410.1,237.8 L410.5,237.8 L410.9,237.8 L411.4,237.8 L411.8,237.8 L412.2,237.8 L412.7,237.8 L413.1,237.8 L413.5,237.8 L414.0,237.8 L414.4,237.8 L414.8,237.8 L415.3,237.8 L415.7,237.8 L416.1,237.8 L416.6,237.8 L417.0,237.8 L417.4,237.8 L417.9,237.8 L418.3,237.8 L418.7,237.8 L419.2,237.8 L419.6,237.8 L420.0,237.8 L420.5,237.8 L420.9,237.8 L421.3,237.8 L421.8,237.8 L422.2,237.8 L422.6,237.8 L423.1,237.8 L423.5,237.8 L423.9,237.8 L424.4,237.8 L424.8,237.8 L425.2,237.8 L425.7,237.8 L426.1,237.8 L426.5,237.8 L427.0,237.8 L427.4,237.8 L427.8,237.8 L428.3,237.8 L428.7,237.8 L429.1,237.8 L429.6,237.8 L430.0,237.8 L430.4,237.8 L430.9,237.8 L431.3,237.8 L431.7,237.8 L432.2,237.8 L432.6,237.8 L433.0,237.8 L433.5,237.8" stroke="#6db544" stroke-width="1.5" fill="none" stroke-linejoin="round" clip-path="url(#ce)"/>
<path d="M260.2,237.8 L260.7,237.8 L261.1,237.8 L261.5,237.8 L262.0,237.8 L262.4,237.8 L262.8,237.8 L263.3,237.8 L263.7,237.8 L264.1,237.8 L264.6,237.8 L265.0,237.8 L265.4,237.7 L265.9,237.7 L266.3,237.7 L266.7,237.7 L267.2,237.7 L267.6,237.7 L268.0,237.7 L268.5,237.7 L268.9,237.7 L269.3,237.7 L269.8,237.7 L270.2,237.7 L270.6,237.7 L271.1,237.6 L271.5,237.6 L271.9,237.6 L272.4,237.6 L272.8,237.6 L273.2,237.6 L273.7,237.5 L274.1,237.5 L274.5,237.5 L275.0,237.5 L275.4,237.5 L275.8,237.4 L276.3,237.4 L276.7,237.4 L277.1,237.3 L277.6,237.3 L278.0,237.3 L278.4,237.2 L278.9,237.2 L279.3,237.1 L279.7,237.1 L280.2,237.0 L280.6,237.0 L281.0,236.9 L281.5,236.8 L281.9,236.8 L282.3,236.7 L282.8,236.6 L283.2,236.6 L283.6,236.5 L284.1,236.4 L284.5,236.3 L284.9,236.2 L285.4,236.1 L285.8,236.0 L286.2,235.8 L286.7,235.7 L287.1,235.6 L287.5,235.4 L288.0,235.3 L288.4,235.1 L288.8,234.9 L289.3,234.8 L289.7,234.6 L290.1,234.4 L290.6,234.2 L291.0,234.0 L291.4,233.7 L291.9,233.5 L292.3,233.2 L292.7,233.0 L293.2,232.7 L293.6,232.4 L294.0,232.1 L294.5,231.8 L294.9,231.5 L295.3,231.1 L295.8,230.8 L296.2,230.4 L296.6,230.0 L297.1,229.6 L297.5,229.2 L297.9,228.8 L298.4,228.3 L298.8,227.8 L299.2,227.3 L299.6,226.8 L300.1,226.3 L300.5,225.8 L300.9,225.2 L301.4,224.6 L301.8,224.0 L302.2,223.4 L302.7,222.7 L303.1,222.1 L303.5,221.4 L304.0,220.7 L304.4,220.0 L304.8,219.2 L305.3,218.5 L305.7,217.7 L306.1,216.9 L306.6,216.1 L307.0,215.2 L307.4,214.4 L307.9,213.5 L308.3,212.6 L308.7,211.7 L309.2,210.8 L309.6,209.8 L310.0,208.9 L310.5,207.9 L310.9,206.9 L311.3,205.9 L311.8,204.9 L312.2,203.9 L312.6,202.9 L313.1,201.9 L313.5,200.8 L313.9,199.8 L314.4,198.7 L314.8,197.7 L315.2,196.6 L315.7,195.6 L316.1,194.5 L316.5,193.5 L317.0,192.4 L317.4,191.4 L317.8,190.4 L318.3,189.4 L318.7,188.4 L319.1,187.4 L319.6,186.5 L320.0,185.5 L320.4,184.6 L320.9,183.7 L321.3,182.9 L321.7,182.0 L322.2,181.2 L322.6,180.5 L323.0,179.8 L323.5,179.1 L323.9,178.5 L324.3,177.9 L324.8,177.3 L325.2,176.9 L325.6,176.4 L326.1,176.1 L326.5,175.8 L326.9,175.6 L327.4,175.5 L327.8,175.5 L328.2,175.8 L328.7,176.2 L329.1,176.7 L329.5,177.3 L330.0,177.9 L330.4,178.5 L330.8,179.3 L331.3,180.0 L331.7,180.8 L332.1,181.6 L332.6,182.4 L333.0,183.3 L333.4,184.2 L333.9,185.1 L334.3,186.0 L334.7,187.0 L335.2,187.9 L335.6,188.9 L336.0,189.8 L336.5,190.8 L336.9,191.7 L337.3,192.7 L337.8,193.7 L338.2,194.7 L338.6,195.6 L339.1,196.6 L339.5,197.6 L339.9,198.5 L340.4,199.5 L340.8,200.4 L341.2,201.3 L341.7,202.3 L342.1,203.2 L342.5,204.1 L343.0,205.0 L343.4,205.9 L343.8,206.7 L344.2,207.6 L344.7,208.4 L345.1,209.3 L345.5,210.1 L346.0,210.9 L346.4,211.7 L346.8,212.4 L347.3,213.2 L347.7,214.0 L348.1,214.7 L348.6,215.4 L349.0,216.1 L349.4,216.8 L349.9,217.5 L350.3,218.1 L350.7,218.8 L351.2,219.4 L351.6,220.0 L352.0,220.6 L352.5,221.2 L352.9,221.7 L353.3,222.3 L353.8,222.8 L354.2,223.3 L354.6,223.8 L355.1,224.3 L355.5,224.8 L355.9,225.3 L356.4,225.7 L356.8,226.2 L357.2,226.6 L357.7,227.0 L358.1,227.4 L358.5,227.8 L359.0,228.2 L359.4,228.6 L359.8,228.9 L360.3,229.3 L360.7,229.6 L361.1,229.9 L361.6,230.2 L362.0,230.5 L362.4,230.8 L362.9,231.1 L363.3,231.4 L363.7,231.6 L364.2,231.9 L364.6,232.1 L365.0,232.3 L365.5,232.6 L365.9,232.8 L366.3,233.0 L366.8,233.2 L367.2,233.4 L367.6,233.6 L368.1,233.8 L368.5,233.9 L368.9,234.1 L369.4,234.3 L369.8,234.4 L370.2,234.6 L370.7,234.7 L371.1,234.8 L371.5,235.0 L372.0,235.1 L372.4,235.2 L372.8,235.3 L373.3,235.5 L373.7,235.6 L374.1,235.7 L374.6,235.8 L375.0,235.9 L375.4,235.9 L375.9,236.0 L376.3,236.1 L376.7,236.2 L377.2,236.3 L377.6,236.3 L378.0,236.4 L378.5,236.5 L378.9,236.5 L379.3,236.6 L379.8,236.7 L380.2,236.7 L380.6,236.8 L381.1,236.8 L381.5,236.9 L381.9,236.9 L382.4,237.0 L382.8,237.0 L383.2,237.0 L383.7,237.1 L384.1,237.1 L384.5,237.2 L385.0,237.2 L385.4,237.2 L385.8,237.2 L386.3,237.3 L386.7,237.3 L387.1,237.3 L387.6,237.4 L388.0,237.4 L388.4,237.4 L388.8,237.4 L389.3,237.4 L389.7,237.5 L390.1,237.5 L390.6,237.5 L391.0,237.5 L391.4,237.5 L391.9,237.5 L392.3,237.6 L392.7,237.6 L393.2,237.6 L393.6,237.6 L394.0,237.6 L394.5,237.6 L394.9,237.6 L395.3,237.6 L395.8,237.6 L396.2,237.7 L396.6,237.7 L397.1,237.7 L397.5,237.7 L397.9,237.7 L398.4,237.7 L398.8,237.7 L399.2,237.7 L399.7,237.7 L400.1,237.7 L400.5,237.7 L401.0,237.7 L401.4,237.7 L401.8,237.7 L402.3,237.7 L402.7,237.7 L403.1,237.7 L403.6,237.7 L404.0,237.7 L404.4,237.8 L404.9,237.8 L405.3,237.8 L405.7,237.8 L406.2,237.8 L406.6,237.8 L407.0,237.8 L407.5,237.8 L407.9,237.8 L408.3,237.8 L408.8,237.8 L409.2,237.8 L409.6,237.8 L410.1,237.8 L410.5,237.8 L410.9,237.8 L411.4,237.8 L411.8,237.8 L412.2,237.8 L412.7,237.8 L413.1,237.8 L413.5,237.8 L414.0,237.8 L414.4,237.8 L414.8,237.8 L415.3,237.8 L415.7,237.8 L416.1,237.8 L416.6,237.8 L417.0,237.8 L417.4,237.8 L417.9,237.8 L418.3,237.8 L418.7,237.8 L419.2,237.8 L419.6,237.8 L420.0,237.8 L420.5,237.8 L420.9,237.8 L421.3,237.8 L421.8,237.8 L422.2,237.8 L422.6,237.8 L423.1,237.8 L423.5,237.8 L423.9,237.8 L424.4,237.8 L424.8,237.8 L425.2,237.8 L425.7,237.8 L426.1,237.8 L426.5,237.8 L427.0,237.8 L427.4,237.8 L427.8,237.8 L428.3,237.8 L428.7,237.8 L429.1,237.8 L429.6,237.8 L430.0,237.8 L430.4,237.8 L430.9,237.8 L431.3,237.8 L431.7,237.8 L432.2,237.8 L432.6,237.8 L433.0,237.8 L433.5,237.8" stroke="#000000" stroke-width="1.5" fill="none" stroke-linejoin="round" clip-path="url(#ce)"/>
<path d="M260.2,237.8 L260.7,237.8 L261.1,237.8 L261.5,237.8 L262.0,237.8 L262.4,237.8 L262.8,237.8 L263.3,237.8 L263.7,237.8 L264.1,237.8 L264.6,237.8 L265.0,237.8 L265.4,237.8 L265.9,237.8 L266.3,237.8 L266.7,237.8 L267.2,237.8 L267.6,237.8 L268.0,237.8 L268.5,237.8 L268.9,237.8 L269.3,237.8 L269.8,237.8 L270.2,237.8 L270.6,237.8 L271.1,237.8 L271.5,237.8 L271.9,237.8 L272.4,237.8 L272.8,237.8 L273.2,237.8 L273.7,237.8 L274.1,237.8 L274.5,237.8 L275.0,237.8 L275.4,237.8 L275.8,237.8 L276.3,237.8 L276.7,237.8 L277.1,237.8 L277.6,237.8 L278.0,237.8 L278.4,237.8 L278.9,237.8 L279.3,237.8 L279.7,237.8 L280.2,237.8 L280.6,237.8 L281.0,237.8 L281.5,237.8 L281.9,237.8 L282.3,237.8 L282.8,237.8 L283.2,237.8 L283.6,237.8 L284.1,237.8 L284.5,237.8 L284.9,237.8 L285.4,237.8 L285.8,237.8 L286.2,237.8 L286.7,237.8 L287.1,237.8 L287.5,237.8 L288.0,237.8 L288.4,237.8 L288.8,237.8 L289.3,237.8 L289.7,237.8 L290.1,237.8 L290.6,237.8 L291.0,237.8 L291.4,237.8 L291.9,237.8 L292.3,237.8 L292.7,237.8 L293.2,237.8 L293.6,237.8 L294.0,237.8 L294.5,237.8 L294.9,237.8 L295.3,237.8 L295.8,237.8 L296.2,237.8 L296.6,237.8 L297.1,237.8 L297.5,237.8 L297.9,237.8 L298.4,237.8 L298.8,237.8 L299.2,237.8 L299.6,237.8 L300.1,237.8 L300.5,237.8 L300.9,237.8 L301.4,237.8 L301.8,237.8 L302.2,237.8 L302.7,237.8 L303.1,237.8 L303.5,237.8 L304.0,237.8 L304.4,237.8 L304.8,237.8 L305.3,237.8 L305.7,237.8 L306.1,237.8 L306.6,237.8 L307.0,237.8 L307.4,237.8 L307.9,237.8 L308.3,237.8 L308.7,237.8 L309.2,237.8 L309.6,237.8 L310.0,237.8 L310.5,237.8 L310.9,237.8 L311.3,237.8 L311.8,237.8 L312.2,237.8 L312.6,237.8 L313.1,237.8 L313.5,237.8 L313.9,237.8 L314.4,237.8 L314.8,237.8 L315.2,237.8 L315.7,237.8 L316.1,237.8 L316.5,237.8 L317.0,237.8 L317.4,237.8 L317.8,237.8 L318.3,237.8 L318.7,237.8 L319.1,237.8 L319.6,237.8 L320.0,237.8 L320.4,237.8 L320.9,237.8 L321.3,237.8 L321.7,237.8 L322.2,237.8 L322.6,237.8 L323.0,237.8 L323.5,237.8 L323.9,237.8 L324.3,237.8 L324.8,237.8 L325.2,237.8 L325.6,237.8 L326.1,237.8 L326.5,237.8 L326.9,237.8 L327.4,237.8 L327.8,237.8 L328.2,237.8 L328.7,237.8 L329.1,237.8 L329.5,237.8 L330.0,237.8 L330.4,237.7 L330.8,237.7 L331.3,237.7 L331.7,237.7 L332.1,237.7 L332.6,237.7 L333.0,237.7 L333.4,237.7 L333.9,237.7 L334.3,237.7 L334.7,237.7 L335.2,237.6 L335.6,237.6 L336.0,237.6 L336.5,237.6 L336.9,237.6 L337.3,237.6 L337.8,237.5 L338.2,237.5 L338.6,237.5 L339.1,237.4 L339.5,237.4 L339.9,237.4 L340.4,237.3 L340.8,237.3 L341.2,237.2 L341.7,237.2 L342.1,237.1 L342.5,237.1 L343.0,237.0 L343.4,236.9 L343.8,236.8 L344.2,236.7 L344.7,236.7 L345.1,236.6 L345.5,236.4 L346.0,236.3 L346.4,236.2 L346.8,236.1 L347.3,235.9 L347.7,235.7 L348.1,235.6 L348.6,235.4 L349.0,235.2 L349.4,234.9 L349.9,234.7 L350.3,234.4 L350.7,234.2 L351.2,233.9 L351.6,233.6 L352.0,233.2 L352.5,232.8 L352.9,232.5 L353.3,232.0 L353.8,231.6 L354.2,231.1 L354.6,230.6 L355.1,230.0 L355.5,229.5 L355.9,228.8 L356.4,228.2 L356.8,227.5 L357.2,226.7 L357.7,225.9 L358.1,225.1 L358.5,224.2 L359.0,223.2 L359.4,222.2 L359.8,221.1 L360.3,220.0 L360.7,218.8 L361.1,217.5 L361.6,216.2 L362.0,214.8 L362.4,213.4 L362.9,211.8 L363.3,210.2 L363.7,208.5 L364.2,206.7 L364.6,204.9 L365.0,203.0 L365.5,201.0 L365.9,198.9 L366.3,196.7 L366.8,194.5 L367.2,192.1 L367.6,189.7 L368.1,187.3 L368.5,184.7 L368.9,182.1 L369.4,179.4 L369.8,176.7 L370.2,173.9 L370.7,171.1 L371.1,168.3 L371.5,165.4 L372.0,162.6 L372.4,159.7 L372.8,156.9 L373.3,154.1 L373.7,151.5 L374.1,148.9 L374.6,146.5 L375.0,144.3 L375.4,142.4 L375.9,141.0 L376.3,140.6 L376.7,140.8 L377.2,141.1 L377.6,141.8 L378.0,142.7 L378.5,144.0 L378.9,145.6 L379.3,147.5 L379.8,149.8 L380.2,152.4 L380.6,155.4 L381.1,158.6 L381.5,162.1 L381.9,165.8 L382.4,169.7 L382.8,173.8 L383.2,177.9 L383.7,182.2 L384.1,186.4 L384.5,190.6 L385.0,194.8 L385.4,198.8 L385.8,202.7 L386.3,206.4 L386.7,209.9 L387.1,213.2 L387.6,216.2 L388.0,219.1 L388.4,221.6 L388.8,223.9 L389.3,226.0 L389.7,227.8 L390.1,229.5 L390.6,230.9 L391.0,232.1 L391.4,233.1 L391.9,234.0 L392.3,234.7 L392.7,235.4 L393.2,235.9 L393.6,236.3 L394.0,236.6 L394.5,236.9 L394.9,237.1 L395.3,237.3 L395.8,237.4 L396.2,237.5 L396.6,237.6 L397.1,237.6 L397.5,237.7 L397.9,237.7 L398.4,237.7 L398.8,237.8 L399.2,237.8 L399.7,237.8 L400.1,237.8 L400.5,237.8 L401.0,237.8 L401.4,237.8 L401.8,237.8 L402.3,237.8 L402.7,237.8 L403.1,237.8 L403.6,237.8 L404.0,237.8 L404.4,237.8 L404.9,237.8 L405.3,237.8 L405.7,237.8 L406.2,237.8 L406.6,237.8 L407.0,237.8 L407.5,237.8 L407.9,237.8 L408.3,237.8 L408.8,237.8 L409.2,237.8 L409.6,237.8 L410.1,237.8 L410.5,237.8 L410.9,237.8 L411.4,237.8 L411.8,237.8 L412.2,237.8 L412.7,237.8 L413.1,237.8 L413.5,237.8 L414.0,237.8 L414.4,237.8 L414.8,237.8 L415.3,237.8 L415.7,237.8 L416.1,237.8 L416.6,237.8 L417.0,237.8 L417.4,237.8 L417.9,237.8 L418.3,237.8 L418.7,237.8 L419.2,237.8 L419.6,237.8 L420.0,237.8 L420.5,237.8 L420.9,237.8 L421.3,237.8 L421.8,237.8 L422.2,237.8 L422.6,237.8 L423.1,237.8 L423.5,237.8 L423.9,237.8 L424.4,237.8 L424.8,237.8 L425.2,237.8 L425.7,237.8 L426.1,237.8 L426.5,237.8 L427.0,237.8 L427.4,237.8 L427.8,237.8 L428.3,237.8 L428.7,237.8 L429.1,237.8 L429.6,237.8 L430.0,237.8 L430.4,237.8 L430.9,237.8 L431.3,237.8 L431.7,237.8 L432.2,237.8 L432.6,237.8 L433.0,237.8 L433.5,237.8" stroke="#4a8c3a" stroke-width="1.5" fill="none" stroke-linejoin="round" clip-path="url(#ce)"/>
<path d="M260.2,237.8 L260.7,237.8 L261.1,237.8 L261.5,237.8 L262.0,237.8 L262.4,237.8 L262.8,237.8 L263.3,237.8 L263.7,237.8 L264.1,237.8 L264.6,237.8 L265.0,237.8 L265.4,237.8 L265.9,237.8 L266.3,237.8 L266.7,237.8 L267.2,237.8 L267.6,237.8 L268.0,237.8 L268.5,237.8 L268.9,237.8 L269.3,237.8 L269.8,237.8 L270.2,237.8 L270.6,237.8 L271.1,237.8 L271.5,237.8 L271.9,237.8 L272.4,237.8 L272.8,237.8 L273.2,237.8 L273.7,237.8 L274.1,237.8 L274.5,237.8 L275.0,237.8 L275.4,237.8 L275.8,237.8 L276.3,237.8 L276.7,237.8 L277.1,237.8 L277.6,237.8 L278.0,237.8 L278.4,237.8 L278.9,237.8 L279.3,237.8 L279.7,237.8 L280.2,237.8 L280.6,237.8 L281.0,237.8 L281.5,237.8 L281.9,237.8 L282.3,237.8 L282.8,237.8 L283.2,237.8 L283.6,237.8 L284.1,237.8 L284.5,237.8 L284.9,237.8 L285.4,237.8 L285.8,237.8 L286.2,237.8 L286.7,237.8 L287.1,237.8 L287.5,237.8 L288.0,237.8 L288.4,237.8 L288.8,237.8 L289.3,237.8 L289.7,237.8 L290.1,237.8 L290.6,237.8 L291.0,237.8 L291.4,237.8 L291.9,237.8 L292.3,237.8 L292.7,237.8 L293.2,237.8 L293.6,237.8 L294.0,237.8 L294.5,237.8 L294.9,237.8 L295.3,237.8 L295.8,237.8 L296.2,237.8 L296.6,237.8 L297.1,237.8 L297.5,237.8 L297.9,237.8 L298.4,237.8 L298.8,237.8 L299.2,237.8 L299.6,237.8 L300.1,237.8 L300.5,237.8 L300.9,237.8 L301.4,237.8 L301.8,237.8 L302.2,237.8 L302.7,237.8 L303.1,237.8 L303.5,237.8 L304.0,237.8 L304.4,237.8 L304.8,237.8 L305.3,237.8 L305.7,237.8 L306.1,237.8 L306.6,237.8 L307.0,237.8 L307.4,237.8 L307.9,237.8 L308.3,237.8 L308.7,237.8 L309.2,237.8 L309.6,237.8 L310.0,237.8 L310.5,237.8 L310.9,237.8 L311.3,237.8 L311.8,237.8 L312.2,237.8 L312.6,237.8 L313.1,237.8 L313.5,237.8 L313.9,237.8 L314.4,237.8 L314.8,237.8 L315.2,237.8 L315.7,237.8 L316.1,237.8 L316.5,237.8 L317.0,237.8 L317.4,237.8 L317.8,237.8 L318.3,237.8 L318.7,237.8 L319.1,237.8 L319.6,237.8 L320.0,237.8 L320.4,237.8 L320.9,237.8 L321.3,237.8 L321.7,237.8 L322.2,237.8 L322.6,237.8 L323.0,237.8 L323.5,237.8 L323.9,237.8 L324.3,237.8 L324.8,237.8 L325.2,237.8 L325.6,237.8 L326.1,237.8 L326.5,237.8 L326.9,237.8 L327.4,237.8 L327.8,237.8 L328.2,237.8 L328.7,237.8 L329.1,237.8 L329.5,237.8 L330.0,237.8 L330.4,237.8 L330.8,237.8 L331.3,237.8 L331.7,237.8 L332.1,237.8 L332.6,237.8 L333.0,237.8 L333.4,237.8 L333.9,237.8 L334.3,237.8 L334.7,237.8 L335.2,237.8 L335.6,237.8 L336.0,237.8 L336.5,237.8 L336.9,237.8 L337.3,237.8 L337.8,237.8 L338.2,237.8 L338.6,237.8 L339.1,237.8 L339.5,237.8 L339.9,237.8 L340.4,237.8 L340.8,237.8 L341.2,237.8 L341.7,237.8 L342.1,237.8 L342.5,237.8 L343.0,237.8 L343.4,237.8 L343.8,237.8 L344.2,237.8 L344.7,237.8 L345.1,237.8 L345.5,237.7 L346.0,237.7 L346.4,237.7 L346.8,237.7 L347.3,237.7 L347.7,237.7 L348.1,237.7 L348.6,237.7 L349.0,237.6 L349.4,237.6 L349.9,237.6 L350.3,237.6 L350.7,237.6 L351.2,237.5 L351.6,237.5 L352.0,237.4 L352.5,237.4 L352.9,237.3 L353.3,237.3 L353.8,237.2 L354.2,237.2 L354.6,237.1 L355.1,237.0 L355.5,236.9 L355.9,236.8 L356.4,236.7 L356.8,236.6 L357.2,236.4 L357.7,236.3 L358.1,236.1 L358.5,235.9 L359.0,235.7 L359.4,235.5 L359.8,235.2 L360.3,234.9 L360.7,234.6 L361.1,234.3 L361.6,234.0 L362.0,233.6 L362.4,233.2 L362.9,232.7 L363.3,232.2 L363.7,231.7 L364.2,231.1 L364.6,230.5 L365.0,229.8 L365.5,229.0 L365.9,228.3 L366.3,227.4 L366.8,226.5 L367.2,225.5 L367.6,224.5 L368.1,223.4 L368.5,222.2 L368.9,220.9 L369.4,219.6 L369.8,218.2 L370.2,216.6 L370.7,215.1 L371.1,213.4 L371.5,211.6 L372.0,209.7 L372.4,207.8 L372.8,205.7 L373.3,203.6 L373.7,201.3 L374.1,199.0 L374.6,196.6 L375.0,194.1 L375.4,191.5 L375.9,188.8 L376.3,186.1 L376.7,183.3 L377.2,180.4 L377.6,177.5 L378.0,174.5 L378.5,171.6 L378.9,168.6 L379.3,165.5 L379.8,162.5 L380.2,159.6 L380.6,156.6 L381.1,153.8 L381.5,151.0 L381.9,148.3 L382.4,145.8 L382.8,143.5 L383.2,141.3 L383.7,139.4 L384.1,137.8 L384.5,136.5 L385.0,135.7 L385.4,135.7 L385.8,135.8 L386.3,136.1 L386.7,136.8 L387.1,137.8 L387.6,139.2 L388.0,141.0 L388.4,143.2 L388.8,145.9 L389.3,149.0 L389.7,152.6 L390.1,156.5 L390.6,160.8 L391.0,165.4 L391.4,170.3 L391.9,175.3 L392.3,180.5 L392.7,185.6 L393.2,190.7 L393.6,195.7 L394.0,200.6 L394.5,205.2 L394.9,209.5 L395.3,213.5 L395.8,217.2 L396.2,220.4 L396.6,223.4 L397.1,226.0 L397.5,228.2 L397.9,230.1 L398.4,231.7 L398.8,233.0 L399.2,234.1 L399.7,235.0 L400.1,235.7 L400.5,236.2 L401.0,236.6 L401.4,237.0 L401.8,237.2 L402.3,237.4 L402.7,237.5 L403.1,237.6 L403.6,237.7 L404.0,237.7 L404.4,237.7 L404.9,237.8 L405.3,237.8 L405.7,237.8 L406.2,237.8 L406.6,237.8 L407.0,237.8 L407.5,237.8 L407.9,237.8 L408.3,237.8 L408.8,237.8 L409.2,237.8 L409.6,237.8 L410.1,237.8 L410.5,237.8 L410.9,237.8 L411.4,237.8 L411.8,237.8 L412.2,237.8 L412.7,237.8 L413.1,237.8 L413.5,237.8 L414.0,237.8 L414.4,237.8 L414.8,237.8 L415.3,237.8 L415.7,237.8 L416.1,237.8 L416.6,237.8 L417.0,237.8 L417.4,237.8 L417.9,237.8 L418.3,237.8 L418.7,237.8 L419.2,237.8 L419.6,237.8 L420.0,237.8 L420.5,237.8 L420.9,237.8 L421.3,237.8 L421.8,237.8 L422.2,237.8 L422.6,237.8 L423.1,237.8 L423.5,237.8 L423.9,237.8 L424.4,237.8 L424.8,237.8 L425.2,237.8 L425.7,237.8 L426.1,237.8 L426.5,237.8 L427.0,237.8 L427.4,237.8 L427.8,237.8 L428.3,237.8 L428.7,237.8 L429.1,237.8 L429.6,237.8 L430.0,237.8 L430.4,237.8 L430.9,237.8 L431.3,237.8 L431.7,237.8 L432.2,237.8 L432.6,237.8 L433.0,237.8 L433.5,237.8" stroke="#2b5e22" stroke-width="1.5" fill="none" stroke-linejoin="round" clip-path="url(#ce)"/>
<line x1="405.40" y1="149.60" x2="414.70" y2="149.60" stroke="#333" stroke-width="1.3" />
<text x="418.00" y="151.84" font-size="6.6" text-anchor="start" fill="#222" font-weight="normal" font-style="normal" font-family="Liberation Sans" stroke="#222" stroke-width="0.12" >Open-loop</text>
<line x1="405.40" y1="160.20" x2="414.70" y2="160.20" stroke="#d6e6b6" stroke-width="1.3" />
<text x="418.00" y="162.44" font-size="6.6" text-anchor="start" fill="#222" font-weight="normal" font-style="normal" font-family="Liberation Sans" stroke="#222" stroke-width="0.12" >top99%</text>
<line x1="405.40" y1="172.20" x2="414.70" y2="172.20" stroke="#a9d07f" stroke-width="1.3" />
<text x="418.00" y="174.44" font-size="6.6" text-anchor="start" fill="#222" font-weight="normal" font-style="normal" font-family="Liberation Sans" stroke="#222" stroke-width="0.12" >top50%</text>
<line x1="405.40" y1="184.10" x2="414.70" y2="184.10" stroke="#6db544" stroke-width="1.3" />
<text x="418.00" y="186.34" font-size="6.6" text-anchor="start" fill="#222" font-weight="normal" font-style="normal" font-family="Liberation Sans" stroke="#222" stroke-width="0.12" >top1%</text>
<line x1="405.40" y1="196.10" x2="414.70" y2="196.10" stroke="#4a8c3a" stroke-width="1.3" />
<text x="418.00" y="198.34" font-size="6.6" text-anchor="start" fill="#222" font-weight="normal" font-style="normal" font-family="Liberation Sans" stroke="#222" stroke-width="0.12" >10xMean</text>
<line x1="405.40" y1="207.70" x2="414.70" y2="207.70" stroke="#2b5e22" stroke-width="1.3" />
<text x="418.00" y="209.94" font-size="6.6" text-anchor="start" fill="#222" font-weight="normal" font-style="normal" font-family="Liberation Sans" stroke="#222" stroke-width="0.12" >20xMean</text>
<text x="470.00" y="134.90" font-size="9" text-anchor="start" fill="#000" font-weight="bold" font-style="normal" font-family="Liberation Sans" >f.</text>
<line x1="497.50" y1="236.10" x2="661.80" y2="236.10" stroke="#888" stroke-width="0.7" />
<line x1="497.50" y1="236.10" x2="497.50" y2="136.75" stroke="#888" stroke-width="0.7" />
<line x1="530.36" y1="236.10" x2="530.36" y2="233.50" stroke="#888" stroke-width="0.6" />
<text x="530.36" y="244.60" font-size="7.5" text-anchor="middle" fill="#222" font-weight="normal" font-style="normal" font-family="Liberation Sans" stroke="#222" stroke-width="0.12" >2</text>
<line x1="563.22" y1="236.10" x2="563.22" y2="233.50" stroke="#888" stroke-width="0.6" />
<text x="563.22" y="244.60" font-size="7.5" text-anchor="middle" fill="#222" font-weight="normal" font-style="normal" font-family="Liberation Sans" stroke="#222" stroke-width="0.12" >4</text>
<line x1="596.08" y1="236.10" x2="596.08" y2="233.50" stroke="#888" stroke-width="0.6" />
<text x="596.08" y="244.60" font-size="7.5" text-anchor="middle" fill="#222" font-weight="normal" font-style="normal" font-family="Liberation Sans" stroke="#222" stroke-width="0.12" >6</text>
<line x1="628.94" y1="236.10" x2="628.94" y2="233.50" stroke="#888" stroke-width="0.6" />
<text x="628.94" y="244.60" font-size="7.5" text-anchor="middle" fill="#222" font-weight="normal" font-style="normal" font-family="Liberation Sans" stroke="#222" stroke-width="0.12" >8</text>
<line x1="661.80" y1="236.10" x2="661.80" y2="233.50" stroke="#888" stroke-width="0.6" />
<text x="661.80" y="244.60" font-size="7.5" text-anchor="middle" fill="#222" font-weight="normal" font-style="normal" font-family="Liberation Sans" stroke="#222" stroke-width="0.12" >10</text>
<line x1="505.71" y1="236.10" x2="505.71" y2="234.70" stroke="#888" stroke-width="0.5" />
<line x1="513.93" y1="236.10" x2="513.93" y2="234.70" stroke="#888" stroke-width="0.5" />
<line x1="522.14" y1="236.10" x2="522.14" y2="234.70" stroke="#888" stroke-width="0.5" />
<line x1="538.58" y1="236.10" x2="538.58" y2="234.70" stroke="#888" stroke-width="0.5" />
<line x1="546.79" y1="236.10" x2="546.79" y2="234.70" stroke="#888" stroke-width="0.5" />
<line x1="555.00" y1="236.10" x2="555.00" y2="234.70" stroke="#888" stroke-width="0.5" />
<line x1="571.43" y1="236.10" x2="571.43" y2="234.70" stroke="#888" stroke-width="0.5" />
<line x1="579.65" y1="236.10" x2="579.65" y2="234.70" stroke="#888" stroke-width="0.5" />
<line x1="587.87" y1="236.10" x2="587.87" y2="234.70" stroke="#888" stroke-width="0.5" />
<line x1="604.29" y1="236.10" x2="604.29" y2="234.70" stroke="#888" stroke-width="0.5" />
<line x1="612.51" y1="236.10" x2="612.51" y2="234.70" stroke="#888" stroke-width="0.5" />
<line x1="620.72" y1="236.10" x2="620.72" y2="234.70" stroke="#888" stroke-width="0.5" />
<line x1="637.15" y1="236.10" x2="637.15" y2="234.70" stroke="#888" stroke-width="0.5" />
<line x1="645.37" y1="236.10" x2="645.37" y2="234.70" stroke="#888" stroke-width="0.5" />
<line x1="653.58" y1="236.10" x2="653.58" y2="234.70" stroke="#888" stroke-width="0.5" />
<line x1="497.50" y1="236.10" x2="500.10" y2="236.10" stroke="#888" stroke-width="0.6" />
<text x="495.40" y="238.60" font-size="7.5" text-anchor="end" fill="#222" font-weight="normal" font-style="normal" font-family="Liberation Sans" stroke="#222" stroke-width="0.12" >0.0</text>
<line x1="497.50" y1="216.62" x2="500.10" y2="216.62" stroke="#888" stroke-width="0.6" />
<text x="495.40" y="219.12" font-size="7.5" text-anchor="end" fill="#222" font-weight="normal" font-style="normal" font-family="Liberation Sans" stroke="#222" stroke-width="0.12" >0.2</text>
<line x1="497.50" y1="197.14" x2="500.10" y2="197.14" stroke="#888" stroke-width="0.6" />
<text x="495.40" y="199.64" font-size="7.5" text-anchor="end" fill="#222" font-weight="normal" font-style="normal" font-family="Liberation Sans" stroke="#222" stroke-width="0.12" >0.4</text>
<line x1="497.50" y1="177.66" x2="500.10" y2="177.66" stroke="#888" stroke-width="0.6" />
<text x="495.40" y="180.16" font-size="7.5" text-anchor="end" fill="#222" font-weight="normal" font-style="normal" font-family="Liberation Sans" stroke="#222" stroke-width="0.12" >0.6</text>
<line x1="497.50" y1="158.18" x2="500.10" y2="158.18" stroke="#888" stroke-width="0.6" />
<text x="495.40" y="160.68" font-size="7.5" text-anchor="end" fill="#222" font-weight="normal" font-style="normal" font-family="Liberation Sans" stroke="#222" stroke-width="0.12" >0.8</text>
<line x1="497.50" y1="138.70" x2="500.10" y2="138.70" stroke="#888" stroke-width="0.6" />
<text x="495.40" y="141.20" font-size="7.5" text-anchor="end" fill="#222" font-weight="normal" font-style="normal" font-family="Liberation Sans" stroke="#222" stroke-width="0.12" >1.0</text>
<line x1="497.50" y1="231.23" x2="498.90" y2="231.23" stroke="#888" stroke-width="0.5" />
<line x1="497.50" y1="226.36" x2="498.90" y2="226.36" stroke="#888" stroke-width="0.5" />
<line x1="497.50" y1="221.49" x2="498.90" y2="221.49" stroke="#888" stroke-width="0.5" />
<line x1="497.50" y1="211.75" x2="498.90" y2="211.75" stroke="#888" stroke-width="0.5" />
<line x1="497.50" y1="206.88" x2="498.90" y2="206.88" stroke="#888" stroke-width="0.5" />
<line x1="497.50" y1="202.01" x2="498.90" y2="202.01" stroke="#888" stroke-width="0.5" />
<line x1="497.50" y1="192.27" x2="498.90" y2="192.27" stroke="#888" stroke-width="0.5" />
<line x1="497.50" y1="187.40" x2="498.90" y2="187.40" stroke="#888" stroke-width="0.5" />
<line x1="497.50" y1="182.53" x2="498.90" y2="182.53" stroke="#888" stroke-width="0.5" />
<line x1="497.50" y1="172.79" x2="498.90" y2="172.79" stroke="#888" stroke-width="0.5" />
<line x1="497.50" y1="167.92" x2="498.90" y2="167.92" stroke="#888" stroke-width="0.5" />
<line x1="497.50" y1="163.05" x2="498.90" y2="163.05" stroke="#888" stroke-width="0.5" />
<line x1="497.50" y1="153.31" x2="498.90" y2="153.31" stroke="#888" stroke-width="0.5" />
<line x1="497.50" y1="148.44" x2="498.90" y2="148.44" stroke="#888" stroke-width="0.5" />
<line x1="497.50" y1="143.57" x2="498.90" y2="143.57" stroke="#888" stroke-width="0.5" />
<text x="574.60" y="257.00" font-size="8.6" text-anchor="middle" fill="#222" font-weight="normal" font-style="normal" font-family="Liberation Sans" stroke="#222" stroke-width="0.12" textLength="57.3" lengthAdjust="spacingAndGlyphs" >Doubling Time (h)</text>
<text x="0.00" y="0.00" font-size="7.4" text-anchor="middle" fill="#222" font-weight="normal" font-style="normal" font-family="Liberation Sans" stroke="#222" stroke-width="0.1" textLength="64.8" lengthAdjust="spacingAndGlyphs" transform="translate(479.4,186.5) rotate(-90)">Probability Density</text>
<path d="M497.5,236.1 L497.9,236.1 L498.3,236.1 L498.7,236.0 L499.1,236.0 L499.6,236.0 L500.0,236.0 L500.4,236.0 L500.8,235.9 L501.2,235.9 L501.6,235.8 L502.0,235.7 L502.4,235.6 L502.8,235.5 L503.3,235.4 L503.7,235.2 L504.1,235.0 L504.5,234.8 L504.9,234.5 L505.3,234.2 L505.7,233.8 L506.1,233.4 L506.5,232.8 L506.9,232.2 L507.4,231.5 L507.8,230.7 L508.2,229.8 L508.6,228.7 L509.0,227.5 L509.4,226.2 L509.8,224.6 L510.2,222.9 L510.6,221.1 L511.1,219.0 L511.5,216.7 L511.9,214.3 L512.3,211.6 L512.7,208.7 L513.1,205.7 L513.5,202.4 L513.9,198.9 L514.3,195.3 L514.8,191.6 L515.2,187.7 L515.6,183.7 L516.0,179.7 L516.4,175.6 L516.8,171.5 L517.2,167.5 L517.6,163.6 L518.0,159.9 L518.4,156.3 L518.9,153.0 L519.3,150.0 L519.7,147.3 L520.1,145.0 L520.5,143.2 L520.9,141.9 L521.3,141.1 L521.7,140.9 L522.1,141.2 L522.6,141.9 L523.0,143.0 L523.4,144.5 L523.8,146.2 L524.2,148.2 L524.6,150.6 L525.0,153.1 L525.4,155.8 L525.8,158.8 L526.3,161.8 L526.7,165.0 L527.1,168.3 L527.5,171.7 L527.9,175.0 L528.3,178.4 L528.7,181.8 L529.1,185.2 L529.5,188.5 L529.9,191.7 L530.4,194.8 L530.8,197.9 L531.2,200.8 L531.6,203.6 L532.0,206.3 L532.4,208.8 L532.8,211.2 L533.2,213.5 L533.6,215.6 L534.1,217.6 L534.5,219.4 L534.9,221.1 L535.3,222.7 L535.7,224.1 L536.1,225.5 L536.5,226.7 L536.9,227.8 L537.3,228.7 L537.8,229.6 L538.2,230.4 L538.6,231.1 L539.0,231.8 L539.4,232.4 L539.8,232.9 L540.2,233.3 L540.6,233.7 L541.0,234.0 L541.5,234.3 L541.9,234.6 L542.3,234.8 L542.7,235.0 L543.1,235.2 L543.5,235.3 L543.9,235.4 L544.3,235.6 L544.7,235.6 L545.1,235.7 L545.6,235.8 L546.0,235.8 L546.4,235.9 L546.8,235.9 L547.2,236.0 L547.6,236.0 L548.0,236.0 L548.4,236.0 L548.8,236.0 L549.3,236.0 L549.7,236.1 L550.1,236.1 L550.5,236.1 L550.9,236.1 L551.3,236.1 L551.7,236.1 L552.1,236.1 L552.5,236.1 L553.0,236.1 L553.4,236.1 L553.8,236.1 L554.2,236.1 L554.6,236.1 L555.0,236.1 L555.4,236.1 L555.8,236.1 L556.2,236.1 L556.6,236.1 L557.1,236.1 L557.5,236.1 L557.9,236.1 L558.3,236.1 L558.7,236.1 L559.1,236.1 L559.5,236.1 L559.9,236.1 L560.3,236.1 L560.8,236.1 L561.2,236.1 L561.6,236.1 L562.0,236.1 L562.4,236.1 L562.8,236.1 L563.2,236.1 L563.6,236.1 L564.0,236.1 L564.5,236.1 L564.9,236.1 L565.3,236.1 L565.7,236.1 L566.1,236.1 L566.5,236.1 L566.9,236.1 L567.3,236.1 L567.7,236.1 L568.1,236.1 L568.6,236.1 L569.0,236.1 L569.4,236.1 L569.8,236.1 L570.2,236.1 L570.6,236.1 L571.0,236.1 L571.4,236.1 L571.8,236.1 L572.3,236.1 L572.7,236.1 L573.1,236.1 L573.5,236.1 L573.9,236.1 L574.3,236.1 L574.7,236.1 L575.1,236.1 L575.5,236.1 L576.0,236.1 L576.4,236.1 L576.8,236.1 L577.2,236.1 L577.6,236.1 L578.0,236.1 L578.4,236.1 L578.8,236.1 L579.2,236.1 L579.6,236.1 L580.1,236.1 L580.5,236.1 L580.9,236.1 L581.3,236.1 L581.7,236.1 L582.1,236.1 L582.5,236.1 L582.9,236.1 L583.3,236.1 L583.8,236.1 L584.2,236.1 L584.6,236.1 L585.0,236.1 L585.4,236.1 L585.8,236.1 L586.2,236.1 L586.6,236.1 L587.0,236.1 L587.5,236.1 L587.9,236.1 L588.3,236.1 L588.7,236.1 L589.1,236.1 L589.5,236.1 L589.9,236.1 L590.3,236.1 L590.7,236.1 L591.2,236.1 L591.6,236.1 L592.0,236.1 L592.4,236.1 L592.8,236.1 L593.2,236.1 L593.6,236.1 L594.0,236.1 L594.4,236.1 L594.8,236.1 L595.3,236.1 L595.7,236.1 L596.1,236.1 L596.5,236.1 L596.9,236.1 L597.3,236.1 L597.7,236.1 L598.1,236.1 L598.5,236.1 L599.0,236.1 L599.4,236.1 L599.8,236.1 L600.2,236.1 L600.6,236.1 L601.0,236.1 L601.4,236.1 L601.8,236.1 L602.2,236.1 L602.7,236.1 L603.1,236.1 L603.5,236.1 L603.9,236.1 L604.3,236.1 L604.7,236.1 L605.1,236.1 L605.5,236.1 L605.9,236.1 L606.3,236.1 L606.8,236.1 L607.2,236.1 L607.6,236.1 L608.0,236.1 L608.4,236.1 L608.8,236.1 L609.2,236.1 L609.6,236.1 L610.0,236.1 L610.5,236.1 L610.9,236.1 L611.3,236.1 L611.7,236.1 L612.1,236.1 L612.5,236.1 L612.9,236.1 L613.3,236.1 L613.7,236.1 L614.2,236.1 L614.6,236.1 L615.0,236.1 L615.4,236.1 L615.8,236.1 L616.2,236.1 L616.6,236.1 L617.0,236.1 L617.4,236.1 L617.8,236.1 L618.3,236.1 L618.7,236.1 L619.1,236.1 L619.5,236.1 L619.9,236.1 L620.3,236.1 L620.7,236.1 L621.1,236.1 L621.5,236.1 L622.0,236.1 L622.4,236.1 L622.8,236.1 L623.2,236.1 L623.6,236.1 L624.0,236.1 L624.4,236.1 L624.8,236.1 L625.2,236.1 L625.7,236.1 L626.1,236.1 L626.5,236.1 L626.9,236.1 L627.3,236.1 L627.7,236.1 L628.1,236.1 L628.5,236.1 L628.9,236.1 L629.4,236.1 L629.8,236.1 L630.2,236.1 L630.6,236.1 L631.0,236.1 L631.4,236.1 L631.8,236.1 L632.2,236.1 L632.6,236.1 L633.0,236.1 L633.5,236.1 L633.9,236.1 L634.3,236.1 L634.7,236.1 L635.1,236.1 L635.5,236.1 L635.9,236.1 L636.3,236.1 L636.7,236.1 L637.2,236.1 L637.6,236.1 L638.0,236.1 L638.4,236.1 L638.8,236.1 L639.2,236.1 L639.6,236.1 L640.0,236.1 L640.4,236.1 L640.9,236.1 L641.3,236.1 L641.7,236.1 L642.1,236.1 L642.5,236.1 L642.9,236.1 L643.3,236.1 L643.7,236.1 L644.1,236.1 L644.5,236.1 L645.0,236.1 L645.4,236.1 L645.8,236.1 L646.2,236.1 L646.6,236.1 L647.0,236.1 L647.4,236.1 L647.8,236.1 L648.2,236.1 L648.7,236.1 L649.1,236.1 L649.5,236.1 L649.9,236.1 L650.3,236.1 L650.7,236.1 L651.1,236.1 L651.5,236.1 L651.9,236.1 L652.4,236.1 L652.8,236.1 L653.2,236.1 L653.6,236.1 L654.0,236.1 L654.4,236.1 L654.8,236.1 L655.2,236.1 L655.6,236.1 L656.0,236.1 L656.5,236.1 L656.9,236.1 L657.3,236.1 L657.7,236.1 L658.1,236.1 L658.5,236.1 L658.9,236.1 L659.3,236.1 L659.7,236.1 L660.2,236.1 L660.6,236.1 L661.0,236.1 L661.4,236.1 L661.8,236.1" stroke="#d6e6b6" stroke-width="1.5" fill="none" stroke-linejoin="round" clip-path="url(#cf)"/>
<path d="M497.5,236.1 L497.9,236.1 L498.3,236.1 L498.7,236.1 L499.1,236.1 L499.6,236.1 L500.0,236.1 L500.4,236.1 L500.8,236.1 L501.2,236.0 L501.6,236.0 L502.0,236.0 L502.4,236.0 L502.8,236.0 L503.3,235.9 L503.7,235.9 L504.1,235.8 L504.5,235.8 L504.9,235.7 L505.3,235.6 L505.7,235.5 L506.1,235.3 L506.5,235.2 L506.9,235.0 L507.4,234.7 L507.8,234.4 L508.2,234.1 L508.6,233.7 L509.0,233.3 L509.4,232.7 L509.8,232.1 L510.2,231.4 L510.6,230.6 L511.1,229.7 L511.5,228.7 L511.9,227.5 L512.3,226.2 L512.7,224.7 L513.1,223.1 L513.5,221.3 L513.9,219.3 L514.3,217.1 L514.8,214.8 L515.2,212.2 L515.6,209.5 L516.0,206.6 L516.4,203.5 L516.8,200.2 L517.2,196.8 L517.6,193.2 L518.0,189.5 L518.4,185.8 L518.9,181.9 L519.3,178.0 L519.7,174.1 L520.1,170.3 L520.5,166.5 L520.9,162.9 L521.3,159.4 L521.7,156.2 L522.1,153.2 L522.6,150.5 L523.0,148.1 L523.4,146.2 L523.8,144.6 L524.2,143.6 L524.6,143.0 L525.0,143.1 L525.4,143.6 L525.8,144.4 L526.3,145.6 L526.7,147.2 L527.1,149.0 L527.5,151.1 L527.9,153.4 L528.3,156.0 L528.7,158.8 L529.1,161.7 L529.5,164.7 L529.9,167.9 L530.4,171.1 L530.8,174.4 L531.2,177.7 L531.6,181.1 L532.0,184.4 L532.4,187.6 L532.8,190.8 L533.2,193.9 L533.6,197.0 L534.1,199.9 L534.5,202.7 L534.9,205.4 L535.3,208.0 L535.7,210.4 L536.1,212.7 L536.5,214.9 L536.9,216.9 L537.3,218.8 L537.8,220.5 L538.2,222.1 L538.6,223.6 L539.0,224.9 L539.4,226.2 L539.8,227.3 L540.2,228.3 L540.6,229.3 L541.0,230.1 L541.5,230.8 L541.9,231.5 L542.3,232.1 L542.7,232.6 L543.1,233.1 L543.5,233.5 L543.9,233.9 L544.3,234.2 L544.7,234.5 L545.1,234.7 L545.6,234.9 L546.0,235.1 L546.4,235.3 L546.8,235.4 L547.2,235.5 L547.6,235.6 L548.0,235.7 L548.4,235.8 L548.8,235.8 L549.3,235.9 L549.7,235.9 L550.1,235.9 L550.5,236.0 L550.9,236.0 L551.3,236.0 L551.7,236.0 L552.1,236.0 L552.5,236.1 L553.0,236.1 L553.4,236.1 L553.8,236.1 L554.2,236.1 L554.6,236.1 L555.0,236.1 L555.4,236.1 L555.8,236.1 L556.2,236.1 L556.6,236.1 L557.1,236.1 L557.5,236.1 L557.9,236.1 L558.3,236.1 L558.7,236.1 L559.1,236.1 L559.5,236.1 L559.9,236.1 L560.3,236.1 L560.8,236.1 L561.2,236.1 L561.6,236.1 L562.0,236.1 L562.4,236.1 L562.8,236.1 L563.2,236.1 L563.6,236.1 L564.0,236.1 L564.5,236.1 L564.9,236.1 L565.3,236.1 L565.7,236.1 L566.1,236.1 L566.5,236.1 L566.9,236.1 L567.3,236.1 L567.7,236.1 L568.1,236.1 L568.6,236.1 L569.0,236.1 L569.4,236.1 L569.8,236.1 L570.2,236.1 L570.6,236.1 L571.0,236.1 L571.4,236.1 L571.8,236.1 L572.3,236.1 L572.7,236.1 L573.1,236.1 L573.5,236.1 L573.9,236.1 L574.3,236.1 L574.7,236.1 L575.1,236.1 L575.5,236.1 L576.0,236.1 L576.4,236.1 L576.8,236.1 L577.2,236.1 L577.6,236.1 L578.0,236.1 L578.4,236.1 L578.8,236.1 L579.2,236.1 L579.6,236.1 L580.1,236.1 L580.5,236.1 L580.9,236.1 L581.3,236.1 L581.7,236.1 L582.1,236.1 L582.5,236.1 L582.9,236.1 L583.3,236.1 L583.8,236.1 L584.2,236.1 L584.6,236.1 L585.0,236.1 L585.4,236.1 L585.8,236.1 L586.2,236.1 L586.6,236.1 L587.0,236.1 L587.5,236.1 L587.9,236.1 L588.3,236.1 L588.7,236.1 L589.1,236.1 L589.5,236.1 L589.9,236.1 L590.3,236.1 L590.7,236.1 L591.2,236.1 L591.6,236.1 L592.0,236.1 L592.4,236.1 L592.8,236.1 L593.2,236.1 L593.6,236.1 L594.0,236.1 L594.4,236.1 L594.8,236.1 L595.3,236.1 L595.7,236.1 L596.1,236.1 L596.5,236.1 L596.9,236.1 L597.3,236.1 L597.7,236.1 L598.1,236.1 L598.5,236.1 L599.0,236.1 L599.4,236.1 L599.8,236.1 L600.2,236.1 L600.6,236.1 L601.0,236.1 L601.4,236.1 L601.8,236.1 L602.2,236.1 L602.7,236.1 L603.1,236.1 L603.5,236.1 L603.9,236.1 L604.3,236.1 L604.7,236.1 L605.1,236.1 L605.5,236.1 L605.9,236.1 L606.3,236.1 L606.8,236.1 L607.2,236.1 L607.6,236.1 L608.0,236.1 L608.4,236.1 L608.8,236.1 L609.2,236.1 L609.6,236.1 L610.0,236.1 L610.5,236.1 L610.9,236.1 L611.3,236.1 L611.7,236.1 L612.1,236.1 L612.5,236.1 L612.9,236.1 L613.3,236.1 L613.7,236.1 L614.2,236.1 L614.6,236.1 L615.0,236.1 L615.4,236.1 L615.8,236.1 L616.2,236.1 L616.6,236.1 L617.0,236.1 L617.4,236.1 L617.8,236.1 L618.3,236.1 L618.7,236.1 L619.1,236.1 L619.5,236.1 L619.9,236.1 L620.3,236.1 L620.7,236.1 L621.1,236.1 L621.5,236.1 L622.0,236.1 L622.4,236.1 L622.8,236.1 L623.2,236.1 L623.6,236.1 L624.0,236.1 L624.4,236.1 L624.8,236.1 L625.2,236.1 L625.7,236.1 L626.1,236.1 L626.5,236.1 L626.9,236.1 L627.3,236.1 L627.7,236.1 L628.1,236.1 L628.5,236.1 L628.9,236.1 L629.4,236.1 L629.8,236.1 L630.2,236.1 L630.6,236.1 L631.0,236.1 L631.4,236.1 L631.8,236.1 L632.2,236.1 L632.6,236.1 L633.0,236.1 L633.5,236.1 L633.9,236.1 L634.3,236.1 L634.7,236.1 L635.1,236.1 L635.5,236.1 L635.9,236.1 L636.3,236.1 L636.7,236.1 L637.2,236.1 L637.6,236.1 L638.0,236.1 L638.4,236.1 L638.8,236.1 L639.2,236.1 L639.6,236.1 L640.0,236.1 L640.4,236.1 L640.9,236.1 L641.3,236.1 L641.7,236.1 L642.1,236.1 L642.5,236.1 L642.9,236.1 L643.3,236.1 L643.7,236.1 L644.1,236.1 L644.5,236.1 L645.0,236.1 L645.4,236.1 L645.8,236.1 L646.2,236.1 L646.6,236.1 L647.0,236.1 L647.4,236.1 L647.8,236.1 L648.2,236.1 L648.7,236.1 L649.1,236.1 L649.5,236.1 L649.9,236.1 L650.3,236.1 L650.7,236.1 L651.1,236.1 L651.5,236.1 L651.9,236.1 L652.4,236.1 L652.8,236.1 L653.2,236.1 L653.6,236.1 L654.0,236.1 L654.4,236.1 L654.8,236.1 L655.2,236.1 L655.6,236.1 L656.0,236.1 L656.5,236.1 L656.9,236.1 L657.3,236.1 L657.7,236.1 L658.1,236.1 L658.5,236.1 L658.9,236.1 L659.3,236.1 L659.7,236.1 L660.2,236.1 L660.6,236.1 L661.0,236.1 L661.4,236.1 L661.8,236.1" stroke="#a9d07f" stroke-width="1.5" fill="none" stroke-linejoin="round" clip-path="url(#cf)"/>
<path d="M497.5,236.1 L497.9,236.1 L498.3,236.1 L498.7,236.1 L499.1,236.1 L499.6,236.1 L500.0,236.1 L500.4,236.1 L500.8,236.1 L501.2,236.1 L501.6,236.1 L502.0,236.1 L502.4,236.1 L502.8,236.1 L503.3,236.0 L503.7,236.0 L504.1,236.0 L504.5,236.0 L504.9,235.9 L505.3,235.9 L505.7,235.9 L506.1,235.8 L506.5,235.7 L506.9,235.6 L507.4,235.5 L507.8,235.4 L508.2,235.3 L508.6,235.1 L509.0,234.9 L509.4,234.6 L509.8,234.3 L510.2,234.0 L510.6,233.6 L511.1,233.1 L511.5,232.6 L511.9,232.0 L512.3,231.3 L512.7,230.5 L513.1,229.5 L513.5,228.5 L513.9,227.4 L514.3,226.1 L514.8,224.6 L515.2,223.0 L515.6,221.3 L516.0,219.4 L516.4,217.3 L516.8,215.0 L517.2,212.5 L517.6,209.9 L518.0,207.1 L518.4,204.1 L518.9,200.9 L519.3,197.6 L519.7,194.2 L520.1,190.7 L520.5,187.0 L520.9,183.3 L521.3,179.5 L521.7,175.8 L522.1,172.0 L522.6,168.4 L523.0,164.8 L523.4,161.4 L523.8,158.1 L524.2,155.1 L524.6,152.4 L525.0,149.9 L525.4,147.9 L525.8,146.2 L526.3,144.9 L526.7,144.1 L527.1,143.8 L527.5,144.0 L527.9,144.6 L528.3,145.6 L528.7,147.0 L529.1,148.6 L529.5,150.5 L529.9,152.7 L530.4,155.1 L530.8,157.8 L531.2,160.6 L531.6,163.5 L532.0,166.6 L532.4,169.7 L532.8,173.0 L533.2,176.3 L533.6,179.5 L534.1,182.8 L534.5,186.1 L534.9,189.3 L535.3,192.4 L535.7,195.5 L536.1,198.5 L536.5,201.3 L536.9,204.1 L537.3,206.7 L537.8,209.2 L538.2,211.5 L538.6,213.8 L539.0,215.9 L539.4,217.8 L539.8,219.6 L540.2,221.3 L540.6,222.8 L541.0,224.2 L541.5,225.5 L541.9,226.7 L542.3,227.8 L542.7,228.8 L543.1,229.7 L543.5,230.5 L543.9,231.2 L544.3,231.8 L544.7,232.4 L545.1,232.9 L545.6,233.3 L546.0,233.7 L546.4,234.0 L546.8,234.3 L547.2,234.6 L547.6,234.8 L548.0,235.0 L548.4,235.2 L548.8,235.3 L549.3,235.4 L549.7,235.5 L550.1,235.6 L550.5,235.7 L550.9,235.8 L551.3,235.8 L551.7,235.9 L552.1,235.9 L552.5,236.0 L553.0,236.0 L553.4,236.0 L553.8,236.0 L554.2,236.0 L554.6,236.0 L555.0,236.1 L555.4,236.1 L555.8,236.1 L556.2,236.1 L556.6,236.1 L557.1,236.1 L557.5,236.1 L557.9,236.1 L558.3,236.1 L558.7,236.1 L559.1,236.1 L559.5,236.1 L559.9,236.1 L560.3,236.1 L560.8,236.1 L561.2,236.1 L561.6,236.1 L562.0,236.1 L562.4,236.1 L562.8,236.1 L563.2,236.1 L563.6,236.1 L564.0,236.1 L564.5,236.1 L564.9,236.1 L565.3,236.1 L565.7,236.1 L566.1,236.1 L566.5,236.1 L566.9,236.1 L567.3,236.1 L567.7,236.1 L568.1,236.1 L568.6,236.1 L569.0,236.1 L569.4,236.1 L569.8,236.1 L570.2,236.1 L570.6,236.1 L571.0,236.1 L571.4,236.1 L571.8,236.1 L572.3,236.1 L572.7,236.1 L573.1,236.1 L573.5,236.1 L573.9,236.1 L574.3,236.1 L574.7,236.1 L575.1,236.1 L575.5,236.1 L576.0,236.1 L576.4,236.1 L576.8,236.1 L577.2,236.1 L577.6,236.1 L578.0,236.1 L578.4,236.1 L578.8,236.1 L579.2,236.1 L579.6,236.1 L580.1,236.1 L580.5,236.1 L580.9,236.1 L581.3,236.1 L581.7,236.1 L582.1,236.1 L582.5,236.1 L582.9,236.1 L583.3,236.1 L583.8,236.1 L584.2,236.1 L584.6,236.1 L585.0,236.1 L585.4,236.1 L585.8,236.1 L586.2,236.1 L586.6,236.1 L587.0,236.1 L587.5,236.1 L587.9,236.1 L588.3,236.1 L588.7,236.1 L589.1,236.1 L589.5,236.1 L589.9,236.1 L590.3,236.1 L590.7,236.1 L591.2,236.1 L591.6,236.1 L592.0,236.1 L592.4,236.1 L592.8,236.1 L593.2,236.1 L593.6,236.1 L594.0,236.1 L594.4,236.1 L594.8,236.1 L595.3,236.1 L595.7,236.1 L596.1,236.1 L596.5,236.1 L596.9,236.1 L597.3,236.1 L597.7,236.1 L598.1,236.1 L598.5,236.1 L599.0,236.1 L599.4,236.1 L599.8,236.1 L600.2,236.1 L600.6,236.1 L601.0,236.1 L601.4,236.1 L601.8,236.1 L602.2,236.1 L602.7,236.1 L603.1,236.1 L603.5,236.1 L603.9,236.1 L604.3,236.1 L604.7,236.1 L605.1,236.1 L605.5,236.1 L605.9,236.1 L606.3,236.1 L606.8,236.1 L607.2,236.1 L607.6,236.1 L608.0,236.1 L608.4,236.1 L608.8,236.1 L609.2,236.1 L609.6,236.1 L610.0,236.1 L610.5,236.1 L610.9,236.1 L611.3,236.1 L611.7,236.1 L612.1,236.1 L612.5,236.1 L612.9,236.1 L613.3,236.1 L613.7,236.1 L614.2,236.1 L614.6,236.1 L615.0,236.1 L615.4,236.1 L615.8,236.1 L616.2,236.1 L616.6,236.1 L617.0,236.1 L617.4,236.1 L617.8,236.1 L618.3,236.1 L618.7,236.1 L619.1,236.1 L619.5,236.1 L619.9,236.1 L620.3,236.1 L620.7,236.1 L621.1,236.1 L621.5,236.1 L622.0,236.1 L622.4,236.1 L622.8,236.1 L623.2,236.1 L623.6,236.1 L624.0,236.1 L624.4,236.1 L624.8,236.1 L625.2,236.1 L625.7,236.1 L626.1,236.1 L626.5,236.1 L626.9,236.1 L627.3,236.1 L627.7,236.1 L628.1,236.1 L628.5,236.1 L628.9,236.1 L629.4,236.1 L629.8,236.1 L630.2,236.1 L630.6,236.1 L631.0,236.1 L631.4,236.1 L631.8,236.1 L632.2,236.1 L632.6,236.1 L633.0,236.1 L633.5,236.1 L633.9,236.1 L634.3,236.1 L634.7,236.1 L635.1,236.1 L635.5,236.1 L635.9,236.1 L636.3,236.1 L636.7,236.1 L637.2,236.1 L637.6,236.1 L638.0,236.1 L638.4,236.1 L638.8,236.1 L639.2,236.1 L639.6,236.1 L640.0,236.1 L640.4,236.1 L640.9,236.1 L641.3,236.1 L641.7,236.1 L642.1,236.1 L642.5,236.1 L642.9,236.1 L643.3,236.1 L643.7,236.1 L644.1,236.1 L644.5,236.1 L645.0,236.1 L645.4,236.1 L645.8,236.1 L646.2,236.1 L646.6,236.1 L647.0,236.1 L647.4,236.1 L647.8,236.1 L648.2,236.1 L648.7,236.1 L649.1,236.1 L649.5,236.1 L649.9,236.1 L650.3,236.1 L650.7,236.1 L651.1,236.1 L651.5,236.1 L651.9,236.1 L652.4,236.1 L652.8,236.1 L653.2,236.1 L653.6,236.1 L654.0,236.1 L654.4,236.1 L654.8,236.1 L655.2,236.1 L655.6,236.1 L656.0,236.1 L656.5,236.1 L656.9,236.1 L657.3,236.1 L657.7,236.1 L658.1,236.1 L658.5,236.1 L658.9,236.1 L659.3,236.1 L659.7,236.1 L660.2,236.1 L660.6,236.1 L661.0,236.1 L661.4,236.1 L661.8,236.1" stroke="#6db544" stroke-width="1.5" fill="none" stroke-linejoin="round" clip-path="url(#cf)"/>
<path d="M497.5,235.5 L497.9,235.3 L498.3,235.0 L498.7,234.7 L499.1,234.3 L499.6,233.8 L500.0,233.2 L500.4,232.5 L500.8,231.7 L501.2,230.6 L501.6,229.4 L502.0,228.0 L502.4,226.4 L502.8,224.6 L503.3,222.5 L503.7,220.1 L504.1,217.5 L504.5,214.7 L504.9,211.6 L505.3,208.2 L505.7,204.6 L506.1,200.8 L506.5,196.8 L506.9,192.7 L507.4,188.4 L507.8,184.1 L508.2,179.8 L508.6,175.4 L509.0,171.2 L509.4,167.0 L509.8,163.1 L510.2,159.3 L510.6,155.8 L511.1,152.6 L511.5,149.7 L511.9,147.1 L512.3,144.9 L512.7,143.0 L513.1,141.5 L513.5,140.4 L513.9,139.5 L514.3,139.0 L514.8,138.8 L515.2,138.7 L515.6,138.9 L516.0,139.5 L516.4,140.5 L516.8,141.8 L517.2,143.4 L517.6,145.2 L518.0,147.4 L518.4,149.7 L518.9,152.3 L519.3,155.1 L519.7,158.0 L520.1,161.1 L520.5,164.2 L520.9,167.5 L521.3,170.8 L521.7,174.1 L522.1,177.4 L522.6,180.7 L523.0,184.0 L523.4,187.3 L523.8,190.4 L524.2,193.5 L524.6,196.5 L525.0,199.4 L525.4,202.2 L525.8,204.9 L526.3,207.4 L526.7,209.8 L527.1,212.1 L527.5,214.2 L527.9,216.2 L528.3,218.1 L528.7,219.8 L529.1,221.5 L529.5,223.0 L529.9,224.3 L530.4,225.6 L530.8,226.7 L531.2,227.8 L531.6,228.7 L532.0,229.6 L532.4,230.4 L532.8,231.1 L533.2,231.7 L533.6,232.2 L534.1,232.7 L534.5,233.2 L534.9,233.6 L535.3,233.9 L535.7,234.2 L536.1,234.5 L536.5,234.7 L536.9,234.9 L537.3,235.1 L537.8,235.2 L538.2,235.4 L538.6,235.5 L539.0,235.6 L539.4,235.7 L539.8,235.7 L540.2,235.8 L540.6,235.8 L541.0,235.9 L541.5,235.9 L541.9,236.0 L542.3,236.0 L542.7,236.0 L543.1,236.0 L543.5,236.0 L543.9,236.0 L544.3,236.1 L544.7,236.1 L545.1,236.1 L545.6,236.1 L546.0,236.1 L546.4,236.1 L546.8,236.1 L547.2,236.1 L547.6,236.1 L548.0,236.1 L548.4,236.1 L548.8,236.1 L549.3,236.1 L549.7,236.1 L550.1,236.1 L550.5,236.1 L550.9,236.1 L551.3,236.1 L551.7,236.1 L552.1,236.1 L552.5,236.1 L553.0,236.1 L553.4,236.1 L553.8,236.1 L554.2,236.1 L554.6,236.1 L555.0,236.1 L555.4,236.1 L555.8,236.1 L556.2,236.1 L556.6,236.1 L557.1,236.1 L557.5,236.1 L557.9,236.1 L558.3,236.1 L558.7,236.1 L559.1,236.1 L559.5,236.1 L559.9,236.1 L560.3,236.1 L560.8,236.1 L561.2,236.1 L561.6,236.1 L562.0,236.1 L562.4,236.1 L562.8,236.1 L563.2,236.1 L563.6,236.1 L564.0,236.1 L564.5,236.1 L564.9,236.1 L565.3,236.1 L565.7,236.1 L566.1,236.1 L566.5,236.1 L566.9,236.1 L567.3,236.1 L567.7,236.1 L568.1,236.1 L568.6,236.1 L569.0,236.1 L569.4,236.1 L569.8,236.1 L570.2,236.1 L570.6,236.1 L571.0,236.1 L571.4,236.1 L571.8,236.1 L572.3,236.1 L572.7,236.1 L573.1,236.1 L573.5,236.1 L573.9,236.1 L574.3,236.1 L574.7,236.1 L575.1,236.1 L575.5,236.1 L576.0,236.1 L576.4,236.1 L576.8,236.1 L577.2,236.1 L577.6,236.1 L578.0,236.1 L578.4,236.1 L578.8,236.1 L579.2,236.1 L579.6,236.1 L580.1,236.1 L580.5,236.1 L580.9,236.1 L581.3,236.1 L581.7,236.1 L582.1,236.1 L582.5,236.1 L582.9,236.1 L583.3,236.1 L583.8,236.1 L584.2,236.1 L584.6,236.1 L585.0,236.1 L585.4,236.1 L585.8,236.1 L586.2,236.1 L586.6,236.1 L587.0,236.1 L587.5,236.1 L587.9,236.1 L588.3,236.1 L588.7,236.1 L589.1,236.1 L589.5,236.1 L589.9,236.1 L590.3,236.1 L590.7,236.1 L591.2,236.1 L591.6,236.1 L592.0,236.1 L592.4,236.1 L592.8,236.1 L593.2,236.1 L593.6,236.1 L594.0,236.1 L594.4,236.1 L594.8,236.1 L595.3,236.1 L595.7,236.1 L596.1,236.1 L596.5,236.1 L596.9,236.1 L597.3,236.1 L597.7,236.1 L598.1,236.1 L598.5,236.1 L599.0,236.1 L599.4,236.1 L599.8,236.1 L600.2,236.1 L600.6,236.1 L601.0,236.1 L601.4,236.1 L601.8,236.1 L602.2,236.1 L602.7,236.1 L603.1,236.1 L603.5,236.1 L603.9,236.1 L604.3,236.1 L604.7,236.1 L605.1,236.1 L605.5,236.1 L605.9,236.1 L606.3,236.1 L606.8,236.1 L607.2,236.1 L607.6,236.1 L608.0,236.1 L608.4,236.1 L608.8,236.1 L609.2,236.1 L609.6,236.1 L610.0,236.1 L610.5,236.1 L610.9,236.1 L611.3,236.1 L611.7,236.1 L612.1,236.1 L612.5,236.1 L612.9,236.1 L613.3,236.1 L613.7,236.1 L614.2,236.1 L614.6,236.1 L615.0,236.1 L615.4,236.1 L615.8,236.1 L616.2,236.1 L616.6,236.1 L617.0,236.1 L617.4,236.1 L617.8,236.1 L618.3,236.1 L618.7,236.1 L619.1,236.1 L619.5,236.1 L619.9,236.1 L620.3,236.1 L620.7,236.1 L621.1,236.1 L621.5,236.1 L622.0,236.1 L622.4,236.1 L622.8,236.1 L623.2,236.1 L623.6,236.1 L624.0,236.1 L624.4,236.1 L624.8,236.1 L625.2,236.1 L625.7,236.1 L626.1,236.1 L626.5,236.1 L626.9,236.1 L627.3,236.1 L627.7,236.1 L628.1,236.1 L628.5,236.1 L628.9,236.1 L629.4,236.1 L629.8,236.1 L630.2,236.1 L630.6,236.1 L631.0,236.1 L631.4,236.1 L631.8,236.1 L632.2,236.1 L632.6,236.1 L633.0,236.1 L633.5,236.1 L633.9,236.1 L634.3,236.1 L634.7,236.1 L635.1,236.1 L635.5,236.1 L635.9,236.1 L636.3,236.1 L636.7,236.1 L637.2,236.1 L637.6,236.1 L638.0,236.1 L638.4,236.1 L638.8,236.1 L639.2,236.1 L639.6,236.1 L640.0,236.1 L640.4,236.1 L640.9,236.1 L641.3,236.1 L641.7,236.1 L642.1,236.1 L642.5,236.1 L642.9,236.1 L643.3,236.1 L643.7,236.1 L644.1,236.1 L644.5,236.1 L645.0,236.1 L645.4,236.1 L645.8,236.1 L646.2,236.1 L646.6,236.1 L647.0,236.1 L647.4,236.1 L647.8,236.1 L648.2,236.1 L648.7,236.1 L649.1,236.1 L649.5,236.1 L649.9,236.1 L650.3,236.1 L650.7,236.1 L651.1,236.1 L651.5,236.1 L651.9,236.1 L652.4,236.1 L652.8,236.1 L653.2,236.1 L653.6,236.1 L654.0,236.1 L654.4,236.1 L654.8,236.1 L655.2,236.1 L655.6,236.1 L656.0,236.1 L656.5,236.1 L656.9,236.1 L657.3,236.1 L657.7,236.1 L658.1,236.1 L658.5,236.1 L658.9,236.1 L659.3,236.1 L659.7,236.1 L660.2,236.1 L660.6,236.1 L661.0,236.1 L661.4,236.1 L661.8,236.1" stroke="#000000" stroke-width="1.5" fill="none" stroke-linejoin="round" clip-path="url(#cf)"/>
<path d="M497.5,236.1 L497.9,236.1 L498.3,236.1 L498.7,236.1 L499.1,236.1 L499.6,236.1 L500.0,236.1 L500.4,236.1 L500.8,236.1 L501.2,236.1 L501.6,236.1 L502.0,236.1 L502.4,236.1 L502.8,236.1 L503.3,236.1 L503.7,236.1 L504.1,236.1 L504.5,236.1 L504.9,236.1 L505.3,236.1 L505.7,236.1 L506.1,236.1 L506.5,236.1 L506.9,236.1 L507.4,236.1 L507.8,236.1 L508.2,236.1 L508.6,236.1 L509.0,236.1 L509.4,236.1 L509.8,236.1 L510.2,236.1 L510.6,236.1 L511.1,236.1 L511.5,236.1 L511.9,236.1 L512.3,236.1 L512.7,236.1 L513.1,236.1 L513.5,236.1 L513.9,236.1 L514.3,236.1 L514.8,236.1 L515.2,236.1 L515.6,236.1 L516.0,236.1 L516.4,236.1 L516.8,236.1 L517.2,236.1 L517.6,236.1 L518.0,236.1 L518.4,236.1 L518.9,236.1 L519.3,236.1 L519.7,236.1 L520.1,236.1 L520.5,236.1 L520.9,236.1 L521.3,236.1 L521.7,236.1 L522.1,236.1 L522.6,236.1 L523.0,236.1 L523.4,236.1 L523.8,236.1 L524.2,236.1 L524.6,236.1 L525.0,236.0 L525.4,236.0 L525.8,236.0 L526.3,236.0 L526.7,236.0 L527.1,236.0 L527.5,236.0 L527.9,236.0 L528.3,236.0 L528.7,236.0 L529.1,236.0 L529.5,236.0 L529.9,236.0 L530.4,236.0 L530.8,236.0 L531.2,236.0 L531.6,236.0 L532.0,235.9 L532.4,235.9 L532.8,235.9 L533.2,235.9 L533.6,235.9 L534.1,235.9 L534.5,235.9 L534.9,235.9 L535.3,235.8 L535.7,235.8 L536.1,235.8 L536.5,235.8 L536.9,235.7 L537.3,235.7 L537.8,235.7 L538.2,235.7 L538.6,235.6 L539.0,235.6 L539.4,235.5 L539.8,235.5 L540.2,235.4 L540.6,235.4 L541.0,235.3 L541.5,235.3 L541.9,235.2 L542.3,235.1 L542.7,235.0 L543.1,234.9 L543.5,234.8 L543.9,234.7 L544.3,234.6 L544.7,234.5 L545.1,234.3 L545.6,234.2 L546.0,234.0 L546.4,233.8 L546.8,233.6 L547.2,233.3 L547.6,233.1 L548.0,232.8 L548.4,232.5 L548.8,232.2 L549.3,231.8 L549.7,231.4 L550.1,230.9 L550.5,230.5 L550.9,229.9 L551.3,229.3 L551.7,228.7 L552.1,228.0 L552.5,227.2 L553.0,226.4 L553.4,225.4 L553.8,224.4 L554.2,223.3 L554.6,222.1 L555.0,220.9 L555.4,219.5 L555.8,218.0 L556.2,216.3 L556.6,214.6 L557.1,212.7 L557.5,210.7 L557.9,208.6 L558.3,206.4 L558.7,204.0 L559.1,201.5 L559.5,198.9 L559.9,196.2 L560.3,193.4 L560.8,190.5 L561.2,187.6 L561.6,184.7 L562.0,181.8 L562.4,178.9 L562.8,176.0 L563.2,173.3 L563.6,170.7 L564.0,168.2 L564.5,166.0 L564.9,164.0 L565.3,162.2 L565.7,160.8 L566.1,159.7 L566.5,158.9 L566.9,158.5 L567.3,158.5 L567.7,158.8 L568.1,159.5 L568.6,160.6 L569.0,162.0 L569.4,163.6 L569.8,165.6 L570.2,167.8 L570.6,170.2 L571.0,172.7 L571.4,175.4 L571.8,178.1 L572.3,180.9 L572.7,183.7 L573.1,186.6 L573.5,189.3 L573.9,192.1 L574.3,194.7 L574.7,197.3 L575.1,199.8 L575.5,202.1 L576.0,204.4 L576.4,206.5 L576.8,208.5 L577.2,210.4 L577.6,212.2 L578.0,213.9 L578.4,215.4 L578.8,216.9 L579.2,218.2 L579.6,219.5 L580.1,220.7 L580.5,221.8 L580.9,222.8 L581.3,223.7 L581.7,224.6 L582.1,225.4 L582.5,226.1 L582.9,226.8 L583.3,227.5 L583.8,228.1 L584.2,228.6 L584.6,229.1 L585.0,229.6 L585.4,230.0 L585.8,230.4 L586.2,230.8 L586.6,231.1 L587.0,231.5 L587.5,231.8 L587.9,232.0 L588.3,232.3 L588.7,232.5 L589.1,232.7 L589.5,232.9 L589.9,233.1 L590.3,233.3 L590.7,233.5 L591.2,233.6 L591.6,233.8 L592.0,233.9 L592.4,234.0 L592.8,234.2 L593.2,234.3 L593.6,234.4 L594.0,234.5 L594.4,234.6 L594.8,234.6 L595.3,234.7 L595.7,234.8 L596.1,234.9 L596.5,234.9 L596.9,235.0 L597.3,235.0 L597.7,235.1 L598.1,235.1 L598.5,235.2 L599.0,235.2 L599.4,235.3 L599.8,235.3 L600.2,235.4 L600.6,235.4 L601.0,235.4 L601.4,235.5 L601.8,235.5 L602.2,235.5 L602.7,235.5 L603.1,235.6 L603.5,235.6 L603.9,235.6 L604.3,235.6 L604.7,235.7 L605.1,235.7 L605.5,235.7 L605.9,235.7 L606.3,235.7 L606.8,235.7 L607.2,235.8 L607.6,235.8 L608.0,235.8 L608.4,235.8 L608.8,235.8 L609.2,235.8 L609.6,235.8 L610.0,235.8 L610.5,235.9 L610.9,235.9 L611.3,235.9 L611.7,235.9 L612.1,235.9 L612.5,235.9 L612.9,235.9 L613.3,235.9 L613.7,235.9 L614.2,235.9 L614.6,235.9 L615.0,235.9 L615.4,235.9 L615.8,235.9 L616.2,236.0 L616.6,236.0 L617.0,236.0 L617.4,236.0 L617.8,236.0 L618.3,236.0 L618.7,236.0 L619.1,236.0 L619.5,236.0 L619.9,236.0 L620.3,236.0 L620.7,236.0 L621.1,236.0 L621.5,236.0 L622.0,236.0 L622.4,236.0 L622.8,236.0 L623.2,236.0 L623.6,236.0 L624.0,236.0 L624.4,236.0 L624.8,236.0 L625.2,236.0 L625.7,236.0 L626.1,236.0 L626.5,236.0 L626.9,236.0 L627.3,236.0 L627.7,236.0 L628.1,236.0 L628.5,236.0 L628.9,236.0 L629.4,236.0 L629.8,236.0 L630.2,236.0 L630.6,236.1 L631.0,236.1 L631.4,236.1 L631.8,236.1 L632.2,236.1 L632.6,236.1 L633.0,236.1 L633.5,236.1 L633.9,236.1 L634.3,236.1 L634.7,236.1 L635.1,236.1 L635.5,236.1 L635.9,236.1 L636.3,236.1 L636.7,236.1 L637.2,236.1 L637.6,236.1 L638.0,236.1 L638.4,236.1 L638.8,236.1 L639.2,236.1 L639.6,236.1 L640.0,236.1 L640.4,236.1 L640.9,236.1 L641.3,236.1 L641.7,236.1 L642.1,236.1 L642.5,236.1 L642.9,236.1 L643.3,236.1 L643.7,236.1 L644.1,236.1 L644.5,236.1 L645.0,236.1 L645.4,236.1 L645.8,236.1 L646.2,236.1 L646.6,236.1 L647.0,236.1 L647.4,236.1 L647.8,236.1 L648.2,236.1 L648.7,236.1 L649.1,236.1 L649.5,236.1 L649.9,236.1 L650.3,236.1 L650.7,236.1 L651.1,236.1 L651.5,236.1 L651.9,236.1 L652.4,236.1 L652.8,236.1 L653.2,236.1 L653.6,236.1 L654.0,236.1 L654.4,236.1 L654.8,236.1 L655.2,236.1 L655.6,236.1 L656.0,236.1 L656.5,236.1 L656.9,236.1 L657.3,236.1 L657.7,236.1 L658.1,236.1 L658.5,236.1 L658.9,236.1 L659.3,236.1 L659.7,236.1 L660.2,236.1 L660.6,236.1 L661.0,236.1 L661.4,236.1 L661.8,236.1" stroke="#4a8c3a" stroke-width="1.5" fill="none" stroke-linejoin="round" clip-path="url(#cf)"/>
<path d="M497.5,236.1 L497.9,236.1 L498.3,236.1 L498.7,236.1 L499.1,236.1 L499.6,236.1 L500.0,236.1 L500.4,236.1 L500.8,236.1 L501.2,236.1 L501.6,236.1 L502.0,236.1 L502.4,236.1 L502.8,236.1 L503.3,236.1 L503.7,236.1 L504.1,236.1 L504.5,236.1 L504.9,236.1 L505.3,236.1 L505.7,236.1 L506.1,236.1 L506.5,236.1 L506.9,236.1 L507.4,236.1 L507.8,236.1 L508.2,236.1 L508.6,236.1 L509.0,236.1 L509.4,236.1 L509.8,236.1 L510.2,236.1 L510.6,236.1 L511.1,236.1 L511.5,236.1 L511.9,236.1 L512.3,236.1 L512.7,236.1 L513.1,236.1 L513.5,236.1 L513.9,236.1 L514.3,236.1 L514.8,236.1 L515.2,236.1 L515.6,236.1 L516.0,236.1 L516.4,236.1 L516.8,236.1 L517.2,236.1 L517.6,236.1 L518.0,236.1 L518.4,236.1 L518.9,236.1 L519.3,236.1 L519.7,236.1 L520.1,236.1 L520.5,236.1 L520.9,236.1 L521.3,236.1 L521.7,236.1 L522.1,236.1 L522.6,236.1 L523.0,236.1 L523.4,236.1 L523.8,236.1 L524.2,236.1 L524.6,236.1 L525.0,236.1 L525.4,236.1 L525.8,236.1 L526.3,236.1 L526.7,236.1 L527.1,236.1 L527.5,236.1 L527.9,236.1 L528.3,236.1 L528.7,236.1 L529.1,236.1 L529.5,236.1 L529.9,236.1 L530.4,236.1 L530.8,236.1 L531.2,236.1 L531.6,236.1 L532.0,236.1 L532.4,236.1 L532.8,236.1 L533.2,236.1 L533.6,236.1 L534.1,236.1 L534.5,236.1 L534.9,236.1 L535.3,236.1 L535.7,236.1 L536.1,236.1 L536.5,236.1 L536.9,236.1 L537.3,236.1 L537.8,236.1 L538.2,236.1 L538.6,236.1 L539.0,236.1 L539.4,236.1 L539.8,236.1 L540.2,236.1 L540.6,236.1 L541.0,236.1 L541.5,236.1 L541.9,236.1 L542.3,236.1 L542.7,236.1 L543.1,236.1 L543.5,236.1 L543.9,236.1 L544.3,236.1 L544.7,236.1 L545.1,236.1 L545.6,236.1 L546.0,236.1 L546.4,236.1 L546.8,236.1 L547.2,236.1 L547.6,236.1 L548.0,236.1 L548.4,236.1 L548.8,236.1 L549.3,236.1 L549.7,236.1 L550.1,236.1 L550.5,236.1 L550.9,236.1 L551.3,236.1 L551.7,236.1 L552.1,236.1 L552.5,236.1 L553.0,236.1 L553.4,236.1 L553.8,236.1 L554.2,236.1 L554.6,236.1 L555.0,236.1 L555.4,236.1 L555.8,236.1 L556.2,236.1 L556.6,236.1 L557.1,236.1 L557.5,236.1 L557.9,236.1 L558.3,236.1 L558.7,236.1 L559.1,236.1 L559.5,236.1 L559.9,236.1 L560.3,236.1 L560.8,236.1 L561.2,236.1 L561.6,236.1 L562.0,236.1 L562.4,236.1 L562.8,236.0 L563.2,236.0 L563.6,236.0 L564.0,236.0 L564.5,236.0 L564.9,236.0 L565.3,236.0 L565.7,236.0 L566.1,236.0 L566.5,236.0 L566.9,236.0 L567.3,236.0 L567.7,236.0 L568.1,236.0 L568.6,236.0 L569.0,236.0 L569.4,236.0 L569.8,236.0 L570.2,235.9 L570.6,235.9 L571.0,235.9 L571.4,235.9 L571.8,235.9 L572.3,235.9 L572.7,235.9 L573.1,235.8 L573.5,235.8 L573.9,235.8 L574.3,235.8 L574.7,235.8 L575.1,235.7 L575.5,235.7 L576.0,235.7 L576.4,235.6 L576.8,235.6 L577.2,235.6 L577.6,235.5 L578.0,235.5 L578.4,235.4 L578.8,235.4 L579.2,235.3 L579.6,235.2 L580.1,235.2 L580.5,235.1 L580.9,235.0 L581.3,234.9 L581.7,234.8 L582.1,234.7 L582.5,234.5 L582.9,234.4 L583.3,234.3 L583.8,234.1 L584.2,233.9 L584.6,233.7 L585.0,233.5 L585.4,233.3 L585.8,233.0 L586.2,232.7 L586.6,232.4 L587.0,232.1 L587.5,231.7 L587.9,231.3 L588.3,230.8 L588.7,230.3 L589.1,229.8 L589.5,229.2 L589.9,228.6 L590.3,227.9 L590.7,227.1 L591.2,226.3 L591.6,225.4 L592.0,224.4 L592.4,223.3 L592.8,222.2 L593.2,221.0 L593.6,219.6 L594.0,218.2 L594.4,216.6 L594.8,215.0 L595.3,213.2 L595.7,211.4 L596.1,209.4 L596.5,207.3 L596.9,205.2 L597.3,202.9 L597.7,200.5 L598.1,198.1 L598.5,195.6 L599.0,193.1 L599.4,190.5 L599.8,187.9 L600.2,185.4 L600.6,182.9 L601.0,180.5 L601.4,178.2 L601.8,176.0 L602.2,174.0 L602.7,172.2 L603.1,170.6 L603.5,169.3 L603.9,168.2 L604.3,167.5 L604.7,167.0 L605.1,166.8 L605.5,167.0 L605.9,167.5 L606.3,168.2 L606.8,169.2 L607.2,170.5 L607.6,172.0 L608.0,173.8 L608.4,175.7 L608.8,177.8 L609.2,180.0 L609.6,182.3 L610.0,184.6 L610.5,187.0 L610.9,189.4 L611.3,191.8 L611.7,194.2 L612.1,196.6 L612.5,198.8 L612.9,201.0 L613.3,203.2 L613.7,205.2 L614.2,207.2 L614.6,209.0 L615.0,210.8 L615.4,212.4 L615.8,214.0 L616.2,215.5 L616.6,216.9 L617.0,218.2 L617.4,219.4 L617.8,220.5 L618.3,221.6 L618.7,222.6 L619.1,223.5 L619.5,224.3 L619.9,225.1 L620.3,225.9 L620.7,226.6 L621.1,227.2 L621.5,227.8 L622.0,228.3 L622.4,228.8 L622.8,229.3 L623.2,229.8 L623.6,230.2 L624.0,230.6 L624.4,230.9 L624.8,231.2 L625.2,231.5 L625.7,231.8 L626.1,232.1 L626.5,232.3 L626.9,232.6 L627.3,232.8 L627.7,233.0 L628.1,233.2 L628.5,233.3 L628.9,233.5 L629.4,233.6 L629.8,233.8 L630.2,233.9 L630.6,234.0 L631.0,234.1 L631.4,234.3 L631.8,234.4 L632.2,234.4 L632.6,234.5 L633.0,234.6 L633.5,234.7 L633.9,234.8 L634.3,234.8 L634.7,234.9 L635.1,235.0 L635.5,235.0 L635.9,235.1 L636.3,235.1 L636.7,235.2 L637.2,235.2 L637.6,235.3 L638.0,235.3 L638.4,235.3 L638.8,235.4 L639.2,235.4 L639.6,235.4 L640.0,235.5 L640.4,235.5 L640.9,235.5 L641.3,235.6 L641.7,235.6 L642.1,235.6 L642.5,235.6 L642.9,235.6 L643.3,235.7 L643.7,235.7 L644.1,235.7 L644.5,235.7 L645.0,235.7 L645.4,235.7 L645.8,235.8 L646.2,235.8 L646.6,235.8 L647.0,235.8 L647.4,235.8 L647.8,235.8 L648.2,235.8 L648.7,235.8 L649.1,235.9 L649.5,235.9 L649.9,235.9 L650.3,235.9 L650.7,235.9 L651.1,235.9 L651.5,235.9 L651.9,235.9 L652.4,235.9 L652.8,235.9 L653.2,235.9 L653.6,235.9 L654.0,235.9 L654.4,235.9 L654.8,236.0 L655.2,236.0 L655.6,236.0 L656.0,236.0 L656.5,236.0 L656.9,236.0 L657.3,236.0 L657.7,236.0 L658.1,236.0 L658.5,236.0 L658.9,236.0 L659.3,236.0 L659.7,236.0 L660.2,236.0 L660.6,236.0 L661.0,236.0 L661.4,236.0 L661.8,236.0" stroke="#2b5e22" stroke-width="1.5" fill="none" stroke-linejoin="round" clip-path="url(#cf)"/>
<line x1="639.60" y1="143.80" x2="649.10" y2="143.80" stroke="#333" stroke-width="1.3" />
<text x="651.30" y="146.04" font-size="6.6" text-anchor="start" fill="#222" font-weight="normal" font-style="normal" font-family="Liberation Sans" stroke="#222" stroke-width="0.12" >Open-loop</text>
<line x1="639.60" y1="155.80" x2="649.10" y2="155.80" stroke="#d6e6b6" stroke-width="1.3" />
<text x="652.80" y="158.04" font-size="6.6" text-anchor="start" fill="#222" font-weight="normal" font-style="normal" font-family="Liberation Sans" stroke="#222" stroke-width="0.12" >top99%</text>
<line x1="639.60" y1="167.70" x2="649.10" y2="167.70" stroke="#a9d07f" stroke-width="1.3" />
<text x="652.80" y="169.94" font-size="6.6" text-anchor="start" fill="#222" font-weight="normal" font-style="normal" font-family="Liberation Sans" stroke="#222" stroke-width="0.12" >top50%</text>
<line x1="639.60" y1="179.00" x2="649.10" y2="179.00" stroke="#6db544" stroke-width="1.3" />
<text x="652.80" y="181.24" font-size="6.6" text-anchor="start" fill="#222" font-weight="normal" font-style="normal" font-family="Liberation Sans" stroke="#222" stroke-width="0.12" >top1%</text>
<line x1="639.60" y1="191.00" x2="649.10" y2="191.00" stroke="#4a8c3a" stroke-width="1.3" />
<text x="652.80" y="193.24" font-size="6.6" text-anchor="start" fill="#222" font-weight="normal" font-style="normal" font-family="Liberation Sans" stroke="#222" stroke-width="0.12" >10xMean</text>
<line x1="639.60" y1="202.60" x2="649.10" y2="202.60" stroke="#2b5e22" stroke-width="1.3" />
<text x="652.80" y="204.84" font-size="6.6" text-anchor="start" fill="#222" font-weight="normal" font-style="normal" font-family="Liberation Sans" stroke="#222" stroke-width="0.12" >20xMean</text>
<text x="0.60" y="262.70" font-size="9" text-anchor="start" fill="#000" font-weight="bold" font-style="normal" font-family="Liberation Sans" >g.</text>
<line x1="25.90" y1="373.70" x2="185.38" y2="373.70" stroke="#888" stroke-width="0.7" />
<line x1="25.90" y1="373.70" x2="25.90" y2="277.13" stroke="#888" stroke-width="0.7" />
<line x1="25.90" y1="373.70" x2="25.90" y2="371.10" stroke="#888" stroke-width="0.6" />
<text x="25.90" y="383.00" font-size="7.8" text-anchor="middle" fill="#222" font-weight="normal" font-style="normal" font-family="Liberation Sans" stroke="#222" stroke-width="0.12" >0</text>
<line x1="59.12" y1="373.70" x2="59.12" y2="371.10" stroke="#888" stroke-width="0.6" />
<text x="59.12" y="383.00" font-size="7.8" text-anchor="middle" fill="#222" font-weight="normal" font-style="normal" font-family="Liberation Sans" stroke="#222" stroke-width="0.12" >5</text>
<line x1="92.35" y1="373.70" x2="92.35" y2="371.10" stroke="#888" stroke-width="0.6" />
<text x="92.35" y="383.00" font-size="7.8" text-anchor="middle" fill="#222" font-weight="normal" font-style="normal" font-family="Liberation Sans" stroke="#222" stroke-width="0.12" >10</text>
<line x1="125.57" y1="373.70" x2="125.57" y2="371.10" stroke="#888" stroke-width="0.6" />
<text x="125.57" y="383.00" font-size="7.8" text-anchor="middle" fill="#222" font-weight="normal" font-style="normal" font-family="Liberation Sans" stroke="#222" stroke-width="0.12" >15</text>
<line x1="158.80" y1="373.70" x2="158.80" y2="371.10" stroke="#888" stroke-width="0.6" />
<text x="158.80" y="383.00" font-size="7.8" text-anchor="middle" fill="#222" font-weight="normal" font-style="normal" font-family="Liberation Sans" stroke="#222" stroke-width="0.12" >20</text>
<line x1="32.55" y1="373.70" x2="32.55" y2="372.30" stroke="#888" stroke-width="0.5" />
<line x1="39.19" y1="373.70" x2="39.19" y2="372.30" stroke="#888" stroke-width="0.5" />
<line x1="45.84" y1="373.70" x2="45.84" y2="372.30" stroke="#888" stroke-width="0.5" />
<line x1="52.48" y1="373.70" x2="52.48" y2="372.30" stroke="#888" stroke-width="0.5" />
<line x1="65.77" y1="373.70" x2="65.77" y2="372.30" stroke="#888" stroke-width="0.5" />
<line x1="72.41" y1="373.70" x2="72.41" y2="372.30" stroke="#888" stroke-width="0.5" />
<line x1="79.06" y1="373.70" x2="79.06" y2="372.30" stroke="#888" stroke-width="0.5" />
<line x1="85.71" y1="373.70" x2="85.71" y2="372.30" stroke="#888" stroke-width="0.5" />
<line x1="99.00" y1="373.70" x2="99.00" y2="372.30" stroke="#888" stroke-width="0.5" />
<line x1="105.64" y1="373.70" x2="105.64" y2="372.30" stroke="#888" stroke-width="0.5" />
<line x1="112.28" y1="373.70" x2="112.28" y2="372.30" stroke="#888" stroke-width="0.5" />
<line x1="118.93" y1="373.70" x2="118.93" y2="372.30" stroke="#888" stroke-width="0.5" />
<line x1="132.22" y1="373.70" x2="132.22" y2="372.30" stroke="#888" stroke-width="0.5" />
<line x1="138.87" y1="373.70" x2="138.87" y2="372.30" stroke="#888" stroke-width="0.5" />
<line x1="145.51" y1="373.70" x2="145.51" y2="372.30" stroke="#888" stroke-width="0.5" />
<line x1="152.16" y1="373.70" x2="152.16" y2="372.30" stroke="#888" stroke-width="0.5" />
<line x1="165.45" y1="373.70" x2="165.45" y2="372.30" stroke="#888" stroke-width="0.5" />
<line x1="172.09" y1="373.70" x2="172.09" y2="372.30" stroke="#888" stroke-width="0.5" />
<line x1="178.74" y1="373.70" x2="178.74" y2="372.30" stroke="#888" stroke-width="0.5" />
<line x1="185.38" y1="373.70" x2="185.38" y2="372.30" stroke="#888" stroke-width="0.5" />
<line x1="25.90" y1="352.00" x2="28.50" y2="352.00" stroke="#888" stroke-width="0.6" />
<text x="24.00" y="354.50" font-size="7.8" text-anchor="end" fill="#222" font-weight="normal" font-style="normal" font-family="Liberation Sans" stroke="#222" stroke-width="0.12" >2</text>
<line x1="25.90" y1="330.30" x2="28.50" y2="330.30" stroke="#888" stroke-width="0.6" />
<text x="24.00" y="332.80" font-size="7.8" text-anchor="end" fill="#222" font-weight="normal" font-style="normal" font-family="Liberation Sans" stroke="#222" stroke-width="0.12" >4</text>
<line x1="25.90" y1="308.60" x2="28.50" y2="308.60" stroke="#888" stroke-width="0.6" />
<text x="24.00" y="311.10" font-size="7.8" text-anchor="end" fill="#222" font-weight="normal" font-style="normal" font-family="Liberation Sans" stroke="#222" stroke-width="0.12" >6</text>
<line x1="25.90" y1="286.90" x2="28.50" y2="286.90" stroke="#888" stroke-width="0.6" />
<text x="24.00" y="289.40" font-size="7.8" text-anchor="end" fill="#222" font-weight="normal" font-style="normal" font-family="Liberation Sans" stroke="#222" stroke-width="0.12" >8</text>
<line x1="25.90" y1="368.27" x2="27.30" y2="368.27" stroke="#888" stroke-width="0.5" />
<line x1="25.90" y1="362.85" x2="27.30" y2="362.85" stroke="#888" stroke-width="0.5" />
<line x1="25.90" y1="357.43" x2="27.30" y2="357.43" stroke="#888" stroke-width="0.5" />
<line x1="25.90" y1="346.57" x2="27.30" y2="346.57" stroke="#888" stroke-width="0.5" />
<line x1="25.90" y1="341.15" x2="27.30" y2="341.15" stroke="#888" stroke-width="0.5" />
<line x1="25.90" y1="335.72" x2="27.30" y2="335.72" stroke="#888" stroke-width="0.5" />
<line x1="25.90" y1="324.88" x2="27.30" y2="324.88" stroke="#888" stroke-width="0.5" />
<line x1="25.90" y1="319.45" x2="27.30" y2="319.45" stroke="#888" stroke-width="0.5" />
<line x1="25.90" y1="314.02" x2="27.30" y2="314.02" stroke="#888" stroke-width="0.5" />
<line x1="25.90" y1="303.17" x2="27.30" y2="303.17" stroke="#888" stroke-width="0.5" />
<line x1="25.90" y1="297.75" x2="27.30" y2="297.75" stroke="#888" stroke-width="0.5" />
<line x1="25.90" y1="292.32" x2="27.30" y2="292.32" stroke="#888" stroke-width="0.5" />
<line x1="25.90" y1="281.47" x2="27.30" y2="281.47" stroke="#888" stroke-width="0.5" />
<text x="23.40" y="275.40" font-size="7.2" text-anchor="start" fill="#222" font-weight="normal" font-style="normal" font-family="Liberation Sans" stroke="#222" stroke-width="0.1" >×</text>
<text x="29.60" y="275.60" font-size="6.6" text-anchor="start" fill="#222" font-weight="normal" font-style="normal" font-family="Liberation Sans" stroke="#222" stroke-width="0.15" >10</text>
<text x="37.60" y="271.60" font-size="4.8" text-anchor="start" fill="#555" font-weight="normal" font-style="normal" font-family="Liberation Sans" >15</text>
<text x="109.60" y="389.80" font-size="8.6" text-anchor="middle" fill="#222" font-weight="normal" font-style="normal" font-family="Liberation Sans" stroke="#222" stroke-width="0.12" textLength="29.0" lengthAdjust="spacingAndGlyphs" >Time (h)</text>
<text x="0.00" y="0.00" font-size="7.6" text-anchor="middle" fill="#222" font-weight="normal" font-style="normal" font-family="Liberation Sans" stroke="#222" stroke-width="0.1" textLength="82.6" lengthAdjust="spacingAndGlyphs" transform="translate(7.9,322.9) rotate(-90)">Total Metabolite Conc.</text>
<text x="0.00" y="0.00" font-size="7.2" text-anchor="middle" fill="#222" font-weight="normal" font-style="normal" font-family="Liberation Sans" stroke="#222" stroke-width="0.1" textLength="35.2" lengthAdjust="spacingAndGlyphs" transform="translate(16.8,323.0) rotate(-90)">(arb. units)</text>
<path d="M25.9,373.7 L26.6,373.7 L27.2,373.6 L27.9,373.6 L28.6,373.5 L29.2,373.5 L29.9,373.4 L30.6,373.4 L31.2,373.3 L31.9,373.2 L32.5,373.2 L33.2,373.1 L33.9,373.0 L34.5,373.0 L35.2,372.9 L35.9,372.8 L36.5,372.7 L37.2,372.6 L37.9,372.6 L38.5,372.5 L39.2,372.4 L39.9,372.3 L40.5,372.2 L41.2,372.1 L41.8,372.0 L42.5,371.8 L43.2,371.7 L43.8,371.6 L44.5,371.5 L45.2,371.3 L45.8,371.2 L46.5,371.0 L47.2,370.9 L47.8,370.7 L48.5,370.6 L49.2,370.4 L49.8,370.2 L50.5,370.0 L51.2,369.8 L51.8,369.6 L52.5,369.4 L53.1,369.2 L53.8,369.0 L54.5,368.7 L55.1,368.5 L55.8,368.2 L56.5,368.0 L57.1,367.7 L57.8,367.4 L58.5,367.1 L59.1,366.8 L59.8,366.5 L60.5,366.1 L61.1,365.8 L61.8,365.4 L62.4,365.0 L63.1,364.6 L63.8,364.2 L64.4,363.8 L65.1,363.3 L65.8,362.9 L66.4,362.4 L67.1,361.9 L67.8,361.4 L68.4,360.8 L69.1,360.2 L69.8,359.6 L70.4,359.0 L71.1,358.4 L71.8,357.7 L72.4,357.0 L73.1,356.3 L73.7,355.5 L74.4,354.8 L75.1,353.9 L75.7,353.1 L76.4,352.2 L77.1,351.3 L77.7,350.3 L78.4,349.3 L79.1,348.3 L79.7,347.2 L80.4,346.1 L81.1,344.9 L81.7,343.7 L82.4,342.4 L83.0,341.1 L83.7,339.7 L84.4,338.3 L85.0,336.8 L85.7,335.2 L86.4,333.6 L87.0,332.0 L87.7,330.2 L88.4,328.4 L89.0,326.5 L89.7,324.5 L90.4,322.5 L91.0,320.3 L91.7,318.1 L92.3,315.8 L93.0,313.4 L93.7,310.9 L94.3,308.3 L95.0,305.6 L95.7,302.8 L96.3,299.8 L97.0,299.8 L97.7,299.8 L98.3,299.8 L99.0,299.8 L99.7,299.8 L100.3,299.8 L101.0,299.8 L101.7,299.8 L102.3,299.8 L103.0,299.8 L103.6,299.8 L104.3,299.8 L105.0,299.8 L105.6,299.8 L106.3,299.8 L107.0,299.8 L107.6,299.8 L108.3,299.8 L109.0,299.8 L109.6,299.8 L110.3,299.8 L111.0,299.8 L111.6,299.8 L112.3,299.8 L112.9,299.8 L113.6,299.8 L114.3,299.8 L114.9,299.8 L115.6,299.8 L116.3,299.8 L116.9,299.8 L117.6,299.8 L118.3,299.8 L118.9,299.8 L119.6,299.8 L120.3,299.8 L120.9,299.8 L121.6,299.8 L122.3,299.8 L122.9,299.8 L123.6,299.8 L124.2,299.8 L124.9,299.8 L125.6,299.8 L126.2,299.8 L126.9,299.8 L127.6,299.8 L128.2,299.8 L128.9,299.8 L129.6,299.8 L130.2,299.8 L130.9,299.8 L131.6,299.8 L132.2,299.8 L132.9,299.8 L133.5,299.8 L134.2,299.8 L134.9,299.8 L135.5,299.8 L136.2,299.8 L136.9,299.8 L137.5,299.8 L138.2,299.8 L138.9,299.8 L139.5,299.8 L140.2,299.8 L140.9,299.8 L141.5,299.8 L142.2,299.8 L142.9,299.8 L143.5,299.8 L144.2,299.8 L144.8,299.8 L145.5,299.8 L146.2,299.8 L146.8,299.8 L147.5,299.8 L148.2,299.8 L148.8,299.8 L149.5,299.8 L150.2,299.8 L150.8,299.8 L151.5,299.8 L152.2,299.8 L152.8,299.8 L153.5,299.8 L154.1,299.8 L154.8,299.8 L155.5,299.8 L156.1,299.8 L156.8,299.8 L157.5,299.8 L158.1,299.8 L158.8,299.8 L159.5,299.8 L160.1,299.8 L160.8,299.8 L161.5,299.8 L162.1,299.8 L162.8,299.8 L163.5,299.8 L164.1,299.8 L164.8,299.8 L165.4,299.8 L166.1,299.8 L166.8,299.8 L167.4,299.8 L168.1,299.8 L168.8,299.8 L169.4,299.8 L170.1,299.8 L170.8,299.8 L171.4,299.8 L172.1,299.8 L172.8,299.8 L173.4,299.8 L174.1,299.8 L174.7,299.8 L175.4,299.8 L176.1,299.8 L176.7,299.8 L177.4,299.8 L178.1,299.8 L178.7,299.8 L179.4,299.8 L180.1,299.8 L180.7,299.8 L181.4,299.8 L182.1,299.8 L182.7,299.8 L183.4,299.8 L184.1,299.8 L184.7,299.8 L185.4,299.8" stroke="#d6e6b6" stroke-width="1.5" fill="none" stroke-linejoin="round" clip-path="url(#cg)"/>
<path d="M25.9,373.7 L26.6,373.7 L27.2,373.6 L27.9,373.6 L28.6,373.5 L29.2,373.5 L29.9,373.4 L30.6,373.4 L31.2,373.3 L31.9,373.3 L32.5,373.2 L33.2,373.1 L33.9,373.1 L34.5,373.0 L35.2,372.9 L35.9,372.9 L36.5,372.8 L37.2,372.7 L37.9,372.6 L38.5,372.6 L39.2,372.5 L39.9,372.4 L40.5,372.3 L41.2,372.2 L41.8,372.1 L42.5,372.0 L43.2,371.9 L43.8,371.8 L44.5,371.6 L45.2,371.5 L45.8,371.4 L46.5,371.3 L47.2,371.1 L47.8,371.0 L48.5,370.8 L49.2,370.7 L49.8,370.5 L50.5,370.3 L51.2,370.2 L51.8,370.0 L52.5,369.8 L53.1,369.6 L53.8,369.4 L54.5,369.2 L55.1,368.9 L55.8,368.7 L56.5,368.5 L57.1,368.2 L57.8,368.0 L58.5,367.7 L59.1,367.4 L59.8,367.1 L60.5,366.8 L61.1,366.5 L61.8,366.2 L62.4,365.8 L63.1,365.5 L63.8,365.1 L64.4,364.7 L65.1,364.3 L65.8,363.9 L66.4,363.5 L67.1,363.0 L67.8,362.6 L68.4,362.1 L69.1,361.6 L69.8,361.1 L70.4,360.5 L71.1,360.0 L71.8,359.4 L72.4,358.8 L73.1,358.1 L73.7,357.5 L74.4,356.8 L75.1,356.1 L75.7,355.3 L76.4,354.6 L77.1,353.8 L77.7,352.9 L78.4,352.0 L79.1,351.1 L79.7,350.2 L80.4,349.2 L81.1,348.2 L81.7,347.2 L82.4,346.1 L83.0,344.9 L83.7,343.7 L84.4,342.5 L85.0,341.2 L85.7,339.9 L86.4,338.5 L87.0,337.1 L87.7,335.6 L88.4,334.0 L89.0,332.4 L89.7,330.7 L90.4,328.9 L91.0,327.1 L91.7,325.2 L92.3,323.3 L93.0,321.2 L93.7,319.1 L94.3,316.9 L95.0,314.6 L95.7,312.2 L96.3,309.7 L97.0,307.1 L97.7,304.4 L98.3,301.6 L99.0,298.7 L99.7,295.7 L100.3,295.7 L101.0,295.7 L101.7,295.7 L102.3,295.7 L103.0,295.7 L103.6,295.7 L104.3,295.7 L105.0,295.7 L105.6,295.7 L106.3,295.7 L107.0,295.7 L107.6,295.7 L108.3,295.7 L109.0,295.7 L109.6,295.7 L110.3,295.7 L111.0,295.7 L111.6,295.7 L112.3,295.7 L112.9,295.7 L113.6,295.7 L114.3,295.7 L114.9,295.7 L115.6,295.7 L116.3,295.7 L116.9,295.7 L117.6,295.7 L118.3,295.7 L118.9,295.7 L119.6,295.7 L120.3,295.7 L120.9,295.7 L121.6,295.7 L122.3,295.7 L122.9,295.7 L123.6,295.7 L124.2,295.7 L124.9,295.7 L125.6,295.7 L126.2,295.7 L126.9,295.7 L127.6,295.7 L128.2,295.7 L128.9,295.7 L129.6,295.7 L130.2,295.7 L130.9,295.7 L131.6,295.7 L132.2,295.7 L132.9,295.7 L133.5,295.7 L134.2,295.7 L134.9,295.7 L135.5,295.7 L136.2,295.7 L136.9,295.7 L137.5,295.7 L138.2,295.7 L138.9,295.7 L139.5,295.7 L140.2,295.7 L140.9,295.7 L141.5,295.7 L142.2,295.7 L142.9,295.7 L143.5,295.7 L144.2,295.7 L144.8,295.7 L145.5,295.7 L146.2,295.7 L146.8,295.7 L147.5,295.7 L148.2,295.7 L148.8,295.7 L149.5,295.7 L150.2,295.7 L150.8,295.7 L151.5,295.7 L152.2,295.7 L152.8,295.7 L153.5,295.7 L154.1,295.7 L154.8,295.7 L155.5,295.7 L156.1,295.7 L156.8,295.7 L157.5,295.7 L158.1,295.7 L158.8,295.7 L159.5,295.7 L160.1,295.7 L160.8,295.7 L161.5,295.7 L162.1,295.7 L162.8,295.7 L163.5,295.7 L164.1,295.7 L164.8,295.7 L165.4,295.7 L166.1,295.7 L166.8,295.7 L167.4,295.7 L168.1,295.7 L168.8,295.7 L169.4,295.7 L170.1,295.7 L170.8,295.7 L171.4,295.7 L172.1,295.7 L172.8,295.7 L173.4,295.7 L174.1,295.7 L174.7,295.7 L175.4,295.7 L176.1,295.7 L176.7,295.7 L177.4,295.7 L178.1,295.7 L178.7,295.7 L179.4,295.7 L180.1,295.7 L180.7,295.7 L181.4,295.7 L182.1,295.7 L182.7,295.7 L183.4,295.7 L184.1,295.7 L184.7,295.7 L185.4,295.7" stroke="#c5dca3" stroke-width="1.5" fill="none" stroke-linejoin="round" clip-path="url(#cg)"/>
<path d="M25.9,373.7 L26.6,373.7 L27.2,373.6 L27.9,373.6 L28.6,373.5 L29.2,373.5 L29.9,373.4 L30.6,373.4 L31.2,373.3 L31.9,373.3 L32.5,373.2 L33.2,373.2 L33.9,373.1 L34.5,373.0 L35.2,373.0 L35.9,372.9 L36.5,372.8 L37.2,372.7 L37.9,372.7 L38.5,372.6 L39.2,372.5 L39.9,372.4 L40.5,372.3 L41.2,372.2 L41.8,372.1 L42.5,372.0 L43.2,371.9 L43.8,371.8 L44.5,371.7 L45.2,371.6 L45.8,371.5 L46.5,371.3 L47.2,371.2 L47.8,371.1 L48.5,370.9 L49.2,370.8 L49.8,370.6 L50.5,370.4 L51.2,370.3 L51.8,370.1 L52.5,369.9 L53.1,369.7 L53.8,369.5 L54.5,369.3 L55.1,369.1 L55.8,368.9 L56.5,368.7 L57.1,368.5 L57.8,368.2 L58.5,368.0 L59.1,367.7 L59.8,367.4 L60.5,367.1 L61.1,366.8 L61.8,366.5 L62.4,366.2 L63.1,365.9 L63.8,365.5 L64.4,365.2 L65.1,364.8 L65.8,364.4 L66.4,364.0 L67.1,363.6 L67.8,363.2 L68.4,362.7 L69.1,362.3 L69.8,361.8 L70.4,361.3 L71.1,360.8 L71.8,360.2 L72.4,359.7 L73.1,359.1 L73.7,358.5 L74.4,357.8 L75.1,357.2 L75.7,356.5 L76.4,355.8 L77.1,355.0 L77.7,354.3 L78.4,353.5 L79.1,352.7 L79.7,351.8 L80.4,350.9 L81.1,350.0 L81.7,349.0 L82.4,348.0 L83.0,347.0 L83.7,345.9 L84.4,344.8 L85.0,343.7 L85.7,342.5 L86.4,341.2 L87.0,339.9 L87.7,338.6 L88.4,337.2 L89.0,335.7 L89.7,334.2 L90.4,332.6 L91.0,331.0 L91.7,329.3 L92.3,327.5 L93.0,325.7 L93.7,323.8 L94.3,321.8 L95.0,319.8 L95.7,317.6 L96.3,315.4 L97.0,313.1 L97.7,310.7 L98.3,308.3 L99.0,305.7 L99.7,303.0 L100.3,300.2 L101.0,297.4 L101.7,294.4 L102.3,291.2 L103.0,291.2 L103.6,291.2 L104.3,291.2 L105.0,291.2 L105.6,291.2 L106.3,291.2 L107.0,291.2 L107.6,291.2 L108.3,291.2 L109.0,291.2 L109.6,291.2 L110.3,291.2 L111.0,291.2 L111.6,291.2 L112.3,291.2 L112.9,291.2 L113.6,291.2 L114.3,291.2 L114.9,291.2 L115.6,291.2 L116.3,291.2 L116.9,291.2 L117.6,291.2 L118.3,291.2 L118.9,291.2 L119.6,291.2 L120.3,291.2 L120.9,291.2 L121.6,291.2 L122.3,291.2 L122.9,291.2 L123.6,291.2 L124.2,291.2 L124.9,291.2 L125.6,291.2 L126.2,291.2 L126.9,291.2 L127.6,291.2 L128.2,291.2 L128.9,291.2 L129.6,291.2 L130.2,291.2 L130.9,291.2 L131.6,291.2 L132.2,291.2 L132.9,291.2 L133.5,291.2 L134.2,291.2 L134.9,291.2 L135.5,291.2 L136.2,291.2 L136.9,291.2 L137.5,291.2 L138.2,291.2 L138.9,291.2 L139.5,291.2 L140.2,291.2 L140.9,291.2 L141.5,291.2 L142.2,291.2 L142.9,291.2 L143.5,291.2 L144.2,291.2 L144.8,291.2 L145.5,291.2 L146.2,291.2 L146.8,291.2 L147.5,291.2 L148.2,291.2 L148.8,291.2 L149.5,291.2 L150.2,291.2 L150.8,291.2 L151.5,291.2 L152.2,291.2 L152.8,291.2 L153.5,291.2 L154.1,291.2 L154.8,291.2 L155.5,291.2 L156.1,291.2 L156.8,291.2 L157.5,291.2 L158.1,291.2 L158.8,291.2 L159.5,291.2 L160.1,291.2 L160.8,291.2 L161.5,291.2 L162.1,291.2 L162.8,291.2 L163.5,291.2 L164.1,291.2 L164.8,291.2 L165.4,291.2 L166.1,291.2 L166.8,291.2 L167.4,291.2 L168.1,291.2 L168.8,291.2 L169.4,291.2 L170.1,291.2 L170.8,291.2 L171.4,291.2 L172.1,291.2 L172.8,291.2 L173.4,291.2 L174.1,291.2 L174.7,291.2 L175.4,291.2 L176.1,291.2 L176.7,291.2 L177.4,291.2 L178.1,291.2 L178.7,291.2 L179.4,291.2 L180.1,291.2 L180.7,291.2 L181.4,291.2 L182.1,291.2 L182.7,291.2 L183.4,291.2 L184.1,291.2 L184.7,291.2 L185.4,291.2" stroke="#a9d07f" stroke-width="1.5" fill="none" stroke-linejoin="round" clip-path="url(#cg)"/>
<path d="M25.9,373.7 L26.6,373.7 L27.2,373.6 L27.9,373.6 L28.6,373.5 L29.2,373.5 L29.9,373.4 L30.6,373.4 L31.2,373.3 L31.9,373.3 L32.5,373.2 L33.2,373.2 L33.9,373.1 L34.5,373.1 L35.2,373.0 L35.9,372.9 L36.5,372.9 L37.2,372.8 L37.9,372.7 L38.5,372.6 L39.2,372.6 L39.9,372.5 L40.5,372.4 L41.2,372.3 L41.8,372.2 L42.5,372.1 L43.2,372.0 L43.8,371.9 L44.5,371.8 L45.2,371.7 L45.8,371.6 L46.5,371.5 L47.2,371.3 L47.8,371.2 L48.5,371.1 L49.2,370.9 L49.8,370.8 L50.5,370.6 L51.2,370.5 L51.8,370.3 L52.5,370.2 L53.1,370.0 L53.8,369.8 L54.5,369.6 L55.1,369.4 L55.8,369.2 L56.5,369.0 L57.1,368.8 L57.8,368.6 L58.5,368.3 L59.1,368.1 L59.8,367.9 L60.5,367.6 L61.1,367.3 L61.8,367.0 L62.4,366.7 L63.1,366.4 L63.8,366.1 L64.4,365.8 L65.1,365.5 L65.8,365.1 L66.4,364.8 L67.1,364.4 L67.8,364.0 L68.4,363.6 L69.1,363.2 L69.8,362.7 L70.4,362.3 L71.1,361.8 L71.8,361.3 L72.4,360.8 L73.1,360.3 L73.7,359.7 L74.4,359.1 L75.1,358.5 L75.7,357.9 L76.4,357.3 L77.1,356.6 L77.7,356.0 L78.4,355.2 L79.1,354.5 L79.7,353.7 L80.4,352.9 L81.1,352.1 L81.7,351.3 L82.4,350.4 L83.0,349.4 L83.7,348.5 L84.4,347.5 L85.0,346.5 L85.7,345.4 L86.4,344.3 L87.0,343.1 L87.7,341.9 L88.4,340.7 L89.0,339.4 L89.7,338.0 L90.4,336.7 L91.0,335.2 L91.7,333.7 L92.3,332.2 L93.0,330.5 L93.7,328.9 L94.3,327.1 L95.0,325.3 L95.7,323.5 L96.3,321.5 L97.0,319.5 L97.7,317.4 L98.3,315.2 L99.0,313.0 L99.7,310.6 L100.3,308.2 L101.0,305.7 L101.7,303.1 L102.3,300.3 L103.0,297.5 L103.6,294.6 L104.3,291.6 L105.0,288.4 L105.6,287.4 L106.3,287.4 L107.0,287.4 L107.6,287.4 L108.3,287.4 L109.0,287.4 L109.6,287.4 L110.3,287.4 L111.0,287.4 L111.6,287.4 L112.3,287.4 L112.9,287.4 L113.6,287.4 L114.3,287.4 L114.9,287.4 L115.6,287.4 L116.3,287.4 L116.9,287.4 L117.6,287.4 L118.3,287.4 L118.9,287.4 L119.6,287.4 L120.3,287.4 L120.9,287.4 L121.6,287.4 L122.3,287.4 L122.9,287.4 L123.6,287.4 L124.2,287.4 L124.9,287.4 L125.6,287.4 L126.2,287.4 L126.9,287.4 L127.6,287.4 L128.2,287.4 L128.9,287.4 L129.6,287.4 L130.2,287.4 L130.9,287.4 L131.6,287.4 L132.2,287.4 L132.9,287.4 L133.5,287.4 L134.2,287.4 L134.9,287.4 L135.5,287.4 L136.2,287.4 L136.9,287.4 L137.5,287.4 L138.2,287.4 L138.9,287.4 L139.5,287.4 L140.2,287.4 L140.9,287.4 L141.5,287.4 L142.2,287.4 L142.9,287.4 L143.5,287.4 L144.2,287.4 L144.8,287.4 L145.5,287.4 L146.2,287.4 L146.8,287.4 L147.5,287.4 L148.2,287.4 L148.8,287.4 L149.5,287.4 L150.2,287.4 L150.8,287.4 L151.5,287.4 L152.2,287.4 L152.8,287.4 L153.5,287.4 L154.1,287.4 L154.8,287.4 L155.5,287.4 L156.1,287.4 L156.8,287.4 L157.5,287.4 L158.1,287.4 L158.8,287.4 L159.5,287.4 L160.1,287.4 L160.8,287.4 L161.5,287.4 L162.1,287.4 L162.8,287.4 L163.5,287.4 L164.1,287.4 L164.8,287.4 L165.4,287.4 L166.1,287.4 L166.8,287.4 L167.4,287.4 L168.1,287.4 L168.8,287.4 L169.4,287.4 L170.1,287.4 L170.8,287.4 L171.4,287.4 L172.1,287.4 L172.8,287.4 L173.4,287.4 L174.1,287.4 L174.7,287.4 L175.4,287.4 L176.1,287.4 L176.7,287.4 L177.4,287.4 L178.1,287.4 L178.7,287.4 L179.4,287.4 L180.1,287.4 L180.7,287.4 L181.4,287.4 L182.1,287.4 L182.7,287.4 L183.4,287.4 L184.1,287.4 L184.7,287.4 L185.4,287.4" stroke="#8cc466" stroke-width="1.5" fill="none" stroke-linejoin="round" clip-path="url(#cg)"/>
<path d="M25.9,373.7 L26.6,373.7 L27.2,373.6 L27.9,373.6 L28.6,373.5 L29.2,373.5 L29.9,373.5 L30.6,373.4 L31.2,373.4 L31.9,373.3 L32.5,373.3 L33.2,373.2 L33.9,373.2 L34.5,373.1 L35.2,373.0 L35.9,373.0 L36.5,372.9 L37.2,372.9 L37.9,372.8 L38.5,372.7 L39.2,372.6 L39.9,372.6 L40.5,372.5 L41.2,372.4 L41.8,372.3 L42.5,372.2 L43.2,372.1 L43.8,372.1 L44.5,372.0 L45.2,371.9 L45.8,371.7 L46.5,371.6 L47.2,371.5 L47.8,371.4 L48.5,371.3 L49.2,371.2 L49.8,371.0 L50.5,370.9 L51.2,370.8 L51.8,370.6 L52.5,370.5 L53.1,370.3 L53.8,370.1 L54.5,370.0 L55.1,369.8 L55.8,369.6 L56.5,369.4 L57.1,369.2 L57.8,369.0 L58.5,368.8 L59.1,368.6 L59.8,368.4 L60.5,368.1 L61.1,367.9 L61.8,367.6 L62.4,367.4 L63.1,367.1 L63.8,366.8 L64.4,366.5 L65.1,366.2 L65.8,365.9 L66.4,365.6 L67.1,365.2 L67.8,364.9 L68.4,364.5 L69.1,364.2 L69.8,363.8 L70.4,363.4 L71.1,362.9 L71.8,362.5 L72.4,362.1 L73.1,361.6 L73.7,361.1 L74.4,360.6 L75.1,360.1 L75.7,359.5 L76.4,359.0 L77.1,358.4 L77.7,357.8 L78.4,357.1 L79.1,356.5 L79.7,355.8 L80.4,355.1 L81.1,354.4 L81.7,353.6 L82.4,352.8 L83.0,352.0 L83.7,351.2 L84.4,350.3 L85.0,349.4 L85.7,348.5 L86.4,347.5 L87.0,346.5 L87.7,345.4 L88.4,344.4 L89.0,343.2 L89.7,342.1 L90.4,340.8 L91.0,339.6 L91.7,338.3 L92.3,336.9 L93.0,335.5 L93.7,334.1 L94.3,332.6 L95.0,331.0 L95.7,329.4 L96.3,327.7 L97.0,325.9 L97.7,324.1 L98.3,322.2 L99.0,320.3 L99.7,318.3 L100.3,316.2 L101.0,314.0 L101.7,311.7 L102.3,309.4 L103.0,307.0 L103.6,304.5 L104.3,301.9 L105.0,299.1 L105.6,296.3 L106.3,293.4 L107.0,290.4 L107.6,287.3 L108.3,284.0 L109.0,282.0 L109.6,282.0 L110.3,282.0 L111.0,282.0 L111.6,282.0 L112.3,282.0 L112.9,282.0 L113.6,282.0 L114.3,282.0 L114.9,282.0 L115.6,282.0 L116.3,282.0 L116.9,282.0 L117.6,282.0 L118.3,282.0 L118.9,282.0 L119.6,282.0 L120.3,282.0 L120.9,282.0 L121.6,282.0 L122.3,282.0 L122.9,282.0 L123.6,282.0 L124.2,282.0 L124.9,282.0 L125.6,282.0 L126.2,282.0 L126.9,282.0 L127.6,282.0 L128.2,282.0 L128.9,282.0 L129.6,282.0 L130.2,282.0 L130.9,282.0 L131.6,282.0 L132.2,282.0 L132.9,282.0 L133.5,282.0 L134.2,282.0 L134.9,282.0 L135.5,282.0 L136.2,282.0 L136.9,282.0 L137.5,282.0 L138.2,282.0 L138.9,282.0 L139.5,282.0 L140.2,282.0 L140.9,282.0 L141.5,282.0 L142.2,282.0 L142.9,282.0 L143.5,282.0 L144.2,282.0 L144.8,282.0 L145.5,282.0 L146.2,282.0 L146.8,282.0 L147.5,282.0 L148.2,282.0 L148.8,282.0 L149.5,282.0 L150.2,282.0 L150.8,282.0 L151.5,282.0 L152.2,282.0 L152.8,282.0 L153.5,282.0 L154.1,282.0 L154.8,282.0 L155.5,282.0 L156.1,282.0 L156.8,282.0 L157.5,282.0 L158.1,282.0 L158.8,282.0 L159.5,282.0 L160.1,282.0 L160.8,282.0 L161.5,282.0 L162.1,282.0 L162.8,282.0 L163.5,282.0 L164.1,282.0 L164.8,282.0 L165.4,282.0 L166.1,282.0 L166.8,282.0 L167.4,282.0 L168.1,282.0 L168.8,282.0 L169.4,282.0 L170.1,282.0 L170.8,282.0 L171.4,282.0 L172.1,282.0 L172.8,282.0 L173.4,282.0 L174.1,282.0 L174.7,282.0 L175.4,282.0 L176.1,282.0 L176.7,282.0 L177.4,282.0 L178.1,282.0 L178.7,282.0 L179.4,282.0 L180.1,282.0 L180.7,282.0 L181.4,282.0 L182.1,282.0 L182.7,282.0 L183.4,282.0 L184.1,282.0 L184.7,282.0 L185.4,282.0" stroke="#6db544" stroke-width="1.5" fill="none" stroke-linejoin="round" clip-path="url(#cg)"/>
<path d="M25.9,373.7 L26.6,373.7 L27.2,373.7 L27.9,373.7 L28.6,373.7 L29.2,373.6 L29.9,373.6 L30.6,373.6 L31.2,373.5 L31.9,373.5 L32.5,373.5 L33.2,373.4 L33.9,373.4 L34.5,373.3 L35.2,373.3 L35.9,373.2 L36.5,373.2 L37.2,373.1 L37.9,373.1 L38.5,373.0 L39.2,372.9 L39.9,372.8 L40.5,372.7 L41.2,372.6 L41.8,372.5 L42.5,372.3 L43.2,372.2 L43.8,372.1 L44.5,371.9 L45.2,371.8 L45.8,371.6 L46.5,371.4 L47.2,371.2 L47.8,371.1 L48.5,370.9 L49.2,370.7 L49.8,370.4 L50.5,370.2 L51.2,369.9 L51.8,369.6 L52.5,369.2 L53.1,368.9 L53.8,368.5 L54.5,368.1 L55.1,367.7 L55.8,367.3 L56.5,366.8 L57.1,366.4 L57.8,365.9 L58.5,365.4 L59.1,364.9 L59.8,364.3 L60.5,363.7 L61.1,363.0 L61.8,362.3 L62.4,361.6 L63.1,360.8 L63.8,359.9 L64.4,359.0 L65.1,358.1 L65.8,357.2 L66.4,356.2 L67.1,355.2 L67.8,354.2 L68.4,353.1 L69.1,352.0 L69.8,350.8 L70.4,349.6 L71.1,348.3 L71.8,346.8 L72.4,345.3 L73.1,343.6 L73.7,341.7 L74.4,339.5 L75.1,336.9 L75.7,334.0 L76.4,330.8 L77.1,327.4 L77.7,325.6 L78.4,325.6 L79.1,325.6 L79.7,325.6 L80.4,325.6 L81.1,325.6 L81.7,325.6 L82.4,325.6 L83.0,325.6 L83.7,325.6 L84.4,325.6 L85.0,325.6 L85.7,325.6 L86.4,325.6 L87.0,325.6 L87.7,325.6 L88.4,325.6 L89.0,325.6 L89.7,325.6 L90.4,325.6 L91.0,325.6 L91.7,325.6 L92.3,325.6 L93.0,325.6 L93.7,325.6 L94.3,325.6 L95.0,325.6 L95.7,325.6 L96.3,325.6 L97.0,325.6 L97.7,325.6 L98.3,325.6 L99.0,325.6 L99.7,325.6 L100.3,325.6 L101.0,325.6 L101.7,325.6 L102.3,325.6 L103.0,325.6 L103.6,325.6 L104.3,325.6 L105.0,325.6 L105.6,325.6 L106.3,325.6 L107.0,325.6 L107.6,325.6 L108.3,325.6 L109.0,325.6 L109.6,325.6 L110.3,325.6 L111.0,325.6 L111.6,325.6 L112.3,325.6 L112.9,325.6 L113.6,325.6 L114.3,325.6 L114.9,325.6 L115.6,325.6 L116.3,325.6 L116.9,325.6 L117.6,325.6 L118.3,325.6 L118.9,325.6 L119.6,325.6 L120.3,325.6 L120.9,325.6 L121.6,325.6 L122.3,325.6 L122.9,325.6 L123.6,325.6 L124.2,325.6 L124.9,325.6 L125.6,325.6 L126.2,325.6 L126.9,325.6 L127.6,325.6 L128.2,325.6 L128.9,325.6 L129.6,325.6 L130.2,325.6 L130.9,325.6 L131.6,325.6 L132.2,325.6 L132.9,325.6 L133.5,325.6 L134.2,325.6 L134.9,325.6 L135.5,325.6 L136.2,325.6 L136.9,325.6 L137.5,325.6 L138.2,325.6 L138.9,325.6 L139.5,325.6 L140.2,325.6 L140.9,325.6 L141.5,325.6 L142.2,325.6 L142.9,325.6 L143.5,325.6 L144.2,325.6 L144.8,325.6 L145.5,325.6 L146.2,325.6 L146.8,325.6 L147.5,325.6 L148.2,325.6 L148.8,325.6 L149.5,325.6 L150.2,325.6 L150.8,325.6 L151.5,325.6 L152.2,325.6 L152.8,325.6 L153.5,325.6 L154.1,325.6 L154.8,325.6 L155.5,325.6 L156.1,325.6 L156.8,325.6 L157.5,325.6 L158.1,325.6 L158.8,325.6 L159.5,325.6 L160.1,325.6 L160.8,325.6 L161.5,325.6 L162.1,325.6 L162.8,325.6 L163.5,325.6 L164.1,325.6 L164.8,325.6 L165.4,325.6 L166.1,325.6 L166.8,325.6 L167.4,325.6 L168.1,325.6 L168.8,325.6 L169.4,325.6 L170.1,325.6 L170.8,325.6 L171.4,325.6 L172.1,325.6 L172.8,325.6 L173.4,325.6 L174.1,325.6 L174.7,325.6 L175.4,325.6 L176.1,325.6 L176.7,325.6 L177.4,325.6 L178.1,325.6 L178.7,325.6 L179.4,325.6 L180.1,325.6 L180.7,325.6 L181.4,325.6 L182.1,325.6 L182.7,325.6 L183.4,325.6 L184.1,325.6 L184.7,325.6 L185.4,325.6" stroke="#000000" stroke-width="1.5" fill="none" stroke-linejoin="round" clip-path="url(#cg)"/>
<path d="M25.9,373.7 L26.6,373.7 L27.2,373.6 L27.9,373.6 L28.6,373.6 L29.2,373.6 L29.9,373.5 L30.6,373.5 L31.2,373.5 L31.9,373.4 L32.5,373.4 L33.2,373.4 L33.9,373.4 L34.5,373.3 L35.2,373.3 L35.9,373.3 L36.5,373.2 L37.2,373.2 L37.9,373.2 L38.5,373.1 L39.2,373.1 L39.9,373.0 L40.5,373.0 L41.2,373.0 L41.8,372.9 L42.5,372.9 L43.2,372.8 L43.8,372.8 L44.5,372.8 L45.2,372.7 L45.8,372.7 L46.5,372.6 L47.2,372.6 L47.8,372.5 L48.5,372.5 L49.2,372.4 L49.8,372.4 L50.5,372.4 L51.2,372.3 L51.8,372.3 L52.5,372.2 L53.1,372.1 L53.8,372.1 L54.5,372.0 L55.1,372.0 L55.8,371.9 L56.5,371.9 L57.1,371.8 L57.8,371.8 L58.5,371.7 L59.1,371.6 L59.8,371.6 L60.5,371.5 L61.1,371.4 L61.8,371.4 L62.4,371.3 L63.1,371.2 L63.8,371.2 L64.4,371.1 L65.1,371.0 L65.8,371.0 L66.4,370.9 L67.1,370.8 L67.8,370.7 L68.4,370.7 L69.1,370.6 L69.8,370.5 L70.4,370.4 L71.1,370.3 L71.8,370.2 L72.4,370.2 L73.1,370.1 L73.7,370.0 L74.4,369.9 L75.1,369.8 L75.7,369.7 L76.4,369.6 L77.1,369.5 L77.7,369.4 L78.4,369.3 L79.1,369.2 L79.7,369.1 L80.4,369.0 L81.1,368.9 L81.7,368.8 L82.4,368.7 L83.0,368.5 L83.7,368.4 L84.4,368.3 L85.0,368.2 L85.7,368.1 L86.4,367.9 L87.0,367.8 L87.7,367.7 L88.4,367.5 L89.0,367.4 L89.7,367.3 L90.4,367.1 L91.0,367.0 L91.7,366.9 L92.3,366.7 L93.0,366.6 L93.7,366.4 L94.3,366.3 L95.0,366.1 L95.7,365.9 L96.3,365.8 L97.0,365.6 L97.7,365.4 L98.3,365.3 L99.0,365.1 L99.7,364.9 L100.3,364.7 L101.0,364.6 L101.7,364.4 L102.3,364.2 L103.0,364.0 L103.6,363.8 L104.3,363.6 L105.0,363.4 L105.6,363.2 L106.3,363.0 L107.0,362.8 L107.6,362.5 L108.3,362.3 L109.0,362.1 L109.6,361.9 L110.3,361.6 L111.0,361.4 L111.6,361.2 L112.3,360.9 L112.9,360.7 L113.6,360.4 L114.3,360.1 L114.9,359.9 L115.6,359.6 L116.3,359.3 L116.9,359.1 L117.6,358.8 L118.3,358.5 L118.9,358.2 L119.6,357.9 L120.3,357.6 L120.9,357.3 L121.6,357.0 L122.3,356.7 L122.9,356.3 L123.6,356.0 L124.2,355.7 L124.9,355.3 L125.6,355.0 L126.2,354.6 L126.9,354.3 L127.6,353.9 L128.2,353.5 L128.9,353.2 L129.6,352.8 L130.2,352.4 L130.9,352.0 L131.6,351.6 L132.2,351.2 L132.9,350.7 L133.5,350.3 L134.2,349.9 L134.9,349.4 L135.5,349.0 L136.2,348.5 L136.9,348.1 L137.5,347.6 L138.2,347.1 L138.9,346.6 L139.5,346.1 L140.2,345.6 L140.9,345.1 L141.5,344.5 L142.2,344.0 L142.9,343.5 L143.5,342.9 L144.2,342.3 L144.8,341.8 L145.5,341.2 L146.2,340.6 L146.8,340.0 L147.5,339.4 L148.2,338.7 L148.8,338.1 L149.5,337.5 L150.2,336.8 L150.8,336.1 L151.5,335.4 L152.2,334.7 L152.8,334.0 L153.5,333.3 L154.1,332.6 L154.8,331.8 L155.5,331.1 L156.1,330.3 L156.8,329.5 L157.5,328.7 L158.1,327.9 L158.8,327.1 L159.5,326.2 L160.1,325.4 L160.8,324.5 L161.5,323.6 L162.1,322.7 L162.8,321.8 L163.5,320.9 L164.1,319.9 L164.8,318.9 L165.4,318.0 L166.1,317.0 L166.8,315.9 L167.4,314.9 L168.1,313.8 L168.8,312.8 L169.4,311.7 L170.1,310.6 L170.8,309.4 L171.4,308.3 L172.1,307.1 L172.8,305.9 L173.4,304.7 L174.1,303.5 L174.7,302.2 L175.4,300.9 L176.1,299.6 L176.7,298.3 L177.4,297.0 L178.1,295.6 L178.7,294.2 L179.4,292.8 L180.1,291.4 L180.7,289.9 L181.4,288.4 L182.1,286.9 L182.7,285.3 L183.4,283.8 L184.1,282.2 L184.7,280.5 L185.4,278.9" stroke="#4a8c3a" stroke-width="1.5" fill="none" stroke-linejoin="round" clip-path="url(#cg)"/>
<path d="M25.9,373.7 L26.6,373.7 L27.2,373.6 L27.9,373.6 L28.6,373.6 L29.2,373.6 L29.9,373.5 L30.6,373.5 L31.2,373.5 L31.9,373.5 L32.5,373.4 L33.2,373.4 L33.9,373.4 L34.5,373.3 L35.2,373.3 L35.9,373.3 L36.5,373.2 L37.2,373.2 L37.9,373.2 L38.5,373.1 L39.2,373.1 L39.9,373.1 L40.5,373.1 L41.2,373.0 L41.8,373.0 L42.5,372.9 L43.2,372.9 L43.8,372.9 L44.5,372.8 L45.2,372.8 L45.8,372.8 L46.5,372.7 L47.2,372.7 L47.8,372.7 L48.5,372.6 L49.2,372.6 L49.8,372.5 L50.5,372.5 L51.2,372.5 L51.8,372.4 L52.5,372.4 L53.1,372.3 L53.8,372.3 L54.5,372.3 L55.1,372.2 L55.8,372.2 L56.5,372.1 L57.1,372.1 L57.8,372.0 L58.5,372.0 L59.1,371.9 L59.8,371.9 L60.5,371.8 L61.1,371.8 L61.8,371.7 L62.4,371.7 L63.1,371.6 L63.8,371.6 L64.4,371.5 L65.1,371.5 L65.8,371.4 L66.4,371.4 L67.1,371.3 L67.8,371.3 L68.4,371.2 L69.1,371.2 L69.8,371.1 L70.4,371.1 L71.1,371.0 L71.8,370.9 L72.4,370.9 L73.1,370.8 L73.7,370.8 L74.4,370.7 L75.1,370.6 L75.7,370.6 L76.4,370.5 L77.1,370.4 L77.7,370.4 L78.4,370.3 L79.1,370.2 L79.7,370.2 L80.4,370.1 L81.1,370.0 L81.7,370.0 L82.4,369.9 L83.0,369.8 L83.7,369.8 L84.4,369.7 L85.0,369.6 L85.7,369.5 L86.4,369.5 L87.0,369.4 L87.7,369.3 L88.4,369.2 L89.0,369.1 L89.7,369.1 L90.4,369.0 L91.0,368.9 L91.7,368.8 L92.3,368.7 L93.0,368.7 L93.7,368.6 L94.3,368.5 L95.0,368.4 L95.7,368.3 L96.3,368.2 L97.0,368.1 L97.7,368.0 L98.3,367.9 L99.0,367.8 L99.7,367.7 L100.3,367.6 L101.0,367.5 L101.7,367.4 L102.3,367.3 L103.0,367.2 L103.6,367.1 L104.3,367.0 L105.0,366.9 L105.6,366.8 L106.3,366.7 L107.0,366.6 L107.6,366.5 L108.3,366.4 L109.0,366.3 L109.6,366.2 L110.3,366.0 L111.0,365.9 L111.6,365.8 L112.3,365.7 L112.9,365.6 L113.6,365.4 L114.3,365.3 L114.9,365.2 L115.6,365.1 L116.3,364.9 L116.9,364.8 L117.6,364.7 L118.3,364.5 L118.9,364.4 L119.6,364.3 L120.3,364.1 L120.9,364.0 L121.6,363.8 L122.3,363.7 L122.9,363.5 L123.6,363.4 L124.2,363.2 L124.9,363.1 L125.6,362.9 L126.2,362.8 L126.9,362.6 L127.6,362.5 L128.2,362.3 L128.9,362.1 L129.6,362.0 L130.2,361.8 L130.9,361.6 L131.6,361.5 L132.2,361.3 L132.9,361.1 L133.5,361.0 L134.2,360.8 L134.9,360.6 L135.5,360.4 L136.2,360.2 L136.9,360.0 L137.5,359.8 L138.2,359.7 L138.9,359.5 L139.5,359.3 L140.2,359.1 L140.9,358.9 L141.5,358.7 L142.2,358.5 L142.9,358.2 L143.5,358.0 L144.2,357.8 L144.8,357.6 L145.5,357.4 L146.2,357.2 L146.8,356.9 L147.5,356.7 L148.2,356.5 L148.8,356.3 L149.5,356.0 L150.2,355.8 L150.8,355.5 L151.5,355.3 L152.2,355.1 L152.8,354.8 L153.5,354.6 L154.1,354.3 L154.8,354.0 L155.5,353.8 L156.1,353.5 L156.8,353.2 L157.5,353.0 L158.1,352.7 L158.8,352.4 L159.5,352.1 L160.1,351.9 L160.8,351.6 L161.5,351.3 L162.1,351.0 L162.8,350.7 L163.5,350.4 L164.1,350.1 L164.8,349.8 L165.4,349.5 L166.1,349.1 L166.8,348.8 L167.4,348.5 L168.1,348.2 L168.8,347.8 L169.4,347.5 L170.1,347.2 L170.8,346.8 L171.4,346.5 L172.1,346.1 L172.8,345.8 L173.4,345.4 L174.1,345.0 L174.7,344.7 L175.4,344.3 L176.1,343.9 L176.7,343.5 L177.4,343.2 L178.1,342.8 L178.7,342.4 L179.4,342.0 L180.1,341.6 L180.7,341.1 L181.4,340.7 L182.1,340.3 L182.7,339.9 L183.4,339.5 L184.1,339.0 L184.7,338.6 L185.4,338.1" stroke="#2b5e22" stroke-width="1.5" fill="none" stroke-linejoin="round" clip-path="url(#cg)"/>
<line x1="196.30" y1="288.60" x2="206.80" y2="288.60" stroke="#333" stroke-width="1.3" />
<text x="209.00" y="290.80" font-size="6.5" text-anchor="start" fill="#222" font-weight="normal" font-style="normal" font-family="Liberation Sans" stroke="#222" stroke-width="0.12" >Open-loop</text>
<line x1="196.30" y1="300.60" x2="206.80" y2="300.60" stroke="#d6e6b6" stroke-width="1.3" />
<text x="210.70" y="302.94" font-size="6.9" text-anchor="start" fill="#222" font-weight="normal" font-style="normal" font-family="Liberation Sans" stroke="#222" stroke-width="0.12" >top99%</text>
<line x1="196.30" y1="313.00" x2="206.80" y2="313.00" stroke="#c5dca3" stroke-width="1.3" />
<text x="210.70" y="315.34" font-size="6.9" text-anchor="start" fill="#222" font-weight="normal" font-style="normal" font-family="Liberation Sans" stroke="#222" stroke-width="0.12" >top90%</text>
<line x1="196.30" y1="325.40" x2="206.80" y2="325.40" stroke="#a9d07f" stroke-width="1.3" />
<text x="210.70" y="327.74" font-size="6.9" text-anchor="start" fill="#222" font-weight="normal" font-style="normal" font-family="Liberation Sans" stroke="#222" stroke-width="0.12" >top50%</text>
<line x1="196.30" y1="338.00" x2="206.80" y2="338.00" stroke="#8cc466" stroke-width="1.3" />
<text x="210.70" y="340.34" font-size="6.9" text-anchor="start" fill="#222" font-weight="normal" font-style="normal" font-family="Liberation Sans" stroke="#222" stroke-width="0.12" >top10%</text>
<line x1="196.30" y1="350.30" x2="206.80" y2="350.30" stroke="#6db544" stroke-width="1.3" />
<text x="210.70" y="352.64" font-size="6.9" text-anchor="start" fill="#222" font-weight="normal" font-style="normal" font-family="Liberation Sans" stroke="#222" stroke-width="0.12" >top1%</text>
<line x1="196.30" y1="363.00" x2="206.80" y2="363.00" stroke="#4a8c3a" stroke-width="1.3" />
<text x="210.70" y="365.34" font-size="6.9" text-anchor="start" fill="#222" font-weight="normal" font-style="normal" font-family="Liberation Sans" stroke="#222" stroke-width="0.12" >10xMean</text>
<line x1="196.30" y1="375.00" x2="206.80" y2="375.00" stroke="#2b5e22" stroke-width="1.3" />
<text x="210.70" y="377.34" font-size="6.9" text-anchor="start" fill="#222" font-weight="normal" font-style="normal" font-family="Liberation Sans" stroke="#222" stroke-width="0.12" >20xMean</text>
<text x="245.00" y="264.80" font-size="9" text-anchor="start" fill="#000" font-weight="bold" font-style="normal" font-family="Liberation Sans" >h.</text>
<line x1="281.00" y1="384.30" x2="458.00" y2="384.30" stroke="#666" stroke-width="0.8" />
<line x1="281.00" y1="386.80" x2="281.00" y2="271.00" stroke="#666" stroke-width="0.8" />
<line x1="281.00" y1="384.30" x2="283.60" y2="384.30" stroke="#666" stroke-width="0.7" />
<text x="279.00" y="387.20" font-size="8.3" text-anchor="end" fill="#1a1a1a" font-weight="normal" font-style="normal" font-family="Liberation Sans" stroke="#1a1a1a" stroke-width="0.12" >0.0</text>
<line x1="281.00" y1="351.60" x2="283.60" y2="351.60" stroke="#666" stroke-width="0.7" />
<text x="279.00" y="354.50" font-size="8.3" text-anchor="end" fill="#1a1a1a" font-weight="normal" font-style="normal" font-family="Liberation Sans" stroke="#1a1a1a" stroke-width="0.12" >0.5</text>
<line x1="281.00" y1="318.90" x2="283.60" y2="318.90" stroke="#666" stroke-width="0.7" />
<text x="279.00" y="321.80" font-size="8.3" text-anchor="end" fill="#1a1a1a" font-weight="normal" font-style="normal" font-family="Liberation Sans" stroke="#1a1a1a" stroke-width="0.12" >1.0</text>
<line x1="281.00" y1="286.20" x2="283.60" y2="286.20" stroke="#666" stroke-width="0.7" />
<text x="279.00" y="289.10" font-size="8.3" text-anchor="end" fill="#1a1a1a" font-weight="normal" font-style="normal" font-family="Liberation Sans" stroke="#1a1a1a" stroke-width="0.12" >1.5</text>
<line x1="281.00" y1="377.76" x2="282.50" y2="377.76" stroke="#666" stroke-width="0.6" />
<line x1="281.00" y1="371.22" x2="282.50" y2="371.22" stroke="#666" stroke-width="0.6" />
<line x1="281.00" y1="364.68" x2="282.50" y2="364.68" stroke="#666" stroke-width="0.6" />
<line x1="281.00" y1="358.14" x2="282.50" y2="358.14" stroke="#666" stroke-width="0.6" />
<line x1="281.00" y1="345.06" x2="282.50" y2="345.06" stroke="#666" stroke-width="0.6" />
<line x1="281.00" y1="338.52" x2="282.50" y2="338.52" stroke="#666" stroke-width="0.6" />
<line x1="281.00" y1="331.98" x2="282.50" y2="331.98" stroke="#666" stroke-width="0.6" />
<line x1="281.00" y1="325.44" x2="282.50" y2="325.44" stroke="#666" stroke-width="0.6" />
<line x1="281.00" y1="312.36" x2="282.50" y2="312.36" stroke="#666" stroke-width="0.6" />
<line x1="281.00" y1="305.82" x2="282.50" y2="305.82" stroke="#666" stroke-width="0.6" />
<line x1="281.00" y1="299.28" x2="282.50" y2="299.28" stroke="#666" stroke-width="0.6" />
<line x1="281.00" y1="292.74" x2="282.50" y2="292.74" stroke="#666" stroke-width="0.6" />
<line x1="281.00" y1="279.66" x2="282.50" y2="279.66" stroke="#666" stroke-width="0.6" />
<line x1="281.00" y1="273.12" x2="282.50" y2="273.12" stroke="#666" stroke-width="0.6" />
<text x="0.00" y="0.00" font-size="7.5" text-anchor="middle" fill="#1a1a1a" font-weight="normal" font-style="normal" font-family="Liberation Sans" stroke="#1a1a1a" stroke-width="0.06" textLength="108.0" lengthAdjust="spacingAndGlyphs" transform="translate(265.2,329.0) rotate(-90)">Norm. Protein Titer (arb. units)</text>
<rect x="283.80" y="319.23" width="19.9" height="65.07" fill="#e2e9c6" stroke="#6a6a6a" stroke-width="0.7"/>
<rect x="305.60" y="294.18" width="19.9" height="90.12" fill="#c6d99d" stroke="#6a6a6a" stroke-width="0.7"/>
<rect x="327.40" y="289.47" width="19.9" height="94.83" fill="#a3c878" stroke="#6a6a6a" stroke-width="0.7"/>
<rect x="349.20" y="286.33" width="19.9" height="97.97" fill="#7bb64f" stroke="#6a6a6a" stroke-width="0.7"/>
<rect x="371.00" y="282.47" width="19.9" height="101.83" fill="#589442" stroke="#6a6a6a" stroke-width="0.7"/>
<rect x="392.80" y="277.17" width="19.9" height="107.13" fill="#4a8637" stroke="#6a6a6a" stroke-width="0.7"/>
<rect x="414.60" y="295.09" width="19.9" height="89.21" fill="#3a702f" stroke="#6a6a6a" stroke-width="0.7"/>
<rect x="436.40" y="352.25" width="19.9" height="32.05" fill="#2a5521" stroke="#6a6a6a" stroke-width="0.7"/>
<circle cx="316.50" cy="294.38" r="1.35" fill="#f4f4f4" stroke="#000" stroke-width="1.0"/>
<circle cx="316.50" cy="293.39" r="1.35" fill="#f4f4f4" stroke="#000" stroke-width="1.0"/>
<circle cx="316.50" cy="292.74" r="1.35" fill="#f4f4f4" stroke="#000" stroke-width="1.0"/>
<line x1="339.00" y1="290.12" x2="339.00" y2="286.85" stroke="#000" stroke-width="1.0" />
<line x1="337.00" y1="290.12" x2="341.00" y2="290.12" stroke="#000" stroke-width="0.9" />
<line x1="337.00" y1="286.85" x2="341.00" y2="286.85" stroke="#000" stroke-width="0.9" />
<circle cx="337.80" cy="290.78" r="1.35" fill="#f4f4f4" stroke="#000" stroke-width="1.0"/>
<circle cx="337.80" cy="288.82" r="1.35" fill="#f4f4f4" stroke="#000" stroke-width="1.0"/>
<circle cx="337.80" cy="286.85" r="1.35" fill="#f4f4f4" stroke="#000" stroke-width="1.0"/>
<line x1="360.20" y1="286.85" x2="360.20" y2="282.60" stroke="#000" stroke-width="1.0" />
<line x1="358.20" y1="286.85" x2="362.20" y2="286.85" stroke="#000" stroke-width="0.9" />
<line x1="358.20" y1="282.60" x2="362.20" y2="282.60" stroke="#000" stroke-width="0.9" />
<circle cx="359.00" cy="287.51" r="1.35" fill="#f4f4f4" stroke="#000" stroke-width="1.0"/>
<circle cx="359.00" cy="285.55" r="1.35" fill="#f4f4f4" stroke="#000" stroke-width="1.0"/>
<circle cx="359.00" cy="282.93" r="1.35" fill="#f4f4f4" stroke="#000" stroke-width="1.0"/>
<line x1="382.20" y1="283.58" x2="382.20" y2="279.01" stroke="#000" stroke-width="1.0" />
<line x1="380.20" y1="283.58" x2="384.20" y2="283.58" stroke="#000" stroke-width="0.9" />
<line x1="380.20" y1="279.01" x2="384.20" y2="279.01" stroke="#000" stroke-width="0.9" />
<circle cx="381.00" cy="284.24" r="1.35" fill="#f4f4f4" stroke="#000" stroke-width="1.0"/>
<circle cx="381.00" cy="281.62" r="1.35" fill="#f4f4f4" stroke="#000" stroke-width="1.0"/>
<circle cx="381.00" cy="278.35" r="1.35" fill="#f4f4f4" stroke="#000" stroke-width="1.0"/>
<line x1="402.70" y1="277.70" x2="402.70" y2="275.74" stroke="#000" stroke-width="1.0" />
<line x1="400.70" y1="277.70" x2="404.70" y2="277.70" stroke="#000" stroke-width="0.9" />
<line x1="400.70" y1="275.74" x2="404.70" y2="275.74" stroke="#000" stroke-width="0.9" />
<circle cx="401.50" cy="278.02" r="1.35" fill="#f4f4f4" stroke="#000" stroke-width="1.0"/>
<circle cx="401.50" cy="276.72" r="1.35" fill="#f4f4f4" stroke="#000" stroke-width="1.0"/>
<circle cx="401.50" cy="275.41" r="1.35" fill="#f4f4f4" stroke="#000" stroke-width="1.0"/>
<line x1="424.00" y1="299.93" x2="424.00" y2="288.82" stroke="#000" stroke-width="1.0" />
<line x1="422.00" y1="299.93" x2="426.00" y2="299.93" stroke="#000" stroke-width="0.9" />
<line x1="422.00" y1="288.82" x2="426.00" y2="288.82" stroke="#000" stroke-width="0.9" />
<circle cx="422.80" cy="299.93" r="1.35" fill="#f4f4f4" stroke="#000" stroke-width="1.0"/>
<circle cx="422.80" cy="293.39" r="1.35" fill="#f4f4f4" stroke="#000" stroke-width="1.0"/>
<circle cx="422.80" cy="288.82" r="1.35" fill="#f4f4f4" stroke="#000" stroke-width="1.0"/>
<circle cx="445.20" cy="352.58" r="1.35" fill="#f4f4f4" stroke="#000" stroke-width="1.0"/>
<circle cx="445.20" cy="351.93" r="1.35" fill="#f4f4f4" stroke="#000" stroke-width="1.0"/>
<circle cx="445.20" cy="351.27" r="1.35" fill="#f4f4f4" stroke="#000" stroke-width="1.0"/>
<text x="294.65" y="394.30" font-size="7.8" text-anchor="middle" fill="#1a1a1a" font-weight="normal" font-style="normal" font-family="Liberation Sans" stroke="#1a1a1a" stroke-width="0.12" >OL</text>
<text x="316.45" y="394.30" font-size="7.8" text-anchor="middle" fill="#1a1a1a" font-weight="normal" font-style="normal" font-family="Liberation Sans" stroke="#1a1a1a" stroke-width="0.12" >99%</text>
<text x="338.25" y="394.30" font-size="7.8" text-anchor="middle" fill="#1a1a1a" font-weight="normal" font-style="normal" font-family="Liberation Sans" stroke="#1a1a1a" stroke-width="0.12" >90%</text>
<text x="360.05" y="394.30" font-size="7.8" text-anchor="middle" fill="#1a1a1a" font-weight="normal" font-style="normal" font-family="Liberation Sans" stroke="#1a1a1a" stroke-width="0.12" >50%</text>
<text x="381.85" y="394.30" font-size="7.8" text-anchor="middle" fill="#1a1a1a" font-weight="normal" font-style="normal" font-family="Liberation Sans" stroke="#1a1a1a" stroke-width="0.12" >10%</text>
<text x="403.65" y="394.30" font-size="7.8" text-anchor="middle" fill="#1a1a1a" font-weight="normal" font-style="normal" font-family="Liberation Sans" stroke="#1a1a1a" stroke-width="0.12" >1%</text>
<text x="425.45" y="394.30" font-size="7.8" text-anchor="middle" fill="#1a1a1a" font-weight="normal" font-style="normal" font-family="Liberation Sans" stroke="#1a1a1a" stroke-width="0.12" >10x</text>
<text x="447.25" y="394.30" font-size="7.8" text-anchor="middle" fill="#1a1a1a" font-weight="normal" font-style="normal" font-family="Liberation Sans" stroke="#1a1a1a" stroke-width="0.12" >20x</text>
<text x="473.40" y="262.80" font-size="9" text-anchor="start" fill="#000" font-weight="bold" font-style="normal" font-family="Liberation Sans" >i.</text>
<line x1="507.50" y1="384.30" x2="685.00" y2="384.30" stroke="#666" stroke-width="0.8" />
<line x1="507.50" y1="386.80" x2="507.50" y2="272.00" stroke="#666" stroke-width="0.8" />
<line x1="507.50" y1="384.30" x2="510.10" y2="384.30" stroke="#666" stroke-width="0.7" />
<text x="505.60" y="387.20" font-size="8.3" text-anchor="end" fill="#1a1a1a" font-weight="normal" font-style="normal" font-family="Liberation Sans" stroke="#1a1a1a" stroke-width="0.12" >0.0</text>
<line x1="507.50" y1="357.30" x2="510.10" y2="357.30" stroke="#666" stroke-width="0.7" />
<text x="505.60" y="360.20" font-size="8.3" text-anchor="end" fill="#1a1a1a" font-weight="normal" font-style="normal" font-family="Liberation Sans" stroke="#1a1a1a" stroke-width="0.12" >0.5</text>
<line x1="507.50" y1="330.30" x2="510.10" y2="330.30" stroke="#666" stroke-width="0.7" />
<text x="505.60" y="333.20" font-size="8.3" text-anchor="end" fill="#1a1a1a" font-weight="normal" font-style="normal" font-family="Liberation Sans" stroke="#1a1a1a" stroke-width="0.12" >1.0</text>
<line x1="507.50" y1="303.30" x2="510.10" y2="303.30" stroke="#666" stroke-width="0.7" />
<text x="505.60" y="306.20" font-size="8.3" text-anchor="end" fill="#1a1a1a" font-weight="normal" font-style="normal" font-family="Liberation Sans" stroke="#1a1a1a" stroke-width="0.12" >1.5</text>
<line x1="507.50" y1="276.30" x2="510.10" y2="276.30" stroke="#666" stroke-width="0.7" />
<text x="505.60" y="279.20" font-size="8.3" text-anchor="end" fill="#1a1a1a" font-weight="normal" font-style="normal" font-family="Liberation Sans" stroke="#1a1a1a" stroke-width="0.12" >2.0</text>
<line x1="507.50" y1="378.90" x2="509.00" y2="378.90" stroke="#666" stroke-width="0.6" />
<line x1="507.50" y1="373.50" x2="509.00" y2="373.50" stroke="#666" stroke-width="0.6" />
<line x1="507.50" y1="368.10" x2="509.00" y2="368.10" stroke="#666" stroke-width="0.6" />
<line x1="507.50" y1="362.70" x2="509.00" y2="362.70" stroke="#666" stroke-width="0.6" />
<line x1="507.50" y1="351.90" x2="509.00" y2="351.90" stroke="#666" stroke-width="0.6" />
<line x1="507.50" y1="346.50" x2="509.00" y2="346.50" stroke="#666" stroke-width="0.6" />
<line x1="507.50" y1="341.10" x2="509.00" y2="341.10" stroke="#666" stroke-width="0.6" />
<line x1="507.50" y1="335.70" x2="509.00" y2="335.70" stroke="#666" stroke-width="0.6" />
<line x1="507.50" y1="324.90" x2="509.00" y2="324.90" stroke="#666" stroke-width="0.6" />
<line x1="507.50" y1="319.50" x2="509.00" y2="319.50" stroke="#666" stroke-width="0.6" />
<line x1="507.50" y1="314.10" x2="509.00" y2="314.10" stroke="#666" stroke-width="0.6" />
<line x1="507.50" y1="308.70" x2="509.00" y2="308.70" stroke="#666" stroke-width="0.6" />
<line x1="507.50" y1="297.90" x2="509.00" y2="297.90" stroke="#666" stroke-width="0.6" />
<line x1="507.50" y1="292.50" x2="509.00" y2="292.50" stroke="#666" stroke-width="0.6" />
<line x1="507.50" y1="287.10" x2="509.00" y2="287.10" stroke="#666" stroke-width="0.6" />
<line x1="507.50" y1="281.70" x2="509.00" y2="281.70" stroke="#666" stroke-width="0.6" />
<text x="0.00" y="0.00" font-size="7.4" text-anchor="middle" fill="#1a1a1a" font-weight="normal" font-style="normal" font-family="Liberation Sans" stroke="#1a1a1a" stroke-width="0.06" textLength="116.0" lengthAdjust="spacingAndGlyphs" transform="translate(490.6,327.6) rotate(-90)">Norm. Metabolite Titer (arb. units)</text>
<rect x="511.00" y="330.30" width="19.6" height="54.00" fill="#e2e9c6" stroke="#6a6a6a" stroke-width="0.7"/>
<rect x="532.50" y="298.98" width="19.6" height="85.32" fill="#c6d99d" stroke="#6a6a6a" stroke-width="0.7"/>
<rect x="554.00" y="293.20" width="19.6" height="91.10" fill="#a3c878" stroke="#6a6a6a" stroke-width="0.7"/>
<rect x="575.50" y="288.34" width="19.6" height="95.96" fill="#7bb64f" stroke="#6a6a6a" stroke-width="0.7"/>
<rect x="597.00" y="283.70" width="19.6" height="100.60" fill="#589442" stroke="#6a6a6a" stroke-width="0.7"/>
<rect x="618.50" y="278.03" width="19.6" height="106.27" fill="#4a8637" stroke="#6a6a6a" stroke-width="0.7"/>
<rect x="640.00" y="288.18" width="19.6" height="96.12" fill="#3a702f" stroke="#6a6a6a" stroke-width="0.7"/>
<rect x="661.50" y="348.66" width="19.6" height="35.64" fill="#2a5521" stroke="#6a6a6a" stroke-width="0.7"/>
<circle cx="543.00" cy="300.06" r="1.35" fill="#f4f4f4" stroke="#000" stroke-width="1.0"/>
<circle cx="543.00" cy="298.44" r="1.35" fill="#f4f4f4" stroke="#000" stroke-width="1.0"/>
<circle cx="543.00" cy="296.82" r="1.35" fill="#f4f4f4" stroke="#000" stroke-width="1.0"/>
<line x1="564.70" y1="295.20" x2="564.70" y2="290.88" stroke="#000" stroke-width="1.0" />
<line x1="562.70" y1="295.20" x2="566.70" y2="295.20" stroke="#000" stroke-width="0.9" />
<line x1="562.70" y1="290.88" x2="566.70" y2="290.88" stroke="#000" stroke-width="0.9" />
<circle cx="563.50" cy="295.74" r="1.35" fill="#f4f4f4" stroke="#000" stroke-width="1.0"/>
<circle cx="563.50" cy="293.04" r="1.35" fill="#f4f4f4" stroke="#000" stroke-width="1.0"/>
<circle cx="563.50" cy="290.34" r="1.35" fill="#f4f4f4" stroke="#000" stroke-width="1.0"/>
<line x1="586.00" y1="290.34" x2="586.00" y2="285.48" stroke="#000" stroke-width="1.0" />
<line x1="584.00" y1="290.34" x2="588.00" y2="290.34" stroke="#000" stroke-width="0.9" />
<line x1="584.00" y1="285.48" x2="588.00" y2="285.48" stroke="#000" stroke-width="0.9" />
<circle cx="584.80" cy="290.34" r="1.35" fill="#f4f4f4" stroke="#000" stroke-width="1.0"/>
<circle cx="584.80" cy="288.18" r="1.35" fill="#f4f4f4" stroke="#000" stroke-width="1.0"/>
<circle cx="584.80" cy="284.94" r="1.35" fill="#f4f4f4" stroke="#000" stroke-width="1.0"/>
<line x1="607.90" y1="287.10" x2="607.90" y2="280.62" stroke="#000" stroke-width="1.0" />
<line x1="605.90" y1="287.10" x2="609.90" y2="287.10" stroke="#000" stroke-width="0.9" />
<line x1="605.90" y1="280.62" x2="609.90" y2="280.62" stroke="#000" stroke-width="0.9" />
<circle cx="606.70" cy="286.56" r="1.35" fill="#f4f4f4" stroke="#000" stroke-width="1.0"/>
<circle cx="606.70" cy="283.86" r="1.35" fill="#f4f4f4" stroke="#000" stroke-width="1.0"/>
<circle cx="606.70" cy="280.08" r="1.35" fill="#f4f4f4" stroke="#000" stroke-width="1.0"/>
<line x1="630.00" y1="279.54" x2="630.00" y2="276.30" stroke="#000" stroke-width="1.0" />
<line x1="628.00" y1="279.54" x2="632.00" y2="279.54" stroke="#000" stroke-width="0.9" />
<line x1="628.00" y1="276.30" x2="632.00" y2="276.30" stroke="#000" stroke-width="0.9" />
<circle cx="628.80" cy="279.54" r="1.35" fill="#f4f4f4" stroke="#000" stroke-width="1.0"/>
<circle cx="628.80" cy="277.38" r="1.35" fill="#f4f4f4" stroke="#000" stroke-width="1.0"/>
<circle cx="628.80" cy="275.76" r="1.35" fill="#f4f4f4" stroke="#000" stroke-width="1.0"/>
<line x1="650.20" y1="300.06" x2="650.20" y2="276.84" stroke="#000" stroke-width="1.0" />
<line x1="648.20" y1="300.06" x2="652.20" y2="300.06" stroke="#000" stroke-width="0.9" />
<line x1="648.20" y1="276.84" x2="652.20" y2="276.84" stroke="#000" stroke-width="0.9" />
<circle cx="649.00" cy="300.06" r="1.35" fill="#f4f4f4" stroke="#000" stroke-width="1.0"/>
<circle cx="649.00" cy="288.18" r="1.35" fill="#f4f4f4" stroke="#000" stroke-width="1.0"/>
<circle cx="649.00" cy="276.84" r="1.35" fill="#f4f4f4" stroke="#000" stroke-width="1.0"/>
<line x1="671.70" y1="351.90" x2="671.70" y2="345.42" stroke="#000" stroke-width="1.0" />
<line x1="669.70" y1="351.90" x2="673.70" y2="351.90" stroke="#000" stroke-width="0.9" />
<line x1="669.70" y1="345.42" x2="673.70" y2="345.42" stroke="#000" stroke-width="0.9" />
<circle cx="670.50" cy="351.90" r="1.35" fill="#f4f4f4" stroke="#000" stroke-width="1.0"/>
<circle cx="670.50" cy="348.66" r="1.35" fill="#f4f4f4" stroke="#000" stroke-width="1.0"/>
<circle cx="670.50" cy="345.42" r="1.35" fill="#f4f4f4" stroke="#000" stroke-width="1.0"/>
<text x="521.70" y="394.30" font-size="7.8" text-anchor="middle" fill="#1a1a1a" font-weight="normal" font-style="normal" font-family="Liberation Sans" stroke="#1a1a1a" stroke-width="0.12" >OL</text>
<text x="543.20" y="394.30" font-size="7.8" text-anchor="middle" fill="#1a1a1a" font-weight="normal" font-style="normal" font-family="Liberation Sans" stroke="#1a1a1a" stroke-width="0.12" >99%</text>
<text x="564.70" y="394.30" font-size="7.8" text-anchor="middle" fill="#1a1a1a" font-weight="normal" font-style="normal" font-family="Liberation Sans" stroke="#1a1a1a" stroke-width="0.12" >90%</text>
<text x="586.20" y="394.30" font-size="7.8" text-anchor="middle" fill="#1a1a1a" font-weight="normal" font-style="normal" font-family="Liberation Sans" stroke="#1a1a1a" stroke-width="0.12" >50%</text>
<text x="607.70" y="394.30" font-size="7.8" text-anchor="middle" fill="#1a1a1a" font-weight="normal" font-style="normal" font-family="Liberation Sans" stroke="#1a1a1a" stroke-width="0.12" >10%</text>
<text x="629.20" y="394.30" font-size="7.8" text-anchor="middle" fill="#1a1a1a" font-weight="normal" font-style="normal" font-family="Liberation Sans" stroke="#1a1a1a" stroke-width="0.12" >1%</text>
<text x="650.70" y="394.30" font-size="7.8" text-anchor="middle" fill="#1a1a1a" font-weight="normal" font-style="normal" font-family="Liberation Sans" stroke="#1a1a1a" stroke-width="0.12" >10x</text>
<text x="672.20" y="394.30" font-size="7.8" text-anchor="middle" fill="#1a1a1a" font-weight="normal" font-style="normal" font-family="Liberation Sans" stroke="#1a1a1a" stroke-width="0.12" >20x</text>
</svg></body></html>
